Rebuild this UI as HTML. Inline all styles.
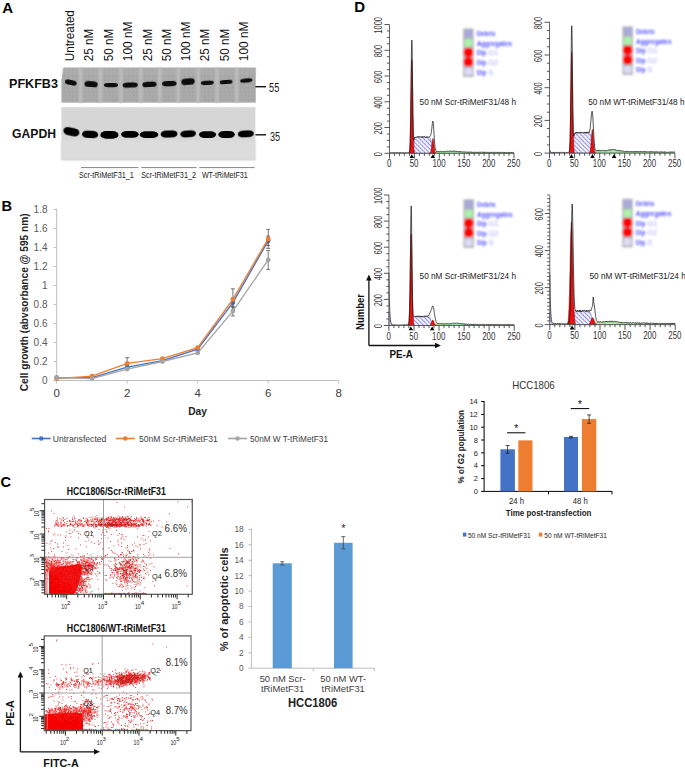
<!DOCTYPE html>
<html><head><meta charset="utf-8"><style>
html,body{margin:0;padding:0;background:#fff;}
svg{display:block;}
</style></head><body>
<svg width="685" height="769" viewBox="0 0 685 769" font-family="Liberation Sans, sans-serif">
<defs>
<filter id="b1" x="-50%" y="-50%" width="200%" height="200%"><feGaussianBlur stdDeviation="0.9"/></filter>
<filter id="b2" x="-50%" y="-50%" width="200%" height="200%"><feGaussianBlur stdDeviation="0.7"/></filter>
<filter id="b4" x="-5%" y="-5%" width="110%" height="110%"><feGaussianBlur stdDeviation="0.35"/></filter>
<filter id="b3" x="-20%" y="-20%" width="140%" height="140%"><feGaussianBlur stdDeviation="1.1"/></filter>
<pattern id="noise" width="4" height="4" patternUnits="userSpaceOnUse"><rect width="4" height="4" fill="#a9a9a9"/><rect x="0" y="0" width="1" height="1" fill="#9e9e9e"/><rect x="2" y="1" width="1" height="1" fill="#b3b3b3"/><rect x="1" y="3" width="1" height="1" fill="#a0a0a0"/><rect x="3" y="2" width="1" height="1" fill="#aeaeae"/></pattern>
<pattern id="hatch" width="3" height="3" patternUnits="userSpaceOnUse" patternTransform="rotate(-45)"><rect width="3" height="3" fill="#f4f4ff"/><line x1="0.5" y1="0" x2="0.5" y2="3" stroke="#5a5ad8" stroke-width="0.7"/><line x1="0" y1="1.5" x2="3" y2="1.5" stroke="#dcdcf4" stroke-width="0.5"/></pattern>
</defs>
<text x="2.2" y="12.8" font-size="15" text-anchor="start" fill="#000" font-weight="bold">A</text>
<text transform="translate(74.15,61.2) rotate(-90)" font-size="12" text-anchor="start" fill="#111" textLength="51.0" lengthAdjust="spacingAndGlyphs">Untreated</text>
<text transform="translate(93.3,61.2) rotate(-90)" font-size="12" text-anchor="start" fill="#111" textLength="32.4" lengthAdjust="spacingAndGlyphs">25 nM</text>
<text transform="translate(113.05,61.2) rotate(-90)" font-size="12" text-anchor="start" fill="#111" textLength="32.4" lengthAdjust="spacingAndGlyphs">50 nM</text>
<text transform="translate(132.45,61.2) rotate(-90)" font-size="12" text-anchor="start" fill="#111" textLength="39.6" lengthAdjust="spacingAndGlyphs">100 nM</text>
<text transform="translate(152.15,61.2) rotate(-90)" font-size="12" text-anchor="start" fill="#111" textLength="32.4" lengthAdjust="spacingAndGlyphs">25 nM</text>
<text transform="translate(171.35,61.2) rotate(-90)" font-size="12" text-anchor="start" fill="#111" textLength="32.4" lengthAdjust="spacingAndGlyphs">50 nM</text>
<text transform="translate(189.95,61.2) rotate(-90)" font-size="12" text-anchor="start" fill="#111" textLength="39.6" lengthAdjust="spacingAndGlyphs">100 nM</text>
<text transform="translate(209.45,61.2) rotate(-90)" font-size="12" text-anchor="start" fill="#111" textLength="32.4" lengthAdjust="spacingAndGlyphs">25 nM</text>
<text transform="translate(229.15,61.2) rotate(-90)" font-size="12" text-anchor="start" fill="#111" textLength="32.4" lengthAdjust="spacingAndGlyphs">50 nM</text>
<text transform="translate(248.35,61.2) rotate(-90)" font-size="12" text-anchor="start" fill="#111" textLength="39.6" lengthAdjust="spacingAndGlyphs">100 nM</text>
<path d="M63.7,67.8 H255.6 V102.6 H61.6 V80 Z" fill="#a9a9a9"/>
<path d="M63.7,67.8 H255.6 V102.6 H61.6 V80 Z" fill="url(#noise)" opacity="0.7"/>
<rect x="62" y="68" width="193.5" height="7" fill="#b0b0b0" opacity="0.5" filter="url(#b1)"/>
<rect x="79.1" y="68" width="3.0" height="34.5" fill="#c0c0c0" filter="url(#b1)"/>
<rect x="98.9" y="68" width="3.0" height="34.5" fill="#c0c0c0" filter="url(#b1)"/>
<rect x="119.4" y="68" width="3.0" height="34.5" fill="#c0c0c0" filter="url(#b1)"/>
<rect x="139.2" y="68" width="3.0" height="34.5" fill="#c0c0c0" filter="url(#b1)"/>
<rect x="158.3" y="68" width="3.0" height="34.5" fill="#c0c0c0" filter="url(#b1)"/>
<rect x="176.7" y="68" width="3.0" height="34.5" fill="#c0c0c0" filter="url(#b1)"/>
<rect x="196.7" y="68" width="3.0" height="34.5" fill="#c0c0c0" filter="url(#b1)"/>
<rect x="215.5" y="68" width="3.0" height="34.5" fill="#c0c0c0" filter="url(#b1)"/>
<rect x="235.1" y="68" width="3.0" height="34.5" fill="#c0c0c0" filter="url(#b1)"/>
<rect x="64.9" y="80.1" width="11.8" height="5.0" rx="3.5" ry="2.5" fill="#080808" filter="url(#b2)" transform="rotate(12,70.8,82.6)"/>
<rect x="84.5" y="81.3" width="13.2" height="5.8" rx="4.0" ry="2.9" fill="#080808" filter="url(#b2)" transform="rotate(4,91.1,84.2)"/>
<rect x="103.9" y="82.9" width="14.2" height="4.3" rx="4.3" ry="2.1" fill="#080808" filter="url(#b2)" transform="rotate(0,111,85.1)"/>
<rect x="122.6" y="82.4" width="15.2" height="5.2" rx="4.6" ry="2.6" fill="#080808" filter="url(#b2)" transform="rotate(-2,130.2,85)"/>
<rect x="142.4" y="81.8" width="14.2" height="5.2" rx="4.3" ry="2.6" fill="#080808" filter="url(#b2)" transform="rotate(-3,149.5,84.4)"/>
<rect x="162.0" y="80.9" width="14.6" height="5.4" rx="4.4" ry="2.7" fill="#080808" filter="url(#b2)" transform="rotate(-2,169.3,83.6)"/>
<rect x="181.3" y="78.6" width="13.4" height="6.2" rx="4.0" ry="3.1" fill="#080808" filter="url(#b2)" transform="rotate(-5,188,81.7)"/>
<rect x="200.8" y="80.7" width="13.0" height="4.2" rx="3.9" ry="2.1" fill="#080808" filter="url(#b2)" transform="rotate(-3,207.3,82.8)"/>
<rect x="219.7" y="79.9" width="12.8" height="4.2" rx="3.8" ry="2.1" fill="#080808" filter="url(#b2)" transform="rotate(-4,226.1,82)"/>
<rect x="240.2" y="78.6" width="12.2" height="3.9" rx="3.7" ry="1.9" fill="#080808" filter="url(#b2)" transform="rotate(-6,246.3,80.6)"/>
<rect x="61.4" y="107.2" width="194" height="53.1" fill="#d6d6d6"/>
<rect x="61.4" y="140" width="194" height="20.3" fill="#dcdcdc" filter="url(#b1)"/>
<rect x="63.3" y="127.7" width="16.2" height="8.0" rx="5.2" ry="4.0" fill="#030303" filter="url(#b2)" transform="rotate(12,71.4,131.7)"/>
<rect x="82.0" y="130.7" width="16.2" height="7.4" rx="5.2" ry="3.7" fill="#030303" filter="url(#b2)" transform="rotate(3,90.1,134.4)"/>
<rect x="100.3" y="131.1" width="18.2" height="7.6" rx="5.8" ry="3.8" fill="#030303" filter="url(#b2)" transform="rotate(0,109.4,134.9)"/>
<rect x="121.1" y="130.9" width="17.6" height="6.8" rx="5.6" ry="3.4" fill="#030303" filter="url(#b2)" transform="rotate(0,129.9,134.3)"/>
<rect x="139.7" y="131.3" width="18.6" height="6.8" rx="6.0" ry="3.4" fill="#030303" filter="url(#b2)" transform="rotate(0,149,134.7)"/>
<rect x="160.6" y="130.5" width="17" height="7.0" rx="5.4" ry="3.5" fill="#030303" filter="url(#b2)" transform="rotate(-2,169.1,134)"/>
<rect x="180.2" y="130.4" width="15.8" height="6.9" rx="5.1" ry="3.5" fill="#030303" filter="url(#b2)" transform="rotate(-4,188.1,133.8)"/>
<rect x="199.0" y="131.2" width="17.1" height="6.8" rx="5.5" ry="3.4" fill="#030303" filter="url(#b2)" transform="rotate(0,207.6,134.6)"/>
<rect x="218.3" y="131.0" width="16.5" height="7.0" rx="5.3" ry="3.5" fill="#030303" filter="url(#b2)" transform="rotate(0,226.6,134.5)"/>
<rect x="237.8" y="130.5" width="16.1" height="6.8" rx="5.2" ry="3.4" fill="#030303" filter="url(#b2)" transform="rotate(-3,245.8,133.9)"/>
<text x="9" y="87.7" font-size="12.6" text-anchor="start" fill="#111" font-weight="bold" textLength="48.9" lengthAdjust="spacingAndGlyphs">PFKFB3</text>
<text x="12.1" y="137.8" font-size="12.5" text-anchor="start" fill="#111" font-weight="bold" textLength="43.9" lengthAdjust="spacingAndGlyphs">GAPDH</text>
<line x1="255.4" y1="86.7" x2="266" y2="86.7" stroke="#111" stroke-width="1.4"/>
<line x1="255.4" y1="134.8" x2="266" y2="134.8" stroke="#111" stroke-width="1.4"/>
<text x="269.1" y="92.3" font-size="12" text-anchor="start" fill="#1a1a1a" textLength="10.2" lengthAdjust="spacingAndGlyphs">55</text>
<text x="269.9" y="140.5" font-size="12" text-anchor="start" fill="#1a1a1a" textLength="10.1" lengthAdjust="spacingAndGlyphs">35</text>
<line x1="81" y1="167.6" x2="138.5" y2="167.6" stroke="#777" stroke-width="0.9"/>
<line x1="141.2" y1="167.6" x2="196.5" y2="167.6" stroke="#777" stroke-width="0.9"/>
<line x1="199.2" y1="167.6" x2="254.6" y2="167.6" stroke="#777" stroke-width="0.9"/>
<text x="79" y="178.4" font-size="9.4" text-anchor="start" fill="#222" textLength="54.9" lengthAdjust="spacingAndGlyphs">Scr-tRiMetF31_1</text>
<text x="141.2" y="178.4" font-size="9.4" text-anchor="start" fill="#222" textLength="54.8" lengthAdjust="spacingAndGlyphs">Scr-tRiMetF31_2</text>
<text x="201.9" y="178.4" font-size="9.4" text-anchor="start" fill="#222" textLength="45.9" lengthAdjust="spacingAndGlyphs">WT-tRiMetF31</text>
<text x="1.6" y="210.6" font-size="14.6" text-anchor="start" fill="#000" font-weight="bold">B</text>
<line x1="56.7" y1="208.5" x2="56.7" y2="380.5" stroke="#bfbfbf" stroke-width="1"/>
<line x1="56.7" y1="380.5" x2="338.7" y2="380.5" stroke="#bfbfbf" stroke-width="1"/>
<line x1="53.7" y1="380.5" x2="56.7" y2="380.5" stroke="#bfbfbf" stroke-width="1"/>
<text x="47.5" y="384.0" font-size="10" text-anchor="end" fill="#595959">0</text>
<line x1="53.7" y1="361.5" x2="56.7" y2="361.5" stroke="#bfbfbf" stroke-width="1"/>
<text x="47.5" y="365.0" font-size="10" text-anchor="end" fill="#595959">0.2</text>
<line x1="53.7" y1="342.5" x2="56.7" y2="342.5" stroke="#bfbfbf" stroke-width="1"/>
<text x="47.5" y="346.0" font-size="10" text-anchor="end" fill="#595959">0.4</text>
<line x1="53.7" y1="323.5" x2="56.7" y2="323.5" stroke="#bfbfbf" stroke-width="1"/>
<text x="47.5" y="327.0" font-size="10" text-anchor="end" fill="#595959">0.6</text>
<line x1="53.7" y1="304.5" x2="56.7" y2="304.5" stroke="#bfbfbf" stroke-width="1"/>
<text x="47.5" y="308.0" font-size="10" text-anchor="end" fill="#595959">0.8</text>
<line x1="53.7" y1="285.5" x2="56.7" y2="285.5" stroke="#bfbfbf" stroke-width="1"/>
<text x="47.5" y="289.0" font-size="10" text-anchor="end" fill="#595959">1</text>
<line x1="53.7" y1="266.5" x2="56.7" y2="266.5" stroke="#bfbfbf" stroke-width="1"/>
<text x="47.5" y="270.0" font-size="10" text-anchor="end" fill="#595959">1.2</text>
<line x1="53.7" y1="247.5" x2="56.7" y2="247.5" stroke="#bfbfbf" stroke-width="1"/>
<text x="47.5" y="251.0" font-size="10" text-anchor="end" fill="#595959">1.4</text>
<line x1="53.7" y1="228.5" x2="56.7" y2="228.5" stroke="#bfbfbf" stroke-width="1"/>
<text x="47.5" y="232.0" font-size="10" text-anchor="end" fill="#595959">1.6</text>
<line x1="53.7" y1="209.5" x2="56.7" y2="209.5" stroke="#bfbfbf" stroke-width="1"/>
<text x="47.5" y="213.0" font-size="10" text-anchor="end" fill="#595959">1.8</text>
<line x1="56.7" y1="380.5" x2="56.7" y2="383.5" stroke="#bfbfbf" stroke-width="1"/>
<text x="56.7" y="396.6" font-size="11.5" text-anchor="middle" fill="#404040">0</text>
<line x1="127.2" y1="380.5" x2="127.2" y2="383.5" stroke="#bfbfbf" stroke-width="1"/>
<text x="127.2" y="396.6" font-size="11.5" text-anchor="middle" fill="#404040">2</text>
<line x1="197.7" y1="380.5" x2="197.7" y2="383.5" stroke="#bfbfbf" stroke-width="1"/>
<text x="197.7" y="396.6" font-size="11.5" text-anchor="middle" fill="#404040">4</text>
<line x1="268.2" y1="380.5" x2="268.2" y2="383.5" stroke="#bfbfbf" stroke-width="1"/>
<text x="268.2" y="396.6" font-size="11.5" text-anchor="middle" fill="#404040">6</text>
<line x1="338.7" y1="380.5" x2="338.7" y2="383.5" stroke="#bfbfbf" stroke-width="1"/>
<text x="338.7" y="396.6" font-size="11.5" text-anchor="middle" fill="#404040">8</text>
<text transform="translate(27.9,302.3) rotate(-90)" font-size="11" text-anchor="middle" fill="#222" font-weight="bold" textLength="177.9" lengthAdjust="spacingAndGlyphs">Cell growth (abvsorbance @ 595 nm)</text>
<text x="197.6" y="415" font-size="10.2" text-anchor="middle" fill="#222" font-weight="bold">Day</text>
<polyline points="56.7,377.6 92.0,377.6 127.2,367.2 162.4,360.6 197.7,349.1 232.9,302.6 268.2,240.8" fill="none" stroke="#4472c4" stroke-width="1.35"/>
<circle cx="56.7" cy="377.6" r="2.4" fill="#4472c4"/>
<circle cx="92.0" cy="377.6" r="2.4" fill="#4472c4"/>
<path d="M127.2,365.3V369.1M125.2,365.3h4M125.2,369.1h4" stroke="#555" stroke-width="0.8" fill="none"/>
<circle cx="127.2" cy="367.2" r="2.4" fill="#4472c4"/>
<circle cx="162.4" cy="360.6" r="2.4" fill="#4472c4"/>
<path d="M197.7,347.2V351.0M195.7,347.2h4M195.7,351.0h4" stroke="#555" stroke-width="0.8" fill="none"/>
<circle cx="197.7" cy="349.1" r="2.4" fill="#4472c4"/>
<path d="M232.9,297.9V307.4M230.9,297.9h4M230.9,307.4h4" stroke="#555" stroke-width="0.8" fill="none"/>
<circle cx="232.9" cy="302.6" r="2.4" fill="#4472c4"/>
<path d="M268.2,236.1V245.6M266.2,236.1h4M266.2,245.6h4" stroke="#555" stroke-width="0.8" fill="none"/>
<circle cx="268.2" cy="240.8" r="2.4" fill="#4472c4"/>
<polyline points="56.7,378.6 92.0,376.2 127.2,363.4 162.4,358.6 197.7,347.7 232.9,299.3 268.2,238.9" fill="none" stroke="#ed7d31" stroke-width="1.35"/>
<circle cx="56.7" cy="378.6" r="2.4" fill="#ed7d31"/>
<circle cx="92.0" cy="376.2" r="2.4" fill="#ed7d31"/>
<path d="M127.2,357.7V369.1M125.2,357.7h4M125.2,369.1h4" stroke="#555" stroke-width="0.8" fill="none"/>
<circle cx="127.2" cy="363.4" r="2.4" fill="#ed7d31"/>
<circle cx="162.4" cy="358.6" r="2.4" fill="#ed7d31"/>
<circle cx="197.7" cy="347.7" r="2.4" fill="#ed7d31"/>
<path d="M232.9,288.8V309.7M230.9,288.8h4M230.9,309.7h4" stroke="#555" stroke-width="0.8" fill="none"/>
<circle cx="232.9" cy="299.3" r="2.4" fill="#ed7d31"/>
<path d="M268.2,229.4V248.4M266.2,229.4h4M266.2,248.4h4" stroke="#555" stroke-width="0.8" fill="none"/>
<circle cx="268.2" cy="238.9" r="2.4" fill="#ed7d31"/>
<polyline points="56.7,377.6 92.0,378.6 127.2,369.1 162.4,361.5 197.7,352.9 232.9,311.1 268.2,259.9" fill="none" stroke="#a5a5a5" stroke-width="1.35"/>
<circle cx="56.7" cy="377.6" r="2.4" fill="#a5a5a5"/>
<circle cx="92.0" cy="378.6" r="2.4" fill="#a5a5a5"/>
<circle cx="127.2" cy="369.1" r="2.4" fill="#a5a5a5"/>
<circle cx="162.4" cy="361.5" r="2.4" fill="#a5a5a5"/>
<circle cx="197.7" cy="352.9" r="2.4" fill="#a5a5a5"/>
<path d="M232.9,306.4V315.9M230.9,306.4h4M230.9,315.9h4" stroke="#555" stroke-width="0.8" fill="none"/>
<circle cx="232.9" cy="311.1" r="2.4" fill="#a5a5a5"/>
<path d="M268.2,250.4V269.4M266.2,250.4h4M266.2,269.4h4" stroke="#555" stroke-width="0.8" fill="none"/>
<circle cx="268.2" cy="259.9" r="2.4" fill="#a5a5a5"/>
<line x1="31.7" y1="438.5" x2="50.7" y2="438.5" stroke="#4472c4" stroke-width="1.6"/>
<circle cx="41.2" cy="438.5" r="2.3" fill="#4472c4"/>
<line x1="115.8" y1="438.5" x2="134.8" y2="438.5" stroke="#ed7d31" stroke-width="1.6"/>
<circle cx="125.3" cy="438.5" r="2.3" fill="#ed7d31"/>
<line x1="228" y1="438.5" x2="247" y2="438.5" stroke="#a5a5a5" stroke-width="1.6"/>
<circle cx="237.5" cy="438.5" r="2.3" fill="#a5a5a5"/>
<text x="52.7" y="441.5" font-size="8.6" text-anchor="start" fill="#404040" textLength="53.7" lengthAdjust="spacingAndGlyphs">Untransfected</text>
<text x="139" y="441.5" font-size="8.6" text-anchor="start" fill="#404040" textLength="78.7" lengthAdjust="spacingAndGlyphs">50nM Scr-tRiMetF31</text>
<text x="250" y="441.5" font-size="8.6" text-anchor="start" fill="#404040" textLength="78" lengthAdjust="spacingAndGlyphs">50nM W T-tRiMetF31</text>
<text x="0.6" y="487.0" font-size="14.6" text-anchor="start" fill="#000" font-weight="bold">C</text>
<text x="66.8" y="494.9" font-size="10.6" text-anchor="start" fill="#111" font-weight="bold" textLength="99" lengthAdjust="spacingAndGlyphs">HCC1806/Scr-tRiMetF31</text>
<rect x="44.6" y="499.5" width="147.70000000000002" height="94.79999999999995" fill="#fff"/>
<g filter="url(#b4)">
<rect x="44.8" y="558" width="3.0" height="36.299999999999955" fill="#f4a4a4"/>
<path d="M49.0,571.0 L52.0,568.0 L60.0,566.5 L70.0,565.5 L78.0,564.0 L81.5,565.0 L82.0,568.0 L81.0,574.0 L79.5,580.0 L78.0,586.0 L76.0,591.0 L74.0,594.3 L49.0,594.3 z" fill="#f40000" filter="url(#b2)"/>
<path d="M57 576.95h0.9M77 570.95h0.9M56 573.95h0.9M72.5 581.95h0.9M57 565.45h0.9M74.5 577.95h0.9M82 581.45h0.9M67 572.45h0.9M91 572.45h0.9M61 566.45h0.9M69 575.45h0.9M65 573.95h0.9M70.5 579.45h0.9M78 575.95h0.9M52 579.45h0.9M55 573.45h0.9M54.5 574.45h0.9M61 575.95h0.9M97.5 573.95h0.9M75.5 564.95h0.9M65.5 578.95h0.9M67 576.95h0.9M69 567.45h0.9M73 568.95h0.9M85 570.95h0.9M74 574.45h0.9M76.5 570.45h0.9M77 573.45h0.9M79.5 578.95h0.9M69.5 568.95h0.9M75 577.95h0.9M83 571.95h0.9M73 577.95h0.9M70.5 575.95h0.9M69.5 570.45h0.9M59 571.45h0.9M73.5 584.95h0.9M77 581.95h0.9M75 579.45h0.9M69.5 579.95h0.9M84 571.95h0.9M62 587.95h0.9M70 581.45h0.9M76 566.45h0.9M90 586.95h0.9M69 568.45h0.9M78 579.45h0.9M68.5 583.95h0.9M61 579.95h0.9M78 572.45h0.9M52 567.95h0.9M70 577.95h0.9M82 567.45h0.9M68 578.95h0.9M66.5 557.95h0.9M75.5 590.45h0.9M77 567.95h0.9M64.5 575.95h0.9M90.5 578.95h0.9M69 585.45h0.9M67.5 587.45h0.9M62 570.95h0.9M74.5 584.45h0.9M74 576.45h0.9M51.5 569.45h0.9M62.5 570.95h0.9M73.5 571.95h0.9M75 574.95h0.9M65 575.45h0.9M72 580.45h0.9M63.5 572.95h0.9M55.5 585.45h0.9M81 572.95h0.9M63.5 565.95h0.9M69.5 575.95h0.9M87.5 575.95h0.9M61 557.45h0.9M80.5 575.95h0.9M53.5 575.95h0.9M78 578.45h0.9M66.5 559.45h0.9M67 563.45h0.9M73.5 559.45h0.9M60 582.95h0.9M83 565.95h0.9M54 580.45h0.9M75.5 567.45h0.9M62 569.45h0.9M57.5 569.45h0.9M79.5 579.45h0.9M86.5 573.95h0.9M67 567.45h0.9M67 565.45h0.9M81 580.45h0.9M80 576.45h0.9M61.5 574.95h0.9M64.5 566.45h0.9M53 563.95h0.9M68 575.45h0.9M63.5 584.45h0.9M69.5 578.45h0.9M79 568.95h0.9M50.5 579.95h0.9M62 583.45h0.9M71 581.45h0.9M75 559.95h0.9M74.5 569.95h0.9M61 571.45h0.9M75 580.45h0.9M77 562.95h0.9M62.5 557.95h0.9M67 578.45h0.9M60.5 568.45h0.9M61 586.95h0.9M78 573.45h0.9M70 575.45h0.9M70 572.95h0.9M65 565.45h0.9M62 585.95h0.9M73 574.95h0.9M66 574.95h0.9M71 569.95h0.9M70 575.95h0.9M61.5 568.95h0.9M59 566.95h0.9M76 557.95h0.9M65.5 569.95h0.9M62.5 574.95h0.9M78 574.95h0.9M66.5 569.95h0.9M67 580.95h0.9M56.5 566.95h0.9M55.5 581.95h0.9M71 572.95h0.9M81 569.95h0.9M75 579.95h0.9M54 563.45h0.9M59.5 580.95h0.9M79.5 565.95h0.9M77.5 571.95h0.9M64.5 570.45h0.9M65 561.95h0.9M59 565.95h0.9M72.5 588.95h0.9M92.5 571.95h0.9M52.5 571.45h0.9M59.5 588.45h0.9M73 569.45h0.9M76.5 578.45h0.9M53.5 570.95h0.9M66 574.45h0.9M69 571.95h0.9M60 584.95h0.9M71 577.45h0.9M53.5 573.45h0.9M75.5 565.45h0.9M78 571.95h0.9M71.5 573.45h0.9M70 582.95h0.9M64.5 585.45h0.9M61 567.95h0.9M74.5 566.95h0.9M64.5 580.95h0.9M79 561.95h0.9M72.5 587.45h0.9M79 572.95h0.9M62.5 572.45h0.9M57.5 572.45h0.9M66.5 573.45h0.9M78.5 572.95h0.9M55 581.95h0.9M58.5 571.45h0.9M67 571.95h0.9M59 572.95h0.9M87.5 570.45h0.9M67 582.45h0.9M74.5 579.95h0.9M76 560.45h0.9M60 575.45h0.9M72.5 583.45h0.9M72 572.95h0.9M68.5 572.95h0.9M70 578.95h0.9M65 568.95h0.9M60.5 581.95h0.9M79.5 581.45h0.9M75.5 580.45h0.9M58.5 572.95h0.9M61.5 579.45h0.9M63 573.45h0.9M71.5 583.95h0.9M75.5 566.95h0.9M72 570.45h0.9M67 561.95h0.9M74.5 570.95h0.9M60 588.95h0.9M71.5 571.95h0.9M68 577.45h0.9M72.5 567.95h0.9M69 570.95h0.9M57 580.45h0.9M74 574.95h0.9M60 560.45h0.9M72.5 573.95h0.9M53 573.95h0.9M69.5 576.95h0.9M57.5 571.95h0.9M70.5 578.95h0.9M82.5 556.45h0.9M71.5 572.95h0.9M88.5 580.95h0.9M53 577.45h0.9M63.5 581.45h0.9M58.5 573.95h0.9M67 573.95h0.9M62.5 561.45h0.9M72 581.45h0.9M67.5 567.45h0.9M70 578.45h0.9M66.5 574.45h0.9M80.5 566.45h0.9M63 560.95h0.9M61.5 569.45h0.9M59.5 569.45h0.9M84 572.95h0.9M67 589.95h0.9M67.5 562.45h0.9M71.5 567.95h0.9M82.5 565.95h0.9M63 563.45h0.9M67.5 571.95h0.9M62.5 580.95h0.9M76.5 574.95h0.9M60 566.95h0.9M70.5 590.95h0.9M64 568.95h0.9M61.5 566.95h0.9M81 574.45h0.9M63.5 562.95h0.9M70 574.45h0.9M57 566.95h0.9M67.5 581.45h0.9M73.5 575.95h0.9M65 576.45h0.9M68 589.45h0.9M58 571.95h0.9M79.5 572.45h0.9M81 573.95h0.9M69.5 571.95h0.9M55.5 567.45h0.9M88 578.95h0.9M73.5 580.95h0.9M73 581.45h0.9M65.5 572.95h0.9M77 571.95h0.9M56 572.95h0.9M63 578.95h0.9M65 585.45h0.9M67.5 575.45h0.9M68 576.45h0.9M76.5 584.45h0.9M53 583.95h0.9M68 572.45h0.9M89.5 573.45h0.9M85.5 581.45h0.9M58.5 577.95h0.9M74.5 573.45h0.9M47 571.95h0.9M66.5 566.45h0.9M84.5 572.95h0.9M64.5 572.45h0.9M61 568.95h0.9M69 576.45h0.9M63.5 573.95h0.9M55.5 577.95h0.9M61.5 575.95h0.9M60 570.95h0.9M70 565.95h0.9M90 573.95h0.9M67.5 569.45h0.9M82.5 583.95h0.9M70.5 564.95h0.9M63.5 578.95h0.9M57.5 568.95h0.9M68 569.95h0.9M84 566.95h0.9M71 574.95h0.9M67 581.95h0.9M65 571.95h0.9M64.5 573.95h0.9M79.5 579.95h0.9M56 571.45h0.9M70 580.45h0.9M67.5 560.95h0.9M72 575.95h0.9M72.5 565.45h0.9M68.5 569.45h0.9M62 576.95h0.9M71 568.45h0.9M52.5 556.95h0.9M63 582.45h0.9M67.5 558.45h0.9M60 577.45h0.9M83 582.45h0.9M71.5 575.95h0.9M68.5 571.95h0.9M71 584.45h0.9M74.5 577.45h0.9M66 563.95h0.9M59 583.45h0.9M65 576.95h0.9M86.5 566.45h0.9M70.5 568.95h0.9M85.5 568.45h0.9M68 580.95h0.9M62.5 579.45h0.9M61 578.45h0.9M72 582.95h0.9M71.5 565.95h0.9M74 566.95h0.9M75 584.95h0.9M73.5 570.45h0.9M78.5 575.45h0.9M57 571.95h0.9M81 572.45h0.9M53 570.95h0.9M71 575.95h0.9M79 579.45h0.9M77 583.45h0.9M64 570.45h0.9M71 585.95h0.9M53 572.95h0.9M61.5 578.45h0.9M57 574.95h0.9M65.5 563.45h0.9M76 570.95h0.9M74 565.45h0.9M78 564.45h0.9M77.5 561.95h0.9M80.5 571.95h0.9M54 572.95h0.9M71 567.45h0.9M63.5 576.45h0.9M66.5 552.95h0.9M64 577.45h0.9M70.5 581.45h0.9M62 592.45h0.9M75 576.45h0.9M78 580.95h0.9M69 569.95h0.9M77 577.45h0.9M51 566.95h0.9M72 575.45h0.9M69.5 585.45h0.9M62.5 571.45h0.9M71 579.45h0.9M63.5 582.45h0.9M72 566.95h0.9M67 588.95h0.9M75 570.95h0.9M46.5 569.45h0.9M89 579.45h0.9M71 567.95h0.9M57.5 572.95h0.9M64.5 569.95h0.9M57 583.45h0.9M65 564.95h0.9M71 577.95h0.9M65 579.45h0.9M75.5 568.45h0.9M49.5 557.95h0.9M67 582.95h0.9M77 583.95h0.9M84.5 574.45h0.9M77.5 563.95h0.9M74 576.95h0.9M67 571.45h0.9M58 575.45h0.9M79.5 571.95h0.9M73 569.95h0.9M70.5 567.45h0.9M71 570.45h0.9M77.5 585.45h0.9M65 579.95h0.9M75 576.95h0.9M54 576.95h0.9M59.5 582.45h0.9M75 578.95h0.9M45 578.95h0.9M74.5 565.45h0.9M66.5 569.45h0.9M96 575.95h0.9M70 569.95h0.9M62.5 570.45h0.9M60 580.45h0.9M65.5 580.45h0.9M57.5 580.95h0.9M67 568.45h0.9M79 571.45h0.9M66.5 568.45h0.9M70 571.95h0.9M70.5 576.95h0.9M62 564.45h0.9M72 580.95h0.9M74.5 566.45h0.9M73.5 576.95h0.9M70.5 577.45h0.9M65 575.95h0.9M76.5 570.95h0.9M55 573.95h0.9M70 561.45h0.9M62 578.45h0.9M66.5 574.95h0.9M56.5 580.95h0.9M61.5 566.45h0.9M76 574.95h0.9M61 582.95h0.9M75 578.45h0.9M52 573.95h0.9M73.5 565.95h0.9M77.5 569.45h0.9M61.5 580.95h0.9M77 582.95h0.9M79 573.95h0.9M64.5 561.45h0.9M75 590.45h0.9M64 570.95h0.9M55.5 569.45h0.9M58 588.45h0.9M61.5 580.45h0.9M85.5 587.95h0.9M81 585.95h0.9M61.5 572.45h0.9M91.5 562.45h0.9M73 565.95h0.9M80 583.45h0.9M63.5 588.95h0.9M68.5 583.45h0.9M64.5 573.45h0.9M73.5 575.45h0.9M89 572.95h0.9M64 569.45h0.9M61 564.45h0.9M59 580.95h0.9M68.5 573.45h0.9M71 581.95h0.9M73.5 579.95h0.9M63 572.45h0.9M61 573.95h0.9M60.5 571.95h0.9M66.5 572.95h0.9M65.5 570.95h0.9M80 571.95h0.9M59 575.95h0.9M58 566.95h0.9M69 562.95h0.9M77.5 562.95h0.9M60 578.45h0.9M50 568.45h0.9M57 572.95h0.9M50 580.95h0.9M66.5 576.45h0.9M65 559.45h0.9M66.5 564.95h0.9M68 568.45h0.9M65 572.95h0.9M59 574.45h0.9M81 577.95h0.9M61.5 573.45h0.9M65 580.95h0.9M68.5 576.95h0.9M88 564.95h0.9M59 562.45h0.9M53.5 580.45h0.9M70.5 585.95h0.9M81 581.45h0.9M76 580.45h0.9M68.5 574.45h0.9M68.5 580.45h0.9M81 566.45h0.9M65.5 573.45h0.9M87 577.45h0.9M64 581.95h0.9M90.5 566.45h0.9M62 575.45h0.9M62.5 589.45h0.9M72.5 571.45h0.9M72.5 568.95h0.9M89.5 558.45h0.9M72 583.95h0.9M74.5 587.95h0.9M67 570.95h0.9M61 558.95h0.9M64.5 575.45h0.9M69.5 580.45h0.9M71 578.95h0.9M60 563.95h0.9M59 581.95h0.9M77 568.45h0.9M69 580.45h0.9M80 569.95h0.9M66 584.45h0.9M89.5 584.95h0.9M57.5 577.45h0.9M65.5 573.95h0.9M68 586.95h0.9M68 568.95h0.9M66 582.95h0.9M75.5 587.95h0.9M70.5 574.45h0.9M53.5 577.45h0.9M52.5 584.95h0.9M62.5 574.45h0.9M56 570.95h0.9M50.5 573.95h0.9M63.5 566.45h0.9M73.5 572.95h0.9M69 570.45h0.9M63 571.45h0.9M53.5 578.95h0.9M71.5 562.45h0.9M69 582.45h0.9M70 583.45h0.9M65.5 574.45h0.9M56.5 567.95h0.9M51.5 567.95h0.9M59 577.45h0.9M66.5 586.95h0.9M85.5 580.95h0.9M58 570.95h0.9M69.5 569.45h0.9M72.5 579.45h0.9M75.5 575.95h0.9M60 568.45h0.9M67 583.95h0.9M71.5 578.95h0.9M75.5 583.45h0.9M75.5 563.95h0.9M76.5 576.95h0.9M64 577.95h0.9M70.5 573.95h0.9M53 575.45h0.9M73 573.95h0.9M74.5 575.95h0.9M72 571.95h0.9M62 577.95h0.9M97.5 579.45h0.9M69 579.95h0.9M61.5 572.95h0.9M47.5 578.45h0.9M80.5 573.45h0.9M77 576.45h0.9M66 572.45h0.9M60.5 583.45h0.9M76 567.45h0.9M75.5 569.45h0.9M54.5 582.95h0.9M56.5 582.95h0.9M70 580.95h0.9M72.5 582.45h0.9M71 578.45h0.9M70 581.95h0.9M64.5 581.45h0.9M81.5 573.95h0.9M72 570.95h0.9M65.5 576.45h0.9M65 568.45h0.9M67.5 575.95h0.9M52 584.45h0.9M66.5 568.95h0.9M64.5 577.45h0.9M76 571.95h0.9M69.5 563.45h0.9M69.5 573.45h0.9M64 580.45h0.9M84 581.45h0.9M61 584.95h0.9M63 577.45h0.9M73 575.45h0.9M66 573.45h0.9M63.5 573.45h0.9M66 569.45h0.9M66 564.45h0.9M71.5 578.45h0.9M65.5 585.45h0.9M60.5 578.45h0.9M72.5 570.95h0.9M66 580.45h0.9M68.5 576.45h0.9M53 569.45h0.9M75.5 573.45h0.9M58.5 560.45h0.9M71 584.95h0.9M57 559.45h0.9M72.5 570.45h0.9M65.5 572.45h0.9M76 576.95h0.9M63 581.45h0.9M59.5 578.95h0.9M74.5 583.45h0.9M68.5 577.45h0.9M63 580.45h0.9M75 581.95h0.9M64.5 565.95h0.9M67.5 572.95h0.9M78 577.45h0.9M59.5 570.45h0.9M76 575.45h0.9M77 568.95h0.9M67 584.95h0.9M72 581.95h0.9M51 562.95h0.9M60.5 581.45h0.9M82.5 569.95h0.9M59.5 567.45h0.9M65 587.45h0.9M70 573.45h0.9M75 580.95h0.9M65 580.45h0.9M65 569.95h0.9M79.5 574.45h0.9M75 585.45h0.9M71 582.95h0.9M71.5 579.45h0.9M69 577.45h0.9M82.5 581.45h0.9M75 592.45h0.9M75.5 572.45h0.9M87 579.45h0.9M82 590.45h0.9M71.5 582.95h0.9M75 586.45h0.9M78 573.95h0.9M78.5 587.95h0.9M76.5 586.45h0.9M75.5 581.95h0.9M79.5 583.45h0.9M84.5 588.95h0.9M82 587.45h0.9M79 574.45h0.9M79 580.95h0.9M78 590.95h0.9M79.5 575.95h0.9M74 592.45h0.9M83 571.45h0.9M73 579.45h0.9M76 572.95h0.9M82.5 571.45h0.9M81.5 587.45h0.9M76 577.95h0.9M78.5 583.45h0.9M68 573.95h0.9M80.5 581.95h0.9M76 575.95h0.9M91.5 573.95h0.9M85.5 585.95h0.9M79 583.95h0.9M76 593.45h0.9M80.5 582.45h0.9M77.5 583.95h0.9M72.5 580.45h0.9M75 586.95h0.9M77 589.45h0.9M71.5 574.45h0.9M83 581.45h0.9M76 573.95h0.9M79 578.45h0.9M79 585.45h0.9M81.5 580.45h0.9M75.5 582.95h0.9M77.5 583.45h0.9M75.5 580.95h0.9M79 590.45h0.9M75.5 586.45h0.9M81.5 578.45h0.9M81 584.45h0.9M73 582.95h0.9M80 575.95h0.9M84 585.45h0.9M88.5 565.45h0.9M69 586.95h0.9M77.5 577.95h0.9M81 582.95h0.9M79.5 584.45h0.9M72.5 591.45h0.9M76 590.45h0.9M81.5 582.95h0.9M78.5 581.95h0.9M80 571.45h0.9M70.5 589.95h0.9M82 571.95h0.9M83 580.45h0.9M79 581.45h0.9M74.5 586.95h0.9M73 571.95h0.9M73.5 589.95h0.9M75.5 586.95h0.9M81.5 578.95h0.9M81.5 585.95h0.9M77.5 573.45h0.9M80 584.95h0.9M75 588.45h0.9M84 582.95h0.9M74.5 585.95h0.9M66 578.45h0.9M74.5 592.95h0.9M66.5 589.95h0.9M79 589.45h0.9M77 578.45h0.9M77 592.95h0.9M82 580.45h0.9M80 588.45h0.9M81 581.95h0.9M75 577.45h0.9M76 578.45h0.9M70 572.45h0.9M82.5 574.95h0.9M71.5 581.95h0.9M85 591.45h0.9M75.5 585.95h0.9M72.5 576.95h0.9M76.5 582.45h0.9M72.5 577.45h0.9M80.5 580.95h0.9M62.5 586.95h0.9M77.5 576.45h0.9M76.5 561.45h0.9M70 590.45h0.9M74.5 582.95h0.9M82 573.95h0.9M86.5 577.45h0.9M80 574.45h0.9M80 582.45h0.9M83.5 574.45h0.9M72 584.95h0.9M80 578.95h0.9M76.5 592.45h0.9M83.5 586.45h0.9M83.5 572.95h0.9M67.5 577.95h0.9M76.5 584.95h0.9M84.5 572.45h0.9M80.5 585.45h0.9M70.5 591.45h0.9M91.5 591.45h0.9M80 591.95h0.9M84 574.45h0.9M80.5 592.45h0.9M75.5 587.45h0.9M79 585.95h0.9M79.5 584.95h0.9M84.5 578.95h0.9M76 585.95h0.9M85.5 581.95h0.9M77.5 575.95h0.9M76 588.95h0.9M82.5 590.45h0.9M70 588.45h0.9M73.5 586.45h0.9M66 581.95h0.9M73.5 591.45h0.9M78.5 591.45h0.9M75.5 575.45h0.9M82.5 579.45h0.9M77.5 572.95h0.9M76.5 583.45h0.9M74.5 585.45h0.9M66.5 588.95h0.9M76 592.95h0.9M75.5 584.45h0.9M81 578.95h0.9M74 585.45h0.9M82 569.95h0.9M72.5 577.95h0.9M86.5 590.95h0.9M82 585.95h0.9M72.5 590.45h0.9M88 572.45h0.9M85 583.95h0.9M73.5 583.95h0.9M74.5 573.95h0.9M91.5 578.95h0.9M83 581.95h0.9M81.5 573.45h0.9M72.5 559.45h0.9M83 585.45h0.9M72 588.45h0.9M79 588.95h0.9M81 587.95h0.9M81.5 591.45h0.9M72 574.45h0.9M77 570.45h0.9M82 587.95h0.9M88 583.95h0.9M88 577.45h0.9M82.5 583.45h0.9M85 590.45h0.9M82.5 588.95h0.9M74 581.95h0.9M78.5 577.45h0.9M79 589.95h0.9M84 580.95h0.9M72.5 587.95h0.9M86.5 568.95h0.9M77.5 582.95h0.9M83.5 592.95h0.9M77 571.45h0.9M81.5 589.45h0.9M80.5 582.95h0.9M83 584.45h0.9M81.5 584.95h0.9M86.5 592.45h0.9M75 589.45h0.9M84 579.45h0.9M77.5 576.95h0.9M73.5 583.45h0.9M73 585.45h0.9M87 586.45h0.9M83.5 585.45h0.9M73 580.45h0.9M78.5 585.45h0.9M78 574.45h0.9M83 582.95h0.9M78.5 582.45h0.9M67.5 572.45h0.9M73.5 589.45h0.9M73 576.45h0.9M75.5 589.95h0.9M69.5 581.45h0.9M78 587.95h0.9M79.5 575.45h0.9M81 576.95h0.9M76.5 592.95h0.9M90.5 592.95h0.9M80 576.95h0.9M79.5 572.95h0.9M86 586.45h0.9M84.5 585.45h0.9M67 577.45h0.9M77.5 581.45h0.9M85.5 577.95h0.9M77.5 581.95h0.9M77.5 574.95h0.9M72 564.45h0.9M79.5 580.95h0.9M79 574.95h0.9M78 575.45h0.9M73 584.95h0.9M81 586.45h0.9M78 579.95h0.9M67.5 576.45h0.9M79.5 589.45h0.9M68.5 579.45h0.9M85.5 592.45h0.9M73.5 585.45h0.9M70.5 582.95h0.9M71.5 590.45h0.9M84.5 589.45h0.9M81.5 590.45h0.9M79.5 588.45h0.9M80.5 587.95h0.9M73 588.45h0.9M80.5 576.95h0.9M73 578.45h0.9M77.5 593.95h0.9M86.5 587.45h0.9M72.5 589.95h0.9M71.5 586.45h0.9M65.5 575.45h0.9M82.5 578.45h0.9M78 578.95h0.9M85.5 584.95h0.9M72 578.95h0.9M76.5 585.95h0.9M86 578.95h0.9M80 590.45h0.9M76 579.95h0.9M78.5 573.45h0.9M87 572.95h0.9M76 576.45h0.9M85.5 578.95h0.9M78 583.95h0.9M74.5 581.45h0.9M77 587.45h0.9M82 588.45h0.9M77.5 587.95h0.9M77 590.45h0.9M80 579.45h0.9M73 576.95h0.9M77.5 573.95h0.9M72 568.95h0.9M78.5 576.95h0.9M89 587.95h0.9M72.5 591.95h0.9M86.5 569.95h0.9M79.5 569.95h0.9M92.5 563.95h0.9M81 563.95h0.9M87.5 574.95h0.9M97 571.45h0.9M84.5 563.95h0.9M88.5 564.45h0.9M83 564.45h0.9M91 565.45h0.9M87.5 564.45h0.9M85 563.95h0.9M93.5 566.45h0.9M95 564.95h0.9M92.5 559.95h0.9M83.5 565.45h0.9M82 564.95h0.9M80.5 564.95h0.9M82 565.45h0.9M84.5 561.45h0.9M78.5 565.95h0.9M93.5 564.45h0.9M89.5 567.95h0.9M81 570.95h0.9M101 561.45h0.9M99 562.45h0.9M95 557.95h0.9M93 565.95h0.9M78.5 561.95h0.9M79.5 561.95h0.9M88.5 564.95h0.9M71 564.45h0.9M89 565.95h0.9M96 557.95h0.9M87.5 565.45h0.9M90.5 559.95h0.9M78 564.95h0.9M86.5 557.95h0.9M90.5 554.95h0.9M89 561.95h0.9M83 568.45h0.9M96 565.95h0.9M85.5 570.95h0.9M83 561.45h0.9M87 573.45h0.9M87.5 567.45h0.9M86 569.95h0.9M87 561.95h0.9M86.5 571.45h0.9M85.5 570.45h0.9M85.5 573.45h0.9M87.5 567.95h0.9M84.5 568.95h0.9M84.5 559.45h0.9M88 560.45h0.9M95 568.45h0.9M86 568.45h0.9M70.5 571.45h0.9M82 567.95h0.9M101.5 558.95h0.9M83.5 566.95h0.9M88.5 558.45h0.9M80.5 571.45h0.9M82.5 567.95h0.9M78 561.95h0.9M75 566.45h0.9M84.5 566.45h0.9M89 564.45h0.9M99.5 562.95h0.9M92 570.45h0.9M89.5 564.45h0.9M92 569.95h0.9M93 560.95h0.9M84 574.95h0.9M89.5 566.45h0.9M85 566.45h0.9M84.5 567.95h0.9M91.5 568.95h0.9M78.5 563.95h0.9M86.5 560.45h0.9M86.5 566.95h0.9M82.5 571.95h0.9M92.5 563.45h0.9M89 568.45h0.9M81.5 563.95h0.9M78 566.95h0.9M90 561.95h0.9M91 574.45h0.9M86.5 561.45h0.9M90.5 571.45h0.9M77.5 565.45h0.9M91 565.95h0.9M82 562.95h0.9M77.5 566.45h0.9M83.5 568.95h0.9M92 561.95h0.9M79.5 567.95h0.9M89.5 563.95h0.9M97 562.45h0.9M88.5 563.95h0.9M68.5 564.95h0.9M85 567.95h0.9M85.5 562.45h0.9M90.5 564.45h0.9M93.5 568.95h0.9M81.5 569.45h0.9M80 564.95h0.9M93 565.45h0.9M85 570.45h0.9M81.5 561.95h0.9M92 567.95h0.9M77.5 565.95h0.9M91 564.95h0.9M83.5 565.95h0.9M87.5 562.45h0.9M91 558.95h0.9M85.5 573.95h0.9M79.5 565.45h0.9M72.5 561.95h0.9M79 565.95h0.9M83 572.95h0.9M80.5 565.45h0.9M91.5 559.45h0.9M99.5 564.45h0.9M81.5 558.95h0.9M83.5 558.45h0.9M87 562.95h0.9M88 562.45h0.9M86.5 574.45h0.9M76 559.95h0.9M94 562.95h0.9M94 567.95h0.9M99 572.45h0.9M89.5 562.95h0.9M89.5 570.95h0.9M87 553.95h0.9M84 563.95h0.9M85.5 563.95h0.9M93 560.45h0.9M88.5 557.45h0.9M73 561.45h0.9M89.5 565.95h0.9M87 562.45h0.9M80 559.95h0.9M83.5 560.95h0.9M84 568.45h0.9M80.5 556.45h0.9M79.5 573.45h0.9M90 563.95h0.9M94 563.95h0.9M96 563.95h0.9M83.5 568.45h0.9M79 564.95h0.9M97.5 567.45h0.9M79.5 564.45h0.9M86 562.45h0.9M88.5 570.45h0.9M88 565.95h0.9M94 563.45h0.9M80.5 567.45h0.9M89 564.95h0.9M77.5 567.95h0.9M77 557.95h0.9M66 561.95h0.9M86 563.95h0.9M90.5 569.45h0.9M84.5 571.95h0.9M85 561.95h0.9M87 559.95h0.9M84 560.95h0.9M83.5 566.45h0.9M71.5 566.95h0.9M90.5 566.95h0.9M84 561.45h0.9M90.5 568.45h0.9M77 562.45h0.9M82.5 560.45h0.9M95 567.45h0.9M87.5 566.45h0.9M85 565.45h0.9M91.5 567.45h0.9M97 563.45h0.9M78 565.95h0.9M79 575.95h0.9M88 573.45h0.9M80 565.45h0.9M76 570.45h0.9M85.5 572.45h0.9M81.5 568.45h0.9M81.5 562.45h0.9M79.5 566.95h0.9M91 562.45h0.9M96.5 564.45h0.9M78.5 568.95h0.9M85.5 561.95h0.9M83.5 555.95h0.9M81 560.45h0.9M78 567.95h0.9M87.5 572.45h0.9M69.5 562.95h0.9M92 565.95h0.9M86.5 562.45h0.9M83 563.45h0.9M70.5 572.95h0.9M90.5 573.95h0.9M93.5 567.45h0.9M91 558.45h0.9M80 568.95h0.9M83.5 558.95h0.9M86 559.95h0.9M86 571.95h0.9M79 563.45h0.9M89 565.45h0.9M84 555.95h0.9M79 564.45h0.9M90 570.45h0.9M93 561.95h0.9M83.5 572.45h0.9M83 566.45h0.9M81 562.95h0.9M68 562.95h0.9M72.5 561.45h0.9M80 570.95h0.9M82.5 559.95h0.9M85 568.95h0.9M84.5 565.45h0.9M80 569.45h0.9M95.5 558.95h0.9M86 567.95h0.9M88 566.45h0.9M88.5 558.95h0.9M85.5 569.95h0.9M85.5 564.45h0.9M88.5 571.45h0.9M84.5 561.95h0.9M89 563.45h0.9M81 565.95h0.9M75.5 567.95h0.9M78.5 562.95h0.9M90.5 565.45h0.9M87.5 570.95h0.9M95 573.95h0.9M82.5 568.95h0.9M76 568.45h0.9M94 562.45h0.9M88.5 568.95h0.9M85 562.95h0.9M95 559.95h0.9M87 569.45h0.9M87.5 571.95h0.9M96.5 568.45h0.9M87.5 565.95h0.9M54 566.95h0.9M54 569.45h0.9M48 560.95h0.9M49.5 570.45h0.9M50.5 571.45h0.9M49 569.45h0.9M52 569.95h0.9M52 566.95h0.9M49.5 571.45h0.9M51.5 568.45h0.9M55 562.95h0.9M47.5 565.95h0.9M58.5 561.95h0.9M46.5 562.45h0.9M50 561.95h0.9M48 568.45h0.9M46.5 566.45h0.9M46 565.45h0.9M54.5 558.45h0.9M52 567.45h0.9M51.5 567.45h0.9M54 560.95h0.9M51.5 568.95h0.9M58.5 560.95h0.9M49 560.95h0.9M52 561.95h0.9M47 569.45h0.9M63.5 557.95h0.9M60 562.45h0.9M55.5 567.95h0.9M58 565.45h0.9M56 562.95h0.9M54 566.45h0.9M53 566.45h0.9M55 569.45h0.9M50.5 564.95h0.9M46.5 563.45h0.9M54.5 570.45h0.9M58 562.95h0.9M47.5 565.45h0.9M46 563.95h0.9M55.5 566.95h0.9M50 563.95h0.9M45.5 574.95h0.9M50 565.95h0.9M49.5 563.95h0.9M55 560.45h0.9M52 564.95h0.9M60.5 567.95h0.9M54 568.45h0.9M55 566.95h0.9M50.5 569.45h0.9M53.5 563.95h0.9M47.5 562.45h0.9M53.5 565.95h0.9M47.5 564.95h0.9M51.5 563.95h0.9M52.5 569.45h0.9M58.5 563.45h0.9M55 567.45h0.9M52.5 569.95h0.9M56.5 561.45h0.9M59.5 565.45h0.9M48.5 563.45h0.9M51 561.95h0.9M57.5 567.95h0.9M47.5 569.95h0.9M53 566.95h0.9M57 565.95h0.9M50.5 568.45h0.9M54.5 570.95h0.9M48.5 565.45h0.9M55 572.45h0.9M61 570.45h0.9M46 561.95h0.9M52.5 559.95h0.9M55.5 563.95h0.9M53.5 566.95h0.9M56 561.95h0.9M53 565.95h0.9M55 568.45h0.9M53 568.45h0.9M54 571.95h0.9M53.5 568.45h0.9M56 570.45h0.9M47 566.45h0.9M50.5 566.45h0.9M49.5 564.95h0.9M51.5 566.95h0.9M57 562.95h0.9M54.5 565.45h0.9M46 570.45h0.9M46.5 570.95h0.9M51 569.95h0.9M52 559.45h0.9M48.5 557.95h0.9M54 569.95h0.9M57 560.95h0.9M62.5 573.95h0.9M51.5 558.45h0.9M47.5 570.45h0.9M62.5 564.45h0.9M45 557.95h0.9M49.5 565.45h0.9M52.5 564.95h0.9M49 563.95h0.9M49 571.45h0.9M54 570.45h0.9M51.5 570.45h0.9M51 563.95h0.9M54 564.45h0.9M52 566.45h0.9M56.5 566.45h0.9M49.5 578.45h0.9M51 565.45h0.9M51 563.45h0.9M59.5 558.95h0.9M48 567.95h0.9M48.5 568.45h0.9M51.5 561.95h0.9M51 564.45h0.9M54.5 556.45h0.9M52.5 567.45h0.9M49.5 567.95h0.9M51 561.45h0.9M46 556.95h0.9M57.5 567.45h0.9M55.5 560.95h0.9M50.5 567.95h0.9M51.5 565.95h0.9M53 567.45h0.9M49.5 565.95h0.9M56.5 562.95h0.9M50 572.95h0.9M48 562.95h0.9M57.5 566.95h0.9M51.5 571.95h0.9M46 565.95h0.9M54.5 567.45h0.9M46 562.45h0.9M61 565.95h0.9M50.5 570.95h0.9M47 566.95h0.9M47.5 566.95h0.9M53.5 566.45h0.9M50.5 567.45h0.9M50.5 564.45h0.9M55 569.95h0.9M45 562.45h0.9M48 567.45h0.9M45 572.45h0.9M56.5 563.45h0.9M54 567.95h0.9M58.5 562.45h0.9M59 568.95h0.9M53 570.45h0.9M50.5 565.45h0.9M56 564.95h0.9M48.5 562.95h0.9M47.5 563.95h0.9M48.5 574.95h0.9M62 570.45h0.9M58.5 564.45h0.9M48.5 572.45h0.9M59.5 562.45h0.9M61.5 563.95h0.9M52 571.45h0.9M51 568.45h0.9M51.5 559.95h0.9M49.5 569.95h0.9M49.5 560.45h0.9M49.5 566.95h0.9M54.5 567.95h0.9M54.5 562.45h0.9M49 563.45h0.9M58.5 565.45h0.9M57.5 570.95h0.9M53 560.95h0.9M61.5 558.95h0.9M46 569.45h0.9M48.5 569.45h0.9M47 570.95h0.9M57 560.45h0.9M47.5 559.45h0.9M46.5 570.45h0.9M59 570.45h0.9M55.5 564.95h0.9M50 567.95h0.9M56.5 570.95h0.9M53.5 565.45h0.9M52 572.95h0.9M53.5 574.45h0.9M48.5 569.95h0.9M48.5 567.95h0.9M52 565.45h0.9M46 560.95h0.9M50.5 568.95h0.9M53.5 567.45h0.9M54 561.45h0.9M93.5 526.95h0.9M109 524.95h0.9M110.5 524.45h0.9M140 520.95h0.9M99.5 519.95h0.9M109 524.45h0.9M135 526.95h0.9M105.5 519.95h0.9M131 524.45h0.9M114 524.95h0.9M97.5 525.45h0.9M115 520.45h0.9M107.5 523.95h0.9M98 523.95h0.9M122.5 524.95h0.9M108 525.45h0.9M90.5 524.95h0.9M110.5 520.45h0.9M104 524.95h0.9M111.5 518.95h0.9M91 521.45h0.9M137 525.95h0.9M124.5 523.95h0.9M112 524.45h0.9M104.5 525.95h0.9M120 524.95h0.9M107.5 524.95h0.9M102.5 522.45h0.9M98.5 522.95h0.9M127.5 522.95h0.9M111.5 522.45h0.9M143 522.45h0.9M99.5 520.45h0.9M143.5 524.95h0.9M113 524.45h0.9M98.5 521.45h0.9M133.5 524.95h0.9M87.5 522.45h0.9M124 520.95h0.9M117 521.95h0.9M145 522.95h0.9M115.5 523.45h0.9M74.5 527.45h0.9M135.5 519.45h0.9M114 518.45h0.9M106.5 518.45h0.9M60.5 519.95h0.9M100 524.95h0.9M112.5 518.95h0.9M141.5 517.95h0.9M114 519.45h0.9M128 516.95h0.9M123 522.95h0.9M151 521.45h0.9M123 517.95h0.9M73 525.95h0.9M106.5 526.95h0.9M114.5 525.95h0.9M125.5 517.95h0.9M125 525.95h0.9M128.5 525.95h0.9M112 525.95h0.9M91 524.95h0.9M118.5 521.95h0.9M141 523.45h0.9M123 519.95h0.9M117.5 519.95h0.9M135 524.45h0.9M85.5 518.95h0.9M109 525.45h0.9M107.5 527.45h0.9M101 518.95h0.9M117.5 525.45h0.9M93 526.95h0.9M118.5 520.95h0.9M113 519.45h0.9M77.5 526.95h0.9M107 523.45h0.9M124 525.95h0.9M121 520.45h0.9M130 517.95h0.9M75.5 524.45h0.9M140 522.95h0.9M124.5 520.45h0.9M123.5 524.95h0.9M116 519.95h0.9M119.5 516.95h0.9M131.5 524.95h0.9M117.5 518.45h0.9M140.5 516.95h0.9M80 522.95h0.9M124 524.45h0.9M114 525.45h0.9M95 526.45h0.9M117.5 525.95h0.9M107 526.45h0.9M112.5 522.45h0.9M109.5 516.95h0.9M133.5 526.95h0.9M120.5 524.45h0.9M125.5 524.45h0.9M116.5 518.95h0.9M87 519.45h0.9M110.5 526.45h0.9M120.5 522.45h0.9M134.5 521.95h0.9M144 517.45h0.9M103 525.95h0.9M123 525.95h0.9M106.5 524.95h0.9M112.5 521.95h0.9M125 523.95h0.9M101 519.95h0.9M131 516.45h0.9M96.5 519.95h0.9M106.5 519.95h0.9M97 518.45h0.9M108 523.95h0.9M95 519.45h0.9M117 525.45h0.9M110.5 525.45h0.9M116 521.95h0.9M107.5 524.45h0.9M128 523.95h0.9M85 520.95h0.9M89 524.45h0.9M107 519.45h0.9M131 525.95h0.9M113.5 517.95h0.9M79.5 521.45h0.9M101 524.45h0.9M109.5 522.45h0.9M110.5 519.95h0.9M107 525.95h0.9M134.5 523.45h0.9M119.5 521.95h0.9M96.5 515.45h0.9M108 517.45h0.9M64 524.45h0.9M115.5 517.45h0.9M142.5 520.45h0.9M108 520.45h0.9M116.5 526.45h0.9M119.5 523.95h0.9M106 527.45h0.9M117.5 524.95h0.9M127.5 524.45h0.9M121 517.95h0.9M93.5 520.95h0.9M148.5 520.95h0.9M95 524.45h0.9M139 525.45h0.9M98 521.45h0.9M123.5 518.45h0.9M121 518.45h0.9M125 524.95h0.9M131.5 523.45h0.9M112 521.95h0.9M127.5 525.45h0.9M110.5 516.95h0.9M138 525.95h0.9M111.5 520.45h0.9M112 524.95h0.9M78.5 523.45h0.9M93.5 524.45h0.9M108.5 519.95h0.9M108 524.45h0.9M124.5 526.45h0.9M95 521.95h0.9M61 525.95h0.9M114.5 524.45h0.9M107 518.95h0.9M87.5 525.45h0.9M144.5 523.95h0.9M61.5 523.95h0.9M116.5 524.95h0.9M125 526.95h0.9M134 525.95h0.9M116.5 521.95h0.9M104 521.95h0.9M125 518.95h0.9M133 524.45h0.9M70 524.95h0.9M124.5 521.95h0.9M56.5 524.95h0.9M143 520.45h0.9M108.5 525.45h0.9M135 520.95h0.9M124.5 524.95h0.9M118 525.95h0.9M116.5 524.45h0.9M83.5 524.95h0.9M93 521.95h0.9M61 526.45h0.9M130 520.95h0.9M139 521.95h0.9M116 524.95h0.9M57.5 524.95h0.9M92.5 523.95h0.9M110.5 518.45h0.9M94.5 518.45h0.9M110.5 520.95h0.9M138.5 526.45h0.9M107.5 520.95h0.9M108.5 523.95h0.9M126.5 520.45h0.9M107.5 526.45h0.9M109.5 523.95h0.9M80.5 520.45h0.9M73.5 519.95h0.9M148.5 517.45h0.9M91 520.95h0.9M100 526.45h0.9M134 518.45h0.9M61.5 525.95h0.9M137 521.95h0.9M136.5 525.95h0.9M123 520.95h0.9M134.5 525.95h0.9M132.5 525.95h0.9M134 524.45h0.9M110.5 524.95h0.9M120.5 526.45h0.9M67.5 525.45h0.9M137 520.95h0.9M74.5 523.95h0.9M111 519.95h0.9M106 520.45h0.9M120 518.95h0.9M115 523.95h0.9M114 524.45h0.9M141 519.45h0.9M111 517.95h0.9M127 524.45h0.9M111.5 523.45h0.9M92 519.45h0.9M63 520.45h0.9M102.5 526.95h0.9M118 520.45h0.9M118.5 521.45h0.9M86.5 520.95h0.9M142.5 525.95h0.9M82 524.95h0.9M147.5 523.95h0.9M132 521.95h0.9M112.5 523.95h0.9M87 525.45h0.9M92 520.95h0.9M95 516.95h0.9M106 519.45h0.9M75.5 521.95h0.9M121.5 524.45h0.9M119 523.45h0.9M110 524.95h0.9M98 522.95h0.9M124 518.95h0.9M78.5 524.95h0.9M110 524.45h0.9M124 524.95h0.9M89.5 520.45h0.9M136 526.45h0.9M120 524.45h0.9M138 520.45h0.9M146.5 520.45h0.9M120.5 523.45h0.9M113 524.95h0.9M130.5 520.45h0.9M113.5 518.45h0.9M117.5 523.95h0.9M66 523.45h0.9M146 522.95h0.9M108.5 524.45h0.9M60.5 523.45h0.9M145.5 520.95h0.9M92.5 525.45h0.9M94.5 523.45h0.9M136 520.45h0.9M62.5 524.45h0.9M116.5 525.95h0.9M108.5 523.45h0.9M108.5 525.95h0.9M111.5 524.45h0.9M138.5 521.45h0.9M135.5 522.95h0.9M118.5 522.95h0.9M54 525.95h0.9M104 519.45h0.9M121 525.45h0.9M114 525.95h0.9M128.5 521.95h0.9M116 525.45h0.9M67 526.45h0.9M128 522.45h0.9M84.5 523.95h0.9M129.5 518.95h0.9M143.5 522.45h0.9M100.5 520.95h0.9M107.5 522.95h0.9M102.5 517.95h0.9M113 521.95h0.9M138 524.95h0.9M109 522.95h0.9M74.5 518.45h0.9M119 526.95h0.9M104 524.45h0.9M117 524.45h0.9M56 524.45h0.9M77 521.45h0.9M120.5 524.95h0.9M119.5 525.45h0.9M124.5 522.95h0.9M102 519.95h0.9M119.5 521.45h0.9M132 524.45h0.9M125.5 522.45h0.9M121 524.45h0.9M99 523.95h0.9M125 519.45h0.9M115 524.45h0.9M108 522.45h0.9M96.5 524.95h0.9M75.5 523.45h0.9M136 518.95h0.9M105.5 525.45h0.9M106 518.45h0.9M94.5 518.95h0.9M142.5 518.95h0.9M63 524.95h0.9M115.5 521.95h0.9M87.5 524.45h0.9M119.5 524.45h0.9M96.5 521.45h0.9M64 522.45h0.9M129.5 524.95h0.9M102.5 524.95h0.9M123 522.45h0.9M113.5 525.45h0.9M89.5 517.45h0.9M60.5 526.45h0.9M101.5 520.45h0.9M101.5 526.45h0.9M100 522.45h0.9M120 523.95h0.9M80.5 524.45h0.9M101 521.45h0.9M111.5 525.95h0.9M100.5 524.45h0.9M88 520.95h0.9M124.5 518.95h0.9M109 526.95h0.9M55.5 524.45h0.9M67 521.45h0.9M98.5 520.45h0.9M112 519.45h0.9M79 523.95h0.9M85.5 521.95h0.9M105.5 524.95h0.9M112.5 520.95h0.9M79.5 520.45h0.9M113.5 522.45h0.9M99.5 519.45h0.9M143 522.95h0.9M136.5 518.95h0.9M105.5 526.45h0.9M122 519.95h0.9M126 519.95h0.9M65 524.95h0.9M119.5 518.95h0.9M101.5 524.45h0.9M112 519.95h0.9M66.5 518.45h0.9M119 518.45h0.9M102 524.45h0.9M58 522.95h0.9M123 520.45h0.9M87 524.95h0.9M130 525.95h0.9M63 517.95h0.9M99.5 522.95h0.9M121.5 519.95h0.9M111 522.95h0.9M56 522.95h0.9M134 523.95h0.9M60 524.95h0.9M109.5 521.95h0.9M88.5 526.45h0.9M122.5 519.95h0.9M113.5 521.95h0.9M70 524.45h0.9M112 522.45h0.9M126.5 524.95h0.9M131 523.95h0.9M130.5 519.95h0.9M149 519.95h0.9M113.5 524.45h0.9M125.5 525.95h0.9M114.5 520.45h0.9M124.5 523.45h0.9M88.5 525.45h0.9M83 518.45h0.9M139.5 520.45h0.9M119.5 520.95h0.9M72 519.45h0.9M90.5 519.45h0.9M70 523.45h0.9M115 523.45h0.9M75 522.45h0.9M116.5 519.45h0.9M99 521.45h0.9M74 517.95h0.9M115.5 524.45h0.9M158.5 520.45h0.9M120 522.95h0.9M78 525.45h0.9M79.5 525.95h0.9M99.5 524.95h0.9M146.5 519.95h0.9M111.5 526.45h0.9M126 526.45h0.9M139.5 525.45h0.9M114 518.95h0.9M135.5 524.95h0.9M142 520.95h0.9M57 519.95h0.9M128.5 521.45h0.9M133.5 520.45h0.9M117.5 522.45h0.9M91.5 525.45h0.9M69.5 524.95h0.9M118 519.45h0.9M136 525.45h0.9M72.5 521.45h0.9M148 524.45h0.9M79.5 519.45h0.9M71.5 521.95h0.9M97 519.45h0.9M124 525.45h0.9M56.5 523.95h0.9M134.5 524.45h0.9M55 521.95h0.9M117.5 526.45h0.9M73 521.45h0.9M130 519.45h0.9M106 525.95h0.9M138 518.95h0.9M120 526.45h0.9M72 521.45h0.9M92 525.45h0.9M89.5 522.95h0.9M129 524.45h0.9M108 517.95h0.9M107.5 525.45h0.9M58.5 524.45h0.9M148 520.45h0.9M88 524.95h0.9M122 525.45h0.9M80 524.95h0.9M83 525.45h0.9M118.5 525.45h0.9M125.5 518.45h0.9M122 521.45h0.9M98 524.45h0.9M120 520.45h0.9M91.5 521.45h0.9M78 520.45h0.9M103 525.45h0.9M91.5 516.95h0.9M69.5 521.45h0.9M58 526.45h0.9M118.5 524.45h0.9M87 523.95h0.9M139.5 518.95h0.9M101.5 518.95h0.9M137.5 524.45h0.9M125 524.45h0.9M109.5 524.95h0.9M148 524.95h0.9M150 524.95h0.9M139.5 526.45h0.9M86 523.95h0.9M59.5 518.45h0.9M95.5 525.95h0.9M118 522.95h0.9M56.5 524.45h0.9M87 520.95h0.9M117 525.95h0.9M116.5 518.45h0.9M143.5 521.45h0.9M61.5 519.95h0.9M115.5 518.95h0.9M128 525.45h0.9M140 524.45h0.9M156.5 525.45h0.9M97 520.45h0.9M57 517.95h0.9M69 520.95h0.9M119 524.45h0.9M72.5 525.45h0.9M105 523.45h0.9M116 524.45h0.9M108.5 518.45h0.9M148.5 519.45h0.9M55 523.95h0.9M126.5 523.45h0.9M131 523.45h0.9M120.5 519.45h0.9M77 525.95h0.9M57 521.95h0.9M126.5 519.95h0.9M149.5 521.95h0.9M87 520.45h0.9M112.5 524.95h0.9M122.5 525.45h0.9M112 520.95h0.9M142 525.45h0.9M135 523.95h0.9M104.5 520.45h0.9M116 523.45h0.9M135 519.45h0.9M122 524.95h0.9M105 525.45h0.9M127 523.45h0.9M115.5 524.95h0.9M117.5 523.45h0.9M110 523.95h0.9M120.5 519.95h0.9M97 522.95h0.9M127 521.45h0.9M96 525.95h0.9M117 524.95h0.9M111 524.95h0.9M111 516.95h0.9M120 522.45h0.9M130 519.95h0.9M96 517.95h0.9M128.5 519.95h0.9M149 523.45h0.9M84 525.95h0.9M104 520.95h0.9M133 525.95h0.9M116 526.45h0.9M121.5 526.45h0.9M130.5 526.95h0.9M62.5 525.95h0.9M82 523.95h0.9M81 520.95h0.9M105 524.95h0.9M130.5 522.95h0.9M90.5 524.45h0.9M69 520.45h0.9M86.5 518.45h0.9M128.5 524.95h0.9M102 522.95h0.9M125.5 516.95h0.9M96 524.45h0.9M71.5 524.95h0.9M126.5 519.45h0.9M142 523.95h0.9M120.5 525.95h0.9M94.5 527.95h0.9M117 519.45h0.9M142 524.95h0.9M100.5 525.45h0.9M123 524.95h0.9M113.5 527.45h0.9M125 522.95h0.9M146 524.45h0.9M128.5 527.45h0.9M128.5 524.45h0.9M131.5 520.45h0.9M147 520.45h0.9M116 518.95h0.9M117.5 524.45h0.9M83 526.45h0.9M116 526.95h0.9M102.5 524.45h0.9M127.5 523.45h0.9M107 522.95h0.9M87.5 521.95h0.9M129 518.45h0.9M153 520.95h0.9M84 521.45h0.9M112 525.45h0.9M130 522.45h0.9M128 518.95h0.9M100.5 521.45h0.9M67 525.45h0.9M111 523.95h0.9M122 521.95h0.9M126.5 523.95h0.9M142.5 519.95h0.9M142 524.45h0.9M141 524.95h0.9M68.5 525.45h0.9M117.5 519.45h0.9M119 520.95h0.9M105 518.95h0.9M114 523.95h0.9M127 522.45h0.9M124 519.45h0.9M94 522.95h0.9M129.5 520.45h0.9M116 522.45h0.9M115.5 526.95h0.9M92.5 517.95h0.9M56 520.45h0.9M121.5 517.95h0.9M109 520.95h0.9M123 524.45h0.9M131.5 526.45h0.9M107.5 517.45h0.9M101 523.45h0.9M150.5 525.45h0.9M105 525.95h0.9M60.5 522.45h0.9M129 520.95h0.9M135.5 525.45h0.9M133 521.45h0.9M126 519.45h0.9M125 521.95h0.9M146 525.95h0.9M134 520.45h0.9M74 524.45h0.9M100 521.95h0.9M144.5 520.95h0.9M103.5 524.95h0.9M128 525.95h0.9M112 523.45h0.9M86.5 522.95h0.9M129.5 520.95h0.9M121.5 563.45h0.9M134.5 564.45h0.9M132 576.95h0.9M133 573.95h0.9M129 560.95h0.9M119 569.45h0.9M124.5 580.95h0.9M126 575.45h0.9M110.5 561.45h0.9M117 571.95h0.9M123 567.45h0.9M137 577.95h0.9M125 567.45h0.9M140.5 570.95h0.9M131.5 582.45h0.9M114.5 553.45h0.9M118 571.95h0.9M136 581.95h0.9M128 559.95h0.9M127 573.95h0.9M118 569.45h0.9M121.5 575.45h0.9M126 575.95h0.9M118 573.95h0.9M119.5 578.95h0.9M138.5 565.95h0.9M123 573.95h0.9M129 565.45h0.9M129 566.95h0.9M122 573.45h0.9M131 564.95h0.9M123.5 575.95h0.9M143 560.95h0.9M119.5 579.45h0.9M120.5 571.45h0.9M134 568.45h0.9M130.5 571.45h0.9M122 575.95h0.9M125 563.95h0.9M147.5 572.45h0.9M117 572.95h0.9M136.5 564.45h0.9M136 560.45h0.9M132.5 574.45h0.9M120 568.95h0.9M129.5 577.45h0.9M121 581.45h0.9M129.5 561.95h0.9M131.5 561.95h0.9M133 566.95h0.9M131.5 564.95h0.9M121.5 584.45h0.9M144.5 563.45h0.9M139.5 570.45h0.9M121.5 587.45h0.9M120.5 568.45h0.9M122 568.45h0.9M126 573.95h0.9M112.5 576.95h0.9M113.5 564.95h0.9M129.5 572.95h0.9M124.5 572.45h0.9M122.5 574.45h0.9M124 582.95h0.9M130.5 570.45h0.9M139 572.45h0.9M121.5 561.45h0.9M112 572.45h0.9M120 563.95h0.9M131.5 587.95h0.9M109.5 577.95h0.9M121 537.95h0.9M127 576.95h0.9M127 545.45h0.9M129.5 557.95h0.9M138 558.45h0.9M120.5 583.95h0.9M122 552.95h0.9M116 564.45h0.9M134.5 587.45h0.9M133 562.95h0.9M123 568.95h0.9M128 556.95h0.9M127.5 580.45h0.9M126.5 578.95h0.9M123 554.95h0.9M139 569.95h0.9M141 577.45h0.9M126.5 567.95h0.9M148 574.95h0.9M124 558.45h0.9M144.5 587.45h0.9M126 569.95h0.9M125 555.95h0.9M121 554.45h0.9M118 576.95h0.9M125 568.45h0.9M115.5 582.95h0.9M125.5 580.45h0.9M140.5 566.95h0.9M123.5 572.45h0.9M134.5 584.45h0.9M134.5 560.95h0.9M134 570.45h0.9M135.5 545.95h0.9M122.5 565.95h0.9M129.5 567.45h0.9M127.5 575.45h0.9M127.5 566.45h0.9M127 583.45h0.9M138 570.45h0.9M126.5 566.95h0.9M132.5 556.45h0.9M126 577.95h0.9M126.5 564.95h0.9M127 561.45h0.9M121 568.95h0.9M129.5 563.95h0.9M120 564.95h0.9M114 558.45h0.9M133 576.95h0.9M104.5 556.45h0.9M145.5 567.95h0.9M133 581.45h0.9M113 577.95h0.9M127 568.95h0.9M132 564.95h0.9M125.5 585.95h0.9M129 565.95h0.9M120.5 567.45h0.9M146 564.95h0.9M150 570.45h0.9M143 578.45h0.9M136.5 575.95h0.9M146.5 568.95h0.9M135.5 565.95h0.9M137.5 556.95h0.9M135 557.45h0.9M142 559.95h0.9M121.5 577.95h0.9M116 569.95h0.9M118 556.45h0.9M114 574.95h0.9M123.5 571.95h0.9M124 580.95h0.9M122 575.45h0.9M135.5 559.45h0.9M130 567.95h0.9M126.5 566.45h0.9M143.5 561.95h0.9M143 554.45h0.9M127.5 563.45h0.9M136 577.95h0.9M121 564.45h0.9M129 559.95h0.9M135.5 571.45h0.9M130.5 564.45h0.9M125.5 582.45h0.9M135 567.95h0.9M137.5 566.45h0.9M99.5 573.45h0.9M125.5 572.45h0.9M126 572.95h0.9M127.5 561.45h0.9M139.5 564.45h0.9M124 567.45h0.9M126.5 584.95h0.9M113.5 572.45h0.9M132.5 571.95h0.9M119.5 563.45h0.9M143.5 576.95h0.9M121.5 565.45h0.9M141 561.95h0.9M125 579.45h0.9M126.5 554.45h0.9M128 568.95h0.9M126 571.45h0.9M104.5 564.95h0.9M111.5 572.45h0.9M119 568.45h0.9M135.5 558.45h0.9M134.5 581.45h0.9M125.5 559.95h0.9M126 565.45h0.9M127 569.45h0.9M125.5 562.95h0.9M132 571.95h0.9M138.5 572.45h0.9M122.5 576.95h0.9M132.5 551.45h0.9M120 554.45h0.9M131 566.45h0.9M119 562.45h0.9M130 567.45h0.9M118.5 571.45h0.9M122.5 570.95h0.9M122 585.95h0.9M128.5 574.95h0.9M137 554.95h0.9M141 580.45h0.9M123 569.95h0.9M135.5 592.45h0.9M123.5 569.45h0.9M114.5 560.95h0.9M132.5 568.95h0.9M129 563.45h0.9M127.5 561.95h0.9M125.5 563.45h0.9M110 574.45h0.9M116 567.45h0.9M127 567.45h0.9M115.5 568.45h0.9M135.5 575.95h0.9M127.5 581.45h0.9M128.5 557.45h0.9M133.5 549.95h0.9M135.5 574.45h0.9M135.5 573.95h0.9M123 564.95h0.9M129 568.45h0.9M127.5 562.95h0.9M129 576.45h0.9M131 572.95h0.9M118.5 555.95h0.9M124.5 579.95h0.9M124 572.45h0.9M125 563.45h0.9M129 578.45h0.9M137.5 571.45h0.9M115.5 559.45h0.9M116 584.45h0.9M115 570.45h0.9M135.5 564.95h0.9M110.5 576.95h0.9M111 570.45h0.9M123 570.95h0.9M117 569.45h0.9M152.5 581.45h0.9M137 569.95h0.9M145.5 573.95h0.9M134 572.45h0.9M137.5 569.95h0.9M128.5 566.45h0.9M139 571.45h0.9M150.5 558.45h0.9M124 561.45h0.9M114 575.95h0.9M124 565.45h0.9M108 565.95h0.9M116 577.45h0.9M115 569.95h0.9M135 574.45h0.9M126 560.95h0.9M146 564.45h0.9M132 563.45h0.9M124.5 570.45h0.9M129 581.95h0.9M131 568.45h0.9M117 567.95h0.9M121.5 569.45h0.9M123.5 576.45h0.9M132.5 558.95h0.9M124 564.95h0.9M122.5 568.95h0.9M132.5 567.45h0.9M130 571.45h0.9M146 557.45h0.9M119 562.95h0.9M119.5 584.95h0.9M134.5 565.45h0.9M118 559.45h0.9M127.5 572.95h0.9M138.5 581.95h0.9M126 562.95h0.9M115.5 560.95h0.9M127.5 562.45h0.9M125.5 566.95h0.9M129 574.45h0.9M138.5 570.95h0.9M125.5 547.95h0.9M116.5 554.45h0.9M110 575.45h0.9M120.5 570.95h0.9M143.5 570.95h0.9M133.5 570.45h0.9M133.5 569.95h0.9M130 568.95h0.9M130 580.95h0.9M126 569.45h0.9M134.5 571.95h0.9M130 570.95h0.9M131.5 570.95h0.9M123.5 570.95h0.9M130 574.95h0.9M109.5 568.45h0.9M130.5 559.45h0.9M130.5 585.95h0.9M135 570.45h0.9M126 573.45h0.9M116.5 574.45h0.9M126.5 576.95h0.9M113 570.45h0.9M127.5 587.95h0.9M129 571.45h0.9M137.5 583.45h0.9M126.5 570.95h0.9M136.5 560.45h0.9M128.5 567.45h0.9M125.5 570.95h0.9M135 586.45h0.9M124 574.45h0.9M125 577.45h0.9M129 551.45h0.9M132.5 558.45h0.9M116.5 572.95h0.9M123 561.45h0.9M115 567.95h0.9M122 590.45h0.9M119.5 562.45h0.9M128.5 570.45h0.9M134.5 569.95h0.9M135 568.95h0.9M114.5 570.45h0.9M125.5 566.45h0.9M130.5 567.45h0.9M142 560.95h0.9M122.5 580.95h0.9M133 559.45h0.9M122.5 562.45h0.9M123.5 571.45h0.9M116 580.45h0.9M129.5 556.95h0.9M118 568.95h0.9M123 577.95h0.9M139 579.45h0.9M121 557.95h0.9M136.5 561.95h0.9M132 572.95h0.9M133.5 573.45h0.9M124.5 563.95h0.9M125 578.45h0.9M154 585.95h0.9M139.5 569.45h0.9M121.5 574.95h0.9M128.5 561.45h0.9M121.5 552.45h0.9M121 578.95h0.9M139 575.45h0.9M122.5 567.95h0.9M117.5 586.45h0.9M135 576.45h0.9M120 585.95h0.9M115.5 563.95h0.9M112.5 573.95h0.9M143 568.95h0.9M137 571.45h0.9M116 572.45h0.9M129 552.45h0.9M135.5 568.45h0.9M122.5 573.45h0.9M149.5 563.95h0.9M137.5 567.95h0.9M126 555.45h0.9M128.5 562.45h0.9M112.5 569.45h0.9M131 566.95h0.9M123 572.95h0.9M122 567.95h0.9M117.5 574.95h0.9M122.5 569.45h0.9M137.5 583.95h0.9M136 573.45h0.9M127.5 567.45h0.9M125.5 572.95h0.9M143 557.45h0.9M140 570.45h0.9M120.5 566.95h0.9M114 565.95h0.9M144 570.45h0.9M126 577.45h0.9M119 586.45h0.9M104.5 575.45h0.9M135 577.45h0.9M125.5 588.95h0.9M136 584.95h0.9M129.5 573.45h0.9M132.5 564.45h0.9M124 565.95h0.9M125.5 574.45h0.9M145 573.45h0.9M105 555.45h0.9M136 568.95h0.9M108.5 560.95h0.9M120.5 577.95h0.9M122 565.95h0.9M132 580.45h0.9M138.5 580.95h0.9M133.5 568.95h0.9M121.5 578.45h0.9M117 578.45h0.9M117 568.95h0.9M132 579.95h0.9M112.5 583.45h0.9M120.5 580.45h0.9M129.5 565.95h0.9M129 573.45h0.9M129 553.45h0.9M125.5 563.95h0.9M131.5 573.95h0.9M125 559.95h0.9M133.5 575.95h0.9M130 575.45h0.9M119 567.45h0.9M120 581.45h0.9M114.5 558.95h0.9M143.5 578.45h0.9M140.5 575.95h0.9M132 561.95h0.9M117.5 576.45h0.9M128 580.95h0.9M119.5 577.45h0.9M131.5 578.95h0.9M136 567.95h0.9M125 573.45h0.9M128.5 564.95h0.9M115 569.45h0.9M127 563.45h0.9M115 565.95h0.9M128 574.95h0.9M105 579.95h0.9M151.5 563.45h0.9M128 566.95h0.9M130 564.95h0.9M131 577.95h0.9M128 567.45h0.9M129 573.95h0.9M153 554.95h0.9M66.5 531.95h0.9M98.5 544.45h0.9M102.5 529.95h0.9M72 531.95h0.9M102 559.45h0.9M51.5 540.45h0.9M102 548.95h0.9M68 549.45h0.9M72.5 557.45h0.9M50 547.95h0.9M98.5 529.45h0.9M63 542.95h0.9M80 556.95h0.9M76.5 531.45h0.9M101 534.95h0.9M92 532.45h0.9M51 551.45h0.9M68 557.45h0.9M48 531.95h0.9M49.5 543.95h0.9M54.5 533.95h0.9M71.5 554.95h0.9M91 541.95h0.9M65 537.45h0.9M85.5 541.45h0.9M86 532.45h0.9M57.5 547.45h0.9M45 559.45h0.9M94 543.45h0.9M50.5 541.45h0.9M65 540.45h0.9M70.5 533.45h0.9M48 530.95h0.9M53 534.95h0.9M69 533.45h0.9M53 548.45h0.9M78 537.95h0.9M86 546.95h0.9M57 557.95h0.9M78 533.45h0.9M74 529.95h0.9M62.5 558.95h0.9M67.5 545.45h0.9M46.5 543.45h0.9M96 559.45h0.9M102 532.45h0.9M93 536.95h0.9M80 544.95h0.9M57.5 534.95h0.9M102.5 558.45h0.9M69 556.45h0.9M92.5 557.45h0.9M64.5 559.95h0.9M65.5 535.95h0.9M97 555.95h0.9M57.5 546.45h0.9M54 554.95h0.9M51 562.45h0.9M98 540.95h0.9M98.5 543.95h0.9M80.5 559.45h0.9M46 528.45h0.9M63 546.95h0.9M88 535.45h0.9M48.5 528.45h0.9M100 542.95h0.9M60 534.95h0.9M70.5 536.95h0.9M57 543.95h0.9M69.5 561.95h0.9M69.5 529.95h0.9M48 552.95h0.9M75.5 548.95h0.9M101 538.45h0.9M55 542.45h0.9M101 558.95h0.9M78 553.95h0.9M117.5 541.95h0.9M113.5 545.95h0.9M140 544.95h0.9M143.5 535.45h0.9M140 548.95h0.9M143.5 544.45h0.9M117.5 539.95h0.9M137 536.95h0.9M149 548.95h0.9M150 540.95h0.9M127.5 550.95h0.9M148.5 531.45h0.9M144.5 555.95h0.9M120.5 538.95h0.9M108.5 547.95h0.9M123.5 539.45h0.9M113 552.95h0.9M105.5 555.45h0.9M110 541.45h0.9M116 530.45h0.9M106.5 531.95h0.9M104.5 535.45h0.9M118 544.95h0.9M145.5 543.45h0.9M143.5 540.45h0.9M142.5 535.45h0.9M121.5 534.95h0.9M121 542.95h0.9M149 550.45h0.9M122.5 536.95h0.9M137.5 546.95h0.9M148.5 555.45h0.9M107 554.45h0.9M107.5 537.95h0.9M117.5 535.45h0.9M121.5 534.45h0.9M125.5 536.45h0.9M106 531.45h0.9M111 534.45h0.9M148 552.45h0.9M125.5 557.45h0.9M105.5 529.45h0.9M112 551.95h0.9M141.5 538.45h0.9M145 539.95h0.9M131 551.45h0.9M139 544.95h0.9M119 533.45h0.9M123 556.45h0.9M149.5 553.95h0.9M137 528.95h0.9M126 557.45h0.9M127 547.45h0.9M132 544.95h0.9M134 542.95h0.9M121 546.45h0.9M148 536.95h0.9M109.5 528.95h0.9M60.5 521.95h0.9M116.5 502.45h0.9M178 553.95h0.9M139.5 590.95h0.9M88.5 539.95h0.9M186.5 585.95h0.9M161.5 526.95h0.9M177.5 501.95h0.9M61.5 551.45h0.9M51 510.95h0.9M189 532.95h0.9M64.5 581.95h0.9M70.5 579.95h0.9M100.5 524.95h0.9M166 521.95h0.9M187 506.95h0.9M53.5 513.45h0.9M185 525.45h0.9M80 534.45h0.9M48.5 556.45h0.9M106.5 579.95h0.9M169.5 548.45h0.9M134 589.45h0.9M98 588.95h0.9M124 506.95h0.9M191 501.95h0.9M169 513.95h0.9M101 556.45h0.9M128.5 593.45h0.9M128.5 592.95h0.9M141.5 593.95h0.9M145 593.95h0.9M117.5 593.45h0.9M139.5 593.95h0.9M142.5 593.45h0.9M124.5 593.45h0.9M135.5 593.45h0.9M129.5 593.95h0.9M123 593.95h0.9M123.5 593.45h0.9M111.5 592.95h0.9M120.5 593.45h0.9M132.5 593.45h0.9M135.5 593.95h0.9M131.5 593.45h0.9M144.5 593.95h0.9M107.5 593.95h0.9M105.5 593.95h0.9M121.5 593.45h0.9M109.5 593.95h0.9M127 593.45h0.9M140.5 593.45h0.9M113.5 593.45h0.9M142.5 593.95h0.9M118.5 593.45h0.9M116.5 593.95h0.9M119 593.45h0.9M145 593.45h0.9M140.5 593.95h0.9M106.5 593.45h0.9M123 593.45h0.9M137 593.45h0.9M136 593.45h0.9M104.5 593.45h0.9M140 593.45h0.9M105.5 593.45h0.9M127.5 593.95h0.9M134 593.45h0.9M112.5 593.45h0.9M110.5 593.95h0.9M133 593.45h0.9M141.5 593.45h0.9M138.5 593.45h0.9M109.5 593.45h0.9M137.5 593.95h0.9M144 593.95h0.9M115 593.45h0.9M124 593.45h0.9M143 592.95h0.9M105 593.45h0.9M108 593.45h0.9M121 593.45h0.9M139 593.45h0.9M117 593.95h0.9M145.5 593.45h0.9M144.5 593.45h0.9M112.5 593.95h0.9M138 593.45h0.9M116 593.45h0.9M133.5 593.45h0.9M143 593.45h0.9M128 592.95h0.9M129 593.45h0.9M106 593.95h0.9M120 593.95h0.9M111 593.45h0.9M110 593.95h0.9M142 593.45h0.9M111.5 593.95h0.9M126.5 593.45h0.9M125 593.95h0.9M142 593.95h0.9M132 593.45h0.9M104 593.95h0.9M109 593.45h0.9M124 593.95h0.9M114 593.45h0.9M119.5 593.45h0.9M120.5 593.95h0.9M136.5 593.95h0.9M119.5 593.95h0.9M121.5 593.95h0.9M127 593.95h0.9M111.5 593.45h0.9M115 593.95h0.9M106.5 593.95h0.9M118 593.45h0.9" stroke="#f01818" stroke-width="0.9" opacity="1.0"/>
<path d="M98 525.45h0.9M133 523.45h0.9M64 525.95h0.9M130 522.95h0.9M132.5 520.45h0.9M123 521.95h0.9M129.5 525.45h0.9M86 522.45h0.9M117.5 520.45h0.9M125.5 520.45h0.9M119.5 517.95h0.9M101.5 519.95h0.9M116.5 524.95h0.9M70 520.95h0.9M101 519.45h0.9M111 523.95h0.9M109.5 518.95h0.9M113 517.45h0.9M91 524.45h0.9M126 522.45h0.9M113 520.95h0.9M149 523.95h0.9M115.5 519.45h0.9M62.5 517.95h0.9M113 520.45h0.9M110.5 524.95h0.9M109.5 523.45h0.9M138.5 525.45h0.9M99.5 524.45h0.9M113.5 525.45h0.9M124.5 524.45h0.9M110 519.95h0.9M119 519.45h0.9M112 525.95h0.9M138 524.95h0.9M101.5 519.45h0.9M125.5 524.95h0.9M80.5 524.95h0.9M117.5 524.95h0.9M108.5 519.95h0.9M131.5 524.95h0.9M112 524.45h0.9M126.5 518.95h0.9M107.5 521.95h0.9M111 524.45h0.9M146 523.45h0.9M112 524.95h0.9M133 520.95h0.9M109 524.45h0.9M110 524.45h0.9M119 526.45h0.9M113 525.45h0.9M92.5 524.45h0.9M103 518.95h0.9M96.5 519.45h0.9M104 524.95h0.9M124.5 517.95h0.9M115 525.45h0.9M114.5 523.45h0.9M111 525.45h0.9M127 519.45h0.9M120.5 522.95h0.9M63 520.95h0.9M76.5 523.95h0.9M114 525.45h0.9M81 523.95h0.9M105 524.45h0.9M133.5 521.45h0.9M122 522.45h0.9M110.5 525.95h0.9M142 521.45h0.9M115 523.95h0.9M139 525.45h0.9M128.5 524.95h0.9M141.5 524.45h0.9M78.5 519.45h0.9M106.5 525.95h0.9M98.5 517.95h0.9M109 520.45h0.9M114.5 526.95h0.9M128 518.45h0.9M136 517.45h0.9M70 523.95h0.9M136.5 525.45h0.9M101 524.45h0.9M127.5 518.95h0.9M122 517.95h0.9M106.5 522.45h0.9M123.5 519.45h0.9M96 521.45h0.9M143 521.45h0.9M127 522.95h0.9M114 520.95h0.9M147.5 520.45h0.9M121.5 522.95h0.9M126.5 526.95h0.9M82 526.45h0.9M131 520.45h0.9M100.5 523.45h0.9M118.5 518.95h0.9M141.5 524.95h0.9M136 523.45h0.9M54.5 525.45h0.9M111.5 523.95h0.9M95 524.95h0.9M122 519.95h0.9M116 525.45h0.9M110 520.95h0.9M131 524.95h0.9M131.5 525.95h0.9M98.5 524.45h0.9M81 520.95h0.9M114 521.45h0.9M64.5 519.45h0.9M118.5 525.45h0.9M141 518.95h0.9M115 522.45h0.9M115 519.95h0.9M99.5 525.45h0.9M147 518.95h0.9M122 525.45h0.9M128.5 522.45h0.9M127.5 524.95h0.9M127 516.45h0.9M108 524.95h0.9M105.5 524.95h0.9M128.5 524.45h0.9M119 517.95h0.9M106.5 523.95h0.9M119.5 524.45h0.9M104 522.95h0.9M147 520.95h0.9M121 522.95h0.9M94 519.45h0.9M120.5 522.45h0.9M77.5 522.95h0.9M108 527.95h0.9M114 521.95h0.9M75 520.95h0.9M127 523.95h0.9M99 524.95h0.9M142 519.45h0.9M149 524.45h0.9M63 524.95h0.9M107.5 522.95h0.9M123.5 522.95h0.9M96 526.95h0.9M128.5 518.95h0.9M72 517.95h0.9M106.5 524.95h0.9M95.5 524.95h0.9M123 519.95h0.9M106.5 519.45h0.9M110 526.45h0.9M91 526.45h0.9M77 525.95h0.9M117.5 515.95h0.9M100.5 519.95h0.9M101 525.45h0.9M96.5 526.45h0.9M93.5 524.95h0.9M77.5 525.95h0.9M109 523.95h0.9M57.5 525.45h0.9M149 519.45h0.9M71.5 524.45h0.9M83 517.95h0.9M87.5 520.95h0.9M103.5 524.95h0.9M111.5 522.95h0.9M101.5 517.95h0.9M105.5 522.95h0.9M145 517.45h0.9M73 525.45h0.9M122 516.45h0.9M115.5 525.45h0.9M115 520.95h0.9M119 521.45h0.9M121 523.95h0.9M73.5 515.95h0.9M77 524.45h0.9M100.5 524.95h0.9M121 525.45h0.9M126 520.45h0.9M143 519.95h0.9M143 524.95h0.9M138.5 524.95h0.9M72.5 526.45h0.9M109 520.95h0.9M130 524.45h0.9M111.5 525.95h0.9M133 524.95h0.9M114 524.95h0.9M124 524.95h0.9M115.5 522.45h0.9M109 566.95h0.9M139.5 584.95h0.9M123.5 568.45h0.9M115.5 570.45h0.9M123.5 559.95h0.9M137 576.95h0.9M114 568.95h0.9M133.5 556.45h0.9M126 579.45h0.9M128.5 565.95h0.9M111 568.45h0.9M128.5 577.95h0.9M130.5 564.95h0.9M134 561.45h0.9M120 564.95h0.9M122.5 561.45h0.9M132.5 566.95h0.9M137 573.45h0.9M122 569.45h0.9M126 561.95h0.9M128.5 563.45h0.9M115.5 566.95h0.9M125.5 574.95h0.9M126 570.45h0.9M123 578.95h0.9M134.5 582.45h0.9M123 586.45h0.9M106.5 564.95h0.9M123.5 574.45h0.9M127.5 585.45h0.9M133 550.45h0.9M114 557.95h0.9M143.5 578.45h0.9M125 570.45h0.9M121 567.95h0.9M135 575.45h0.9M124 578.95h0.9M115 563.95h0.9M127.5 581.95h0.9M127.5 561.95h0.9M124 570.45h0.9M117.5 570.45h0.9M126.5 580.95h0.9M123 577.45h0.9M125 578.45h0.9M124 576.45h0.9M125 569.95h0.9M120 573.45h0.9M125 571.95h0.9M116.5 568.45h0.9M132.5 575.45h0.9M131.5 578.95h0.9M106 575.45h0.9M125.5 573.95h0.9M139 577.95h0.9M120 573.95h0.9M130 559.45h0.9M125.5 563.95h0.9M143 566.45h0.9M111 550.45h0.9M137 579.95h0.9M127 577.95h0.9M117.5 568.95h0.9M126.5 562.45h0.9M140 582.95h0.9M127.5 549.95h0.9M144.5 566.45h0.9M132 561.45h0.9M130 560.45h0.9M130 574.95h0.9M126 581.95h0.9M116.5 571.95h0.9M123 575.45h0.9M126 573.95h0.9M131 570.95h0.9M133.5 578.95h0.9M132 572.95h0.9M126 572.45h0.9M135 574.95h0.9M127 573.95h0.9M130 553.45h0.9M134 576.95h0.9M126.5 570.45h0.9M115 566.95h0.9M127 561.45h0.9M153.5 566.95h0.9M120 576.45h0.9M120.5 554.95h0.9M136.5 559.95h0.9M118.5 569.45h0.9M120.5 573.45h0.9M133 559.95h0.9M135 568.45h0.9M123 570.45h0.9M129.5 567.95h0.9M131.5 566.45h0.9M122 575.45h0.9M135 570.45h0.9" stroke="#b01818" stroke-width="0.9" opacity="1.0"/>
</g>
<line x1="103.5" y1="499.5" x2="103.5" y2="594.3" stroke="#888" stroke-width="0.8"/>
<line x1="44.6" y1="557.3" x2="192.3" y2="557.3" stroke="#888" stroke-width="0.8"/>
<rect x="44.6" y="499.5" width="147.70000000000002" height="94.79999999999995" fill="none" stroke="#555" stroke-width="1.2"/>
<path d="M47.5 594.3v3.2M44.6 592.8h-3.2M52.1 594.3v3.2M44.6 589.9h-3.2M55.6 594.3v3.2M44.6 587.6h-3.2M58.5 594.3v3.2M44.6 585.8h-3.2M61.0 594.3v3.2M44.6 584.2h-3.2M63.1 594.3v3.2M44.6 582.9h-3.2M65.0 594.3v3.2M44.6 581.7h-3.2M66.7 594.3v5M44.6 580.6h-5M77.8 594.3v3.2M44.6 573.6h-3.2M84.3 594.3v3.2M44.6 569.5h-3.2M88.9 594.3v3.2M44.6 566.6h-3.2M92.4 594.3v3.2M44.6 564.3h-3.2M95.3 594.3v3.2M44.6 562.5h-3.2M97.8 594.3v3.2M44.6 560.9h-3.2M99.9 594.3v3.2M44.6 559.6h-3.2M101.8 594.3v3.2M44.6 558.4h-3.2M103.5 594.3v5M44.6 557.3h-5M114.6 594.3v3.2M44.6 550.3h-3.2M121.1 594.3v3.2M44.6 546.2h-3.2M125.7 594.3v3.2M44.6 543.3h-3.2M129.2 594.3v3.2M44.6 541.0h-3.2M132.1 594.3v3.2M44.6 539.2h-3.2M134.6 594.3v3.2M44.6 537.6h-3.2M136.7 594.3v3.2M44.6 536.3h-3.2M138.6 594.3v3.2M44.6 535.1h-3.2M140.3 594.3v5M44.6 534.0h-5M151.4 594.3v3.2M44.6 527.0h-3.2M157.9 594.3v3.2M44.6 522.9h-3.2M162.5 594.3v3.2M44.6 520.0h-3.2M166.0 594.3v3.2M44.6 517.7h-3.2M168.9 594.3v3.2M44.6 515.9h-3.2M171.4 594.3v3.2M44.6 514.3h-3.2M173.5 594.3v3.2M44.6 513.0h-3.2M175.4 594.3v3.2M44.6 511.8h-3.2M177.1 594.3v5M44.6 510.7h-5M188.2 594.3v3.2M44.6 503.7h-3.2" stroke="#222" stroke-width="0.95" fill="none"/>
<text x="61.3" y="609.1" font-size="8" fill="#1a1a1a"><tspan textLength="5.8" lengthAdjust="spacingAndGlyphs">10</tspan><tspan dy="-4.4" font-size="6.2">2</tspan></text>
<text transform="translate(38.6,586.6) rotate(-90)" font-size="8" fill="#1a1a1a"><tspan textLength="5.8" lengthAdjust="spacingAndGlyphs">10</tspan><tspan dy="-4.8" font-size="6.2">2</tspan></text>
<text x="98.1" y="609.1" font-size="8" fill="#1a1a1a"><tspan textLength="5.8" lengthAdjust="spacingAndGlyphs">10</tspan><tspan dy="-4.4" font-size="6.2">3</tspan></text>
<text transform="translate(38.6,563.3) rotate(-90)" font-size="8" fill="#1a1a1a"><tspan textLength="5.8" lengthAdjust="spacingAndGlyphs">10</tspan><tspan dy="-4.8" font-size="6.2">3</tspan></text>
<text x="134.9" y="609.1" font-size="8" fill="#1a1a1a"><tspan textLength="5.8" lengthAdjust="spacingAndGlyphs">10</tspan><tspan dy="-4.4" font-size="6.2">4</tspan></text>
<text transform="translate(38.6,540.0) rotate(-90)" font-size="8" fill="#1a1a1a"><tspan textLength="5.8" lengthAdjust="spacingAndGlyphs">10</tspan><tspan dy="-4.8" font-size="6.2">4</tspan></text>
<text x="171.7" y="609.1" font-size="8" fill="#1a1a1a"><tspan textLength="5.8" lengthAdjust="spacingAndGlyphs">10</tspan><tspan dy="-4.4" font-size="6.2">5</tspan></text>
<text transform="translate(38.6,516.7) rotate(-90)" font-size="8" fill="#1a1a1a"><tspan textLength="5.8" lengthAdjust="spacingAndGlyphs">10</tspan><tspan dy="-4.8" font-size="6.2">5</tspan></text>
<text x="83.9" y="536.0" font-size="7.6" text-anchor="start" fill="#222" textLength="9.5" lengthAdjust="spacingAndGlyphs">Q1</text>
<text x="152.1" y="536.0" font-size="7.6" text-anchor="start" fill="#222" textLength="9.7" lengthAdjust="spacingAndGlyphs">Q2</text>
<text x="83.9" y="569.6" font-size="7.6" text-anchor="start" fill="#222" textLength="9.5" lengthAdjust="spacingAndGlyphs">Q3</text>
<text x="152.1" y="579.0" font-size="7.6" text-anchor="start" fill="#222" textLength="9.7" lengthAdjust="spacingAndGlyphs">Q4</text>
<text x="164.5" y="531.6" font-size="10" text-anchor="start" fill="#333" textLength="22.4" lengthAdjust="spacingAndGlyphs">6.6%</text>
<text x="164.5" y="577.4" font-size="10" text-anchor="start" fill="#333" textLength="22.4" lengthAdjust="spacingAndGlyphs">6.8%</text>
<text x="66.8" y="632.0" font-size="10.6" text-anchor="start" fill="#111" font-weight="bold" textLength="99" lengthAdjust="spacingAndGlyphs">HCC1806/WT-tRiMetF31</text>
<rect x="44.2" y="635.9" width="146.8" height="94.70000000000005" fill="#fff"/>
<g filter="url(#b4)">
<path d="M44.7,714.5 L52.0,713.5 L65.0,713.0 L76.0,712.5 L82.5,713.5 L83.0,720.0 L83.0,730.6 L44.7,730.6 z" fill="#f40000" filter="url(#b2)"/>
<rect x="46.800000000000004" y="714" width="1.2" height="16.600000000000023" fill="#f06060"/>
<path d="M48.5 713.45h0.9M62.5 710.95h0.9M77.5 712.45h0.9M62.5 718.95h0.9M60 707.95h0.9M49.5 710.45h0.9M74 715.45h0.9M79.5 718.95h0.9M86.5 714.95h0.9M82.5 714.95h0.9M59.5 715.45h0.9M67.5 711.95h0.9M90.5 715.45h0.9M61 712.45h0.9M95 711.95h0.9M75.5 714.95h0.9M73 714.95h0.9M61 710.95h0.9M64.5 711.45h0.9M76.5 717.95h0.9M56 714.45h0.9M55 709.95h0.9M64 712.95h0.9M61.5 703.45h0.9M83.5 711.45h0.9M59 714.95h0.9M59.5 707.45h0.9M72.5 713.95h0.9M56.5 715.45h0.9M71 708.45h0.9M88 713.45h0.9M53 714.45h0.9M68 715.95h0.9M50 716.45h0.9M78 714.95h0.9M74 717.45h0.9M75.5 712.95h0.9M56.5 716.45h0.9M78.5 713.45h0.9M68.5 715.45h0.9M79.5 719.45h0.9M61 713.95h0.9M66 704.95h0.9M75.5 712.45h0.9M67.5 709.45h0.9M66 712.95h0.9M82 713.45h0.9M109 710.95h0.9M63.5 712.45h0.9M56.5 717.95h0.9M74.5 707.95h0.9M68 716.45h0.9M49.5 712.95h0.9M63.5 720.95h0.9M71.5 710.95h0.9M59.5 719.45h0.9M61 720.95h0.9M47.5 711.95h0.9M63.5 709.95h0.9M64 714.95h0.9M58.5 707.45h0.9M83 717.95h0.9M58 713.45h0.9M50.5 710.45h0.9M93 707.95h0.9M67 708.95h0.9M70 707.95h0.9M59.5 714.95h0.9M64.5 707.95h0.9M85 712.95h0.9M83.5 708.95h0.9M87 707.95h0.9M45.5 710.95h0.9M62 713.45h0.9M83 710.45h0.9M50 710.95h0.9M76.5 715.45h0.9M62.5 708.95h0.9M66.5 715.95h0.9M58 717.45h0.9M69.5 713.45h0.9M59 717.45h0.9M67 707.45h0.9M76.5 710.95h0.9M79.5 713.45h0.9M59 713.45h0.9M60.5 709.45h0.9M67 715.45h0.9M67.5 712.45h0.9M60 714.45h0.9M70 715.95h0.9M71 719.95h0.9M47.5 712.45h0.9M73 715.95h0.9M48 708.45h0.9M66 716.45h0.9M80 707.45h0.9M68 716.95h0.9M58 707.95h0.9M81 711.45h0.9M61.5 709.45h0.9M65 709.45h0.9M54.5 712.45h0.9M63.5 714.45h0.9M68.5 716.95h0.9M66 713.45h0.9M69.5 709.95h0.9M81 710.45h0.9M47.5 716.95h0.9M74.5 710.45h0.9M78 715.95h0.9M75 708.45h0.9M68.5 708.95h0.9M59 710.45h0.9M57 714.95h0.9M68.5 710.45h0.9M68.5 714.95h0.9M80.5 711.45h0.9M87.5 714.45h0.9M81.5 707.95h0.9M53.5 716.95h0.9M64 714.45h0.9M81 707.45h0.9M72 719.45h0.9M76 712.95h0.9M73.5 712.45h0.9M76 716.95h0.9M70 715.45h0.9M76.5 708.95h0.9M80.5 715.45h0.9M53 711.45h0.9M49 711.45h0.9M70.5 708.45h0.9M57 709.45h0.9M58 709.95h0.9M53.5 714.45h0.9M64 709.45h0.9M78.5 710.45h0.9M77.5 708.45h0.9M83.5 710.95h0.9M55 713.95h0.9M50.5 708.95h0.9M69.5 710.95h0.9M71.5 712.95h0.9M69.5 712.95h0.9M75 712.45h0.9M80 715.95h0.9M85.5 710.95h0.9M68.5 711.95h0.9M70 720.45h0.9M58 712.95h0.9M66.5 708.95h0.9M56 711.45h0.9M66.5 713.95h0.9M86.5 711.95h0.9M58 719.95h0.9M51.5 709.45h0.9M74.5 712.45h0.9M46.5 712.95h0.9M75.5 707.45h0.9M89.5 704.45h0.9M58 712.45h0.9M55.5 709.45h0.9M60.5 714.45h0.9M53.5 715.45h0.9M85 710.95h0.9M66 715.95h0.9M81.5 715.95h0.9M50.5 710.95h0.9M55.5 710.95h0.9M62 715.45h0.9M76.5 712.45h0.9M52.5 712.45h0.9M71.5 715.45h0.9M69 715.45h0.9M58.5 714.95h0.9M75.5 711.45h0.9M57.5 716.95h0.9M54.5 714.95h0.9M63 711.45h0.9M63.5 710.95h0.9M66 718.95h0.9M84 711.95h0.9M72 715.95h0.9M61.5 718.95h0.9M67 714.95h0.9M55 708.45h0.9M54.5 710.45h0.9M79 711.45h0.9M77 710.95h0.9M55 712.95h0.9M61.5 706.95h0.9M67 716.95h0.9M64 708.45h0.9M57.5 708.45h0.9M63.5 709.45h0.9M65 712.95h0.9M82.5 708.45h0.9M71.5 711.45h0.9M72.5 709.45h0.9M62.5 714.95h0.9M62.5 712.95h0.9M82.5 716.95h0.9M56 715.45h0.9M71 714.45h0.9M83 706.45h0.9M79.5 710.45h0.9M83.5 709.45h0.9M46 710.45h0.9M65 716.95h0.9M71 711.45h0.9M60.5 710.95h0.9M78 706.95h0.9M58 709.45h0.9M80 712.95h0.9M90 715.95h0.9M50.5 711.95h0.9M80 706.45h0.9M51.5 710.95h0.9M68 711.95h0.9M70 708.45h0.9M68.5 715.95h0.9M72 706.95h0.9M45.5 711.45h0.9M55.5 705.95h0.9M59.5 709.95h0.9M65 713.95h0.9M68.5 712.95h0.9M72.5 711.95h0.9M61 711.45h0.9M76 718.45h0.9M87 704.95h0.9M61 709.95h0.9M49 709.95h0.9M66 705.95h0.9M66 709.45h0.9M67 712.95h0.9M77.5 714.95h0.9M57 713.95h0.9M52.5 710.45h0.9M74.5 710.95h0.9M73 710.45h0.9M70 711.95h0.9M54.5 719.95h0.9M56 707.95h0.9M67.5 713.95h0.9M70.5 711.95h0.9M73.5 707.45h0.9M87 712.45h0.9M64.5 713.45h0.9M90 710.45h0.9M58.5 708.95h0.9M71 712.95h0.9M79 710.95h0.9M60 708.95h0.9M69 706.95h0.9M89 711.95h0.9M59 708.45h0.9M72.5 715.95h0.9M59.5 712.95h0.9M69.5 715.95h0.9M73.5 716.95h0.9M49 721.45h0.9M60 708.45h0.9M75.5 720.95h0.9M81 709.95h0.9M62 710.95h0.9M59 711.95h0.9M59 716.45h0.9M70 714.45h0.9M64.5 708.45h0.9M90 716.95h0.9M51.5 708.95h0.9M59.5 711.95h0.9M80 711.95h0.9M63.5 716.95h0.9M66.5 719.45h0.9M65.5 713.95h0.9M71 714.95h0.9M89.5 709.95h0.9M60 709.45h0.9M88 713.95h0.9M71.5 713.95h0.9M68 713.45h0.9M65.5 710.45h0.9M63.5 714.95h0.9M74 708.95h0.9M72.5 713.45h0.9M60 718.45h0.9M50.5 719.95h0.9M69 713.45h0.9M63.5 719.95h0.9M64.5 717.95h0.9M79 715.95h0.9M74 716.45h0.9M65 705.45h0.9M103.5 705.95h0.9M73.5 713.95h0.9M57.5 705.45h0.9M65 718.45h0.9M65 712.45h0.9M67 712.45h0.9M69.5 720.45h0.9M76.5 710.45h0.9M60 707.45h0.9M64 710.95h0.9M49 714.45h0.9M65 705.95h0.9M62 714.95h0.9M65.5 711.45h0.9M73.5 710.45h0.9M58 714.45h0.9M64.5 710.45h0.9M77.5 715.95h0.9M55 713.45h0.9M76 714.95h0.9M65.5 713.45h0.9M84 718.45h0.9M59 702.45h0.9M73.5 706.95h0.9M67 713.95h0.9M65 710.45h0.9M73 713.95h0.9M82.5 711.45h0.9M70 713.45h0.9M66 708.95h0.9M73.5 715.45h0.9M62 712.45h0.9M64 706.45h0.9M58 703.95h0.9M72.5 715.45h0.9M62 712.95h0.9M68 711.45h0.9M70 712.45h0.9M90 706.95h0.9M69 707.95h0.9M75.5 708.95h0.9M54.5 711.45h0.9M55 708.95h0.9M85 710.45h0.9M57 717.45h0.9M67.5 716.45h0.9M47 711.45h0.9M72 713.45h0.9M73 716.95h0.9M73.5 716.45h0.9M75.5 709.95h0.9M55 714.45h0.9M46.5 720.95h0.9M48 712.45h0.9M96.5 707.95h0.9M93.5 713.45h0.9M89.5 717.45h0.9M68 709.95h0.9M62.5 707.95h0.9M50 713.95h0.9M49 713.95h0.9M65.5 711.95h0.9M54 708.45h0.9M76 709.45h0.9M74.5 719.45h0.9M90 715.45h0.9M74.5 714.95h0.9M64 711.95h0.9M45.5 714.45h0.9M60.5 713.95h0.9M93 715.45h0.9M80 715.45h0.9M59.5 710.45h0.9M49 710.45h0.9M73.5 711.45h0.9M53 712.95h0.9M70 705.45h0.9M67.5 707.45h0.9M61 711.95h0.9M54.5 710.95h0.9M73 708.95h0.9M64 711.45h0.9M67.5 714.95h0.9M60 712.45h0.9M76 711.45h0.9M49.5 712.45h0.9M68 710.95h0.9M89 710.95h0.9M49 711.95h0.9M96.5 712.95h0.9M76 709.95h0.9M66 710.45h0.9M52 709.95h0.9M75.5 708.45h0.9M75.5 718.45h0.9M55 715.45h0.9M76.5 703.45h0.9M76.5 714.95h0.9M57 718.45h0.9M45 716.95h0.9M69.5 708.95h0.9M67.5 706.95h0.9M73.5 714.45h0.9M81 717.45h0.9M77.5 716.45h0.9M69 718.45h0.9M65.5 706.45h0.9M60.5 711.45h0.9M64.5 716.45h0.9M60.5 715.95h0.9M81 708.95h0.9M74.5 716.95h0.9M73.5 710.95h0.9M60 719.45h0.9M65.5 714.45h0.9M81 718.45h0.9M69.5 710.45h0.9M65.5 709.95h0.9M64.5 711.95h0.9M48.5 709.95h0.9M49 712.45h0.9M65.5 707.95h0.9M73 706.95h0.9M58.5 718.45h0.9M71 708.95h0.9M63.5 708.95h0.9M56.5 710.95h0.9M56 712.95h0.9M79 709.45h0.9M55 709.45h0.9M59 712.95h0.9M58 715.95h0.9M92 718.95h0.9M88 706.95h0.9M94 725.95h0.9M84 708.95h0.9M92.5 716.45h0.9M89 724.95h0.9M86 707.95h0.9M85 713.95h0.9M88 719.95h0.9M91 707.95h0.9M90.5 711.45h0.9M94.5 719.45h0.9M84 715.95h0.9M87.5 715.45h0.9M84.5 710.95h0.9M90.5 707.45h0.9M77 708.95h0.9M91 717.45h0.9M80.5 716.45h0.9M87.5 716.95h0.9M83.5 725.45h0.9M92.5 705.45h0.9M79 718.45h0.9M79 707.95h0.9M89.5 711.45h0.9M88 699.45h0.9M83 715.45h0.9M97.5 714.95h0.9M87 713.45h0.9M92 716.45h0.9M82.5 700.45h0.9M86 709.95h0.9M96 707.45h0.9M91 700.45h0.9M91 704.45h0.9M87 710.95h0.9M87.5 712.45h0.9M81 715.95h0.9M82.5 711.95h0.9M86.5 710.95h0.9M83 719.45h0.9M86 712.95h0.9M76 715.95h0.9M76.5 723.95h0.9M78 710.95h0.9M80.5 704.45h0.9M78 720.95h0.9M97.5 711.45h0.9M91 709.45h0.9M81.5 723.45h0.9M90 705.45h0.9M85.5 711.45h0.9M83.5 711.95h0.9M84.5 710.45h0.9M83 721.45h0.9M88 712.45h0.9M80.5 717.45h0.9M80.5 707.95h0.9M83 712.45h0.9M81 704.45h0.9M82 712.45h0.9M84 710.95h0.9M95.5 694.45h0.9M85.5 705.45h0.9M79 716.95h0.9M80 708.95h0.9M81 721.45h0.9M86.5 699.95h0.9M85 720.95h0.9M89 708.45h0.9M85 716.45h0.9M81.5 709.95h0.9M88.5 710.45h0.9M82 721.95h0.9M87.5 710.45h0.9M72 718.45h0.9M91.5 711.95h0.9M87 706.95h0.9M97 717.45h0.9M98 725.45h0.9M76.5 714.45h0.9M87 708.95h0.9M90 712.95h0.9M91.5 714.95h0.9M91 713.95h0.9M84.5 709.45h0.9M88 707.95h0.9M83.5 716.95h0.9M88 710.95h0.9M88 709.95h0.9M93.5 710.95h0.9M87 705.45h0.9M83.5 704.45h0.9M89 715.45h0.9M90 709.95h0.9M87 714.45h0.9M85 701.95h0.9M96.5 715.45h0.9M91.5 716.95h0.9M83 711.95h0.9M84.5 718.45h0.9M88.5 728.95h0.9M87 715.45h0.9M97.5 706.95h0.9M88.5 719.45h0.9M90 708.45h0.9M87 712.95h0.9M91.5 718.45h0.9M77 712.95h0.9M83.5 713.95h0.9M85 714.45h0.9M89.5 719.95h0.9M94.5 712.45h0.9M84 720.45h0.9M89 714.45h0.9M90 703.45h0.9M82.5 706.95h0.9M81.5 721.45h0.9M77.5 711.45h0.9M86.5 706.95h0.9M89 707.45h0.9M80 704.95h0.9M93.5 709.95h0.9M88 715.95h0.9M89 707.95h0.9M91 718.95h0.9M80 717.45h0.9M89.5 718.95h0.9M90 711.45h0.9M83 716.45h0.9M89 714.95h0.9M84.5 719.45h0.9M91.5 718.95h0.9M92 704.45h0.9M87.5 703.45h0.9M90 712.45h0.9M93.5 712.45h0.9M84.5 711.95h0.9M89 701.45h0.9M85.5 716.95h0.9M91 714.95h0.9M81.5 711.95h0.9M89.5 712.45h0.9M88 723.95h0.9M96.5 709.95h0.9M82.5 712.45h0.9M93.5 706.45h0.9M82.5 704.95h0.9M92.5 709.45h0.9M86.5 722.45h0.9M80.5 718.95h0.9M88.5 708.45h0.9M81.5 713.95h0.9M90 720.95h0.9M91.5 724.95h0.9M91.5 712.45h0.9M89 712.95h0.9M88 706.45h0.9M87 715.95h0.9M95.5 711.95h0.9M85.5 708.45h0.9M84.5 708.45h0.9M94 715.45h0.9M76.5 707.95h0.9M85.5 702.95h0.9M94 716.45h0.9M90.5 709.95h0.9M83 713.45h0.9M81.5 706.95h0.9M85.5 723.45h0.9M82 713.95h0.9M96.5 714.95h0.9M93.5 706.95h0.9M88.5 720.95h0.9M85.5 707.95h0.9M79.5 721.45h0.9M86.5 720.45h0.9M88 712.95h0.9M93 708.95h0.9M84 712.95h0.9M84.5 711.45h0.9M91 714.45h0.9M86.5 722.95h0.9M80.5 708.95h0.9M86 718.45h0.9M94.5 711.95h0.9M83.5 719.45h0.9M94.5 706.45h0.9M90.5 702.95h0.9M84.5 703.45h0.9M91 718.45h0.9M88.5 712.45h0.9M89 720.95h0.9M95 726.45h0.9M100.5 703.95h0.9M84.5 709.95h0.9M89.5 721.45h0.9M88.5 719.95h0.9M89.5 708.45h0.9M88.5 709.45h0.9M87 714.95h0.9M89 719.45h0.9M90.5 702.45h0.9M92 709.95h0.9M83 703.95h0.9M86.5 717.45h0.9M83 714.45h0.9M85.5 700.45h0.9M86 710.95h0.9M89.5 702.45h0.9M90 711.95h0.9M91.5 709.95h0.9M87 718.95h0.9M83.5 710.45h0.9M82 710.45h0.9M86.5 713.95h0.9M87.5 718.95h0.9M88.5 710.95h0.9M88 711.95h0.9M85.5 717.45h0.9M89.5 723.45h0.9M88.5 711.45h0.9M82 719.45h0.9M93.5 709.45h0.9M85.5 715.95h0.9M88.5 713.45h0.9M93.5 703.45h0.9M84.5 715.45h0.9M89.5 708.95h0.9M78.5 719.45h0.9M91.5 713.45h0.9M88.5 718.45h0.9M98.5 706.45h0.9M87 700.95h0.9M81 719.45h0.9M85.5 699.45h0.9M80.5 721.45h0.9M95 709.45h0.9M87 708.45h0.9M82.5 717.95h0.9M88 708.45h0.9M79 709.95h0.9M91 715.95h0.9M85.5 711.95h0.9M97 707.45h0.9M88.5 716.95h0.9M126.5 674.45h0.9M123.5 675.45h0.9M127.5 677.45h0.9M108 674.45h0.9M134 682.45h0.9M129 682.95h0.9M122 679.45h0.9M128.5 681.95h0.9M125 684.95h0.9M118.5 679.45h0.9M135 682.45h0.9M96.5 682.95h0.9M129 673.45h0.9M113 683.45h0.9M119.5 678.45h0.9M78.5 684.45h0.9M129.5 674.95h0.9M130 679.95h0.9M139.5 671.45h0.9M138 672.95h0.9M99.5 677.45h0.9M143.5 676.95h0.9M87.5 683.45h0.9M123 683.95h0.9M111.5 678.95h0.9M85.5 682.95h0.9M86.5 682.95h0.9M80.5 684.45h0.9M123 677.45h0.9M136.5 680.45h0.9M136 680.95h0.9M114 680.95h0.9M112 681.45h0.9M125.5 676.95h0.9M139 674.95h0.9M136.5 677.95h0.9M127 682.45h0.9M100 681.45h0.9M121.5 681.45h0.9M116 680.45h0.9M142 676.95h0.9M74 681.45h0.9M83 682.95h0.9M122.5 681.95h0.9M76 686.95h0.9M125.5 679.95h0.9M87.5 686.45h0.9M137 679.95h0.9M90 677.45h0.9M76.5 680.45h0.9M67 684.95h0.9M132.5 675.45h0.9M125.5 680.95h0.9M126 679.95h0.9M107.5 676.45h0.9M124 682.45h0.9M124 680.95h0.9M61 680.45h0.9M120 684.95h0.9M143 677.45h0.9M118.5 681.95h0.9M58 684.95h0.9M134 679.95h0.9M125.5 681.45h0.9M126.5 676.95h0.9M126 682.45h0.9M82.5 680.95h0.9M138 677.95h0.9M128 677.45h0.9M110.5 681.45h0.9M139 680.95h0.9M113 674.45h0.9M131.5 677.45h0.9M103.5 685.95h0.9M120.5 677.45h0.9M120.5 681.45h0.9M73.5 684.95h0.9M111 684.95h0.9M133 676.95h0.9M106.5 681.45h0.9M118.5 677.95h0.9M134.5 674.95h0.9M119 678.95h0.9M138 675.95h0.9M143 676.95h0.9M74.5 684.95h0.9M123 679.95h0.9M111 677.45h0.9M117.5 683.45h0.9M129.5 681.45h0.9M115 681.45h0.9M142 681.95h0.9M136.5 678.95h0.9M109 681.45h0.9M125 675.95h0.9M136 681.95h0.9M127 680.95h0.9M119.5 680.95h0.9M127 679.95h0.9M122.5 677.95h0.9M129.5 676.95h0.9M136 684.45h0.9M126.5 685.95h0.9M118 682.45h0.9M109 674.45h0.9M117.5 677.45h0.9M127 681.95h0.9M64 684.95h0.9M119.5 675.95h0.9M106 676.45h0.9M137 674.95h0.9M127.5 680.95h0.9M116 684.45h0.9M124.5 678.45h0.9M138.5 679.45h0.9M134.5 676.95h0.9M133.5 676.95h0.9M125 671.95h0.9M133.5 678.95h0.9M132 676.45h0.9M118.5 679.95h0.9M110.5 684.45h0.9M59.5 684.45h0.9M110.5 683.45h0.9M136.5 681.45h0.9M135 681.95h0.9M131.5 680.95h0.9M119.5 679.45h0.9M120 680.45h0.9M148.5 673.95h0.9M109 683.95h0.9M130 677.95h0.9M106 682.45h0.9M117.5 675.45h0.9M81.5 676.95h0.9M122.5 682.95h0.9M135.5 675.45h0.9M117.5 679.45h0.9M120.5 674.95h0.9M117.5 676.95h0.9M133 672.95h0.9M71.5 680.45h0.9M145.5 676.95h0.9M119 672.45h0.9M78.5 687.45h0.9M124 684.95h0.9M109 677.45h0.9M124 677.95h0.9M113.5 680.45h0.9M110.5 681.95h0.9M124 683.45h0.9M121.5 676.45h0.9M115.5 679.45h0.9M115 682.95h0.9M71 679.45h0.9M68.5 683.45h0.9M121 683.95h0.9M123.5 680.95h0.9M79 683.45h0.9M122 677.45h0.9M129.5 676.45h0.9M131 680.95h0.9M124.5 683.95h0.9M107.5 684.45h0.9M126 677.45h0.9M117 678.95h0.9M107.5 683.95h0.9M136.5 674.95h0.9M144.5 675.95h0.9M103 675.95h0.9M143 679.95h0.9M131.5 680.45h0.9M113 684.45h0.9M101 688.45h0.9M137 682.95h0.9M121 677.45h0.9M118.5 680.95h0.9M140 677.45h0.9M130.5 678.95h0.9M128 675.45h0.9M58.5 687.95h0.9M134.5 677.45h0.9M131.5 677.95h0.9M126.5 677.45h0.9M140.5 678.45h0.9M117 679.45h0.9M124.5 682.95h0.9M120 682.45h0.9M127 676.45h0.9M123.5 680.45h0.9M106.5 678.45h0.9M109.5 678.95h0.9M137.5 677.45h0.9M95 683.95h0.9M118.5 685.45h0.9M152 673.45h0.9M95 680.45h0.9M128.5 670.95h0.9M108.5 679.45h0.9M134 677.95h0.9M76 684.45h0.9M109.5 682.95h0.9M122 683.45h0.9M127 678.95h0.9M83.5 679.45h0.9M123.5 677.95h0.9M144 680.95h0.9M126.5 675.45h0.9M128.5 674.45h0.9M142 680.95h0.9M111.5 676.45h0.9M130 679.45h0.9M63 681.95h0.9M133 677.95h0.9M62.5 681.45h0.9M129.5 678.45h0.9M128.5 681.45h0.9M131 680.45h0.9M117.5 682.45h0.9M117 679.95h0.9M116 682.95h0.9M97 682.45h0.9M128.5 676.45h0.9M134 679.45h0.9M93 683.45h0.9M87.5 682.45h0.9M124 676.95h0.9M57.5 684.95h0.9M119 678.45h0.9M85.5 686.95h0.9M106.5 681.95h0.9M86.5 683.95h0.9M119.5 685.45h0.9M130 681.95h0.9M132 675.95h0.9M82.5 679.95h0.9M119.5 685.95h0.9M121.5 675.95h0.9M121.5 682.95h0.9M76 680.95h0.9M124 681.45h0.9M110.5 680.95h0.9M142.5 671.95h0.9M121.5 678.95h0.9M109 676.95h0.9M125.5 679.45h0.9M126 683.95h0.9M131 677.45h0.9M133 678.45h0.9M111.5 686.45h0.9M128.5 674.95h0.9M133 685.95h0.9M149 672.45h0.9M143 674.95h0.9M125 679.45h0.9M132.5 679.45h0.9M70 682.95h0.9M85.5 681.45h0.9M120 678.45h0.9M126.5 683.45h0.9M131 670.45h0.9M58 685.45h0.9M130 680.95h0.9M117 682.95h0.9M128.5 673.45h0.9M120.5 679.95h0.9M138.5 678.45h0.9M121.5 677.45h0.9M141.5 676.95h0.9M132 678.45h0.9M111 676.95h0.9M92 679.45h0.9M89 677.95h0.9M56.5 683.95h0.9M135.5 677.45h0.9M56 684.95h0.9M126 679.45h0.9M141 677.45h0.9M134 673.45h0.9M127.5 679.95h0.9M124 683.95h0.9M132.5 684.95h0.9M148 677.45h0.9M142.5 679.45h0.9M137 678.95h0.9M145 676.45h0.9M138.5 674.95h0.9M81 682.95h0.9M146.5 680.45h0.9M133.5 675.95h0.9M77 679.95h0.9M125 679.95h0.9M102.5 682.45h0.9M130.5 684.95h0.9M117 676.45h0.9M107 679.95h0.9M127.5 675.45h0.9M120 675.95h0.9M130.5 675.95h0.9M112.5 678.45h0.9M130 678.45h0.9M125.5 675.95h0.9M124.5 674.95h0.9M111.5 682.45h0.9M106.5 685.45h0.9M73 685.95h0.9M122.5 679.45h0.9M135 680.95h0.9M127.5 678.45h0.9M145 674.95h0.9M128 677.95h0.9M146.5 674.95h0.9M135.5 678.45h0.9M134 675.95h0.9M116 673.45h0.9M62 686.45h0.9M120 679.95h0.9M135.5 680.95h0.9M136 678.45h0.9M121.5 680.95h0.9M114.5 682.45h0.9M131.5 674.45h0.9M78 685.95h0.9M129.5 678.95h0.9M136.5 675.95h0.9M145 678.45h0.9M114 678.95h0.9M117.5 680.95h0.9M105 684.45h0.9M64.5 682.95h0.9M138 675.45h0.9M140.5 674.95h0.9M137.5 679.45h0.9M136 677.45h0.9M132.5 672.95h0.9M144 676.95h0.9M128 682.45h0.9M75 683.45h0.9M90 683.45h0.9M134.5 681.45h0.9M122 682.45h0.9M120 683.45h0.9M109.5 677.45h0.9M59.5 687.95h0.9M122.5 682.45h0.9M127.5 679.45h0.9M121 683.45h0.9M129 678.45h0.9M121.5 674.45h0.9M129.5 675.45h0.9M64.5 686.95h0.9M116.5 680.45h0.9M61 685.95h0.9M69 685.45h0.9M127 677.95h0.9M148 672.95h0.9M132.5 669.95h0.9M62.5 682.45h0.9M100.5 682.95h0.9M122.5 679.95h0.9M142 677.95h0.9M130 673.45h0.9M128 681.95h0.9M104.5 682.95h0.9M66.5 684.45h0.9M142.5 681.45h0.9M155.5 675.45h0.9M143.5 675.95h0.9M117 681.45h0.9M98.5 682.95h0.9M129.5 675.95h0.9M102.5 686.95h0.9M139.5 674.95h0.9M134.5 676.45h0.9M117.5 683.95h0.9M129.5 677.45h0.9M125.5 678.95h0.9M100.5 680.95h0.9M76 681.45h0.9M135 677.45h0.9M130 683.45h0.9M143.5 674.95h0.9M125.5 682.45h0.9M128 679.45h0.9M77 681.45h0.9M126.5 674.95h0.9M73.5 684.45h0.9M129 678.95h0.9M122.5 677.45h0.9M67.5 684.45h0.9M75.5 683.95h0.9M142.5 676.45h0.9M140 678.95h0.9M63.5 683.45h0.9M137 680.95h0.9M144 677.45h0.9M110 680.45h0.9M109 680.45h0.9M133.5 679.95h0.9M136 682.45h0.9M114 681.45h0.9M132.5 680.95h0.9M135 678.45h0.9M133 677.45h0.9M110 683.95h0.9M128.5 682.45h0.9M137.5 675.95h0.9M131.5 676.45h0.9M110 680.95h0.9M126.5 671.45h0.9M55.5 684.45h0.9M127.5 684.95h0.9M127.5 678.95h0.9M98.5 679.95h0.9M143 680.45h0.9M128.5 675.95h0.9M132 683.95h0.9M116 676.45h0.9M124 675.95h0.9M119.5 686.95h0.9M129.5 683.45h0.9M137.5 678.45h0.9M123 685.95h0.9M131.5 675.45h0.9M107 688.45h0.9M133 678.95h0.9M126 672.45h0.9M143.5 680.45h0.9M121 674.45h0.9M118 680.95h0.9M98 680.95h0.9M119.5 678.95h0.9M142 677.45h0.9M123 685.45h0.9M125 682.45h0.9M123.5 676.95h0.9M136.5 677.45h0.9M149.5 672.95h0.9M129.5 681.95h0.9M119.5 680.45h0.9M142 679.45h0.9M121.5 681.95h0.9M127.5 677.95h0.9M89 683.45h0.9M65 678.45h0.9M118.5 676.95h0.9M118 677.45h0.9M101.5 680.45h0.9M122 679.95h0.9M111 679.95h0.9M135 681.45h0.9M131.5 683.45h0.9M98 681.95h0.9M103.5 677.95h0.9M70.5 677.95h0.9M121.5 679.95h0.9M83.5 690.95h0.9M127 678.45h0.9M123.5 681.95h0.9M87 684.45h0.9M135.5 669.45h0.9M122 675.45h0.9M140.5 677.95h0.9M121.5 683.95h0.9M126.5 678.95h0.9M126.5 678.45h0.9M135 677.95h0.9M135 674.95h0.9M131.5 681.45h0.9M136.5 675.45h0.9M114.5 682.95h0.9M137 677.45h0.9M133.5 677.95h0.9M121.5 678.45h0.9M108 680.95h0.9M57 683.95h0.9M126 674.95h0.9M66 677.95h0.9M69.5 681.95h0.9M141.5 675.95h0.9M133.5 675.45h0.9M133.5 672.45h0.9M134 674.45h0.9M110.5 675.45h0.9M141 678.95h0.9M127 675.45h0.9M114.5 679.95h0.9M74.5 683.95h0.9M129.5 672.45h0.9M129 677.95h0.9M134 676.95h0.9M138.5 675.95h0.9M115.5 683.95h0.9M88 683.95h0.9M132 681.45h0.9M121 672.95h0.9M96 681.95h0.9M144 671.95h0.9M131 682.45h0.9M62.5 687.95h0.9M140.5 680.45h0.9M70.5 682.95h0.9M123.5 672.45h0.9M88 684.95h0.9M123.5 676.45h0.9M125 682.95h0.9M146.5 676.45h0.9M118.5 682.45h0.9M144.5 678.45h0.9M142 670.95h0.9M135.5 679.95h0.9M71 678.95h0.9M118 680.45h0.9M72.5 680.95h0.9M126 670.95h0.9M131 682.95h0.9M122.5 675.45h0.9M128.5 673.95h0.9M61.5 683.45h0.9M133.5 683.95h0.9M105.5 676.45h0.9M142 676.45h0.9M115.5 680.95h0.9M128 676.95h0.9M136.5 680.95h0.9M126 676.45h0.9M120.5 679.45h0.9M150 679.95h0.9M115.5 680.45h0.9M137 673.45h0.9M120.5 678.45h0.9M71.5 689.95h0.9M134.5 680.95h0.9M121 686.45h0.9M112.5 678.95h0.9M138.5 677.95h0.9M126.5 679.45h0.9M78.5 685.95h0.9M119 679.45h0.9M129.5 677.95h0.9M136.5 676.45h0.9M126 678.95h0.9M122 681.45h0.9M110.5 678.95h0.9M84.5 682.95h0.9M129 676.95h0.9M106 684.45h0.9M110.5 676.95h0.9M96.5 680.45h0.9M125 678.95h0.9M130.5 674.95h0.9M126.5 675.95h0.9M121 673.95h0.9M148.5 674.45h0.9M134.5 682.45h0.9M120 677.45h0.9M128.5 678.45h0.9M126 677.95h0.9M94 684.95h0.9M127 681.45h0.9M112.5 682.95h0.9M137.5 672.95h0.9M142 675.45h0.9M121 681.95h0.9M134 680.45h0.9M118.5 683.95h0.9M116 676.95h0.9M131 678.95h0.9M124.5 681.95h0.9M137 676.95h0.9M98 683.95h0.9M134.5 675.45h0.9M131.5 681.95h0.9M115.5 681.95h0.9M75 685.45h0.9M116.5 681.45h0.9M149 673.95h0.9M95.5 684.45h0.9M127 677.45h0.9M101.5 684.45h0.9M61 683.95h0.9M120.5 678.95h0.9M137.5 678.95h0.9M145 672.95h0.9M90 677.95h0.9M144.5 676.45h0.9M139 678.95h0.9M137.5 679.95h0.9M91 678.45h0.9M147 679.45h0.9M129 680.45h0.9M140.5 676.45h0.9M100.5 679.95h0.9M118.5 676.45h0.9M118.5 673.95h0.9M123.5 681.45h0.9M119 674.95h0.9M149 677.95h0.9M132 680.95h0.9M149.5 677.95h0.9M121.5 677.95h0.9M125.5 678.45h0.9M131 675.45h0.9M97.5 684.95h0.9M117.5 673.45h0.9M131 676.45h0.9M128 672.45h0.9M133 674.95h0.9M115 672.95h0.9M114.5 676.95h0.9M109.5 680.95h0.9M142.5 675.95h0.9M127.5 681.95h0.9M123 680.95h0.9M77 682.45h0.9M120.5 675.45h0.9M121 682.45h0.9M128 680.95h0.9M111.5 682.95h0.9M71 680.45h0.9M113.5 682.45h0.9M83 675.45h0.9M112.5 680.95h0.9M128.5 677.45h0.9M93.5 677.95h0.9M111.5 676.95h0.9M116.5 676.45h0.9M137.5 676.95h0.9M103.5 679.95h0.9M135 679.95h0.9M123 682.95h0.9M150 677.95h0.9M143 675.95h0.9M140.5 676.95h0.9M63 682.95h0.9M142.5 678.45h0.9M129 674.95h0.9M66 685.95h0.9M111 681.95h0.9M95.5 677.45h0.9M111.5 681.45h0.9M116.5 680.95h0.9M139.5 674.45h0.9M138 676.95h0.9M139 680.45h0.9M67 686.45h0.9M84 686.95h0.9M125 676.95h0.9M117 676.95h0.9M126 678.45h0.9M138.5 683.45h0.9M125.5 684.95h0.9M121 679.95h0.9M136.5 678.45h0.9M140.5 673.45h0.9M120.5 677.95h0.9M102 679.95h0.9M86 687.95h0.9M123.5 675.95h0.9M141.5 677.45h0.9M74.5 685.95h0.9M92 680.95h0.9M118.5 678.95h0.9M139 679.95h0.9M143.5 684.95h0.9M103.5 678.45h0.9M104.5 673.95h0.9M129.5 680.45h0.9M78 679.45h0.9M124 676.45h0.9M57.5 686.45h0.9M107 677.95h0.9M100 673.95h0.9M123.5 682.45h0.9M83 681.95h0.9M123 678.45h0.9M134.5 677.95h0.9M121 676.95h0.9M125.5 680.45h0.9M128.5 679.95h0.9M98 679.95h0.9M144.5 678.95h0.9M115.5 676.95h0.9M140 674.45h0.9M56.5 678.95h0.9M119.5 682.95h0.9M122 680.95h0.9M62 686.95h0.9M98.5 687.95h0.9M134.5 675.95h0.9M137.5 680.95h0.9M107 680.45h0.9M143.5 686.95h0.9M127 679.45h0.9M98.5 685.45h0.9M74 684.95h0.9M120 684.45h0.9M118.5 681.45h0.9M122 673.95h0.9M118 684.95h0.9M143 674.45h0.9M67.5 686.95h0.9M81 680.95h0.9M115 675.95h0.9M92.5 681.95h0.9M127 669.95h0.9M121 679.45h0.9M129 681.95h0.9M109 679.95h0.9M128.5 678.95h0.9M83.5 680.95h0.9M77.5 688.45h0.9M108 681.95h0.9M120.5 682.95h0.9M133 681.95h0.9M142.5 677.45h0.9M130 681.45h0.9M124.5 673.45h0.9M130 677.45h0.9M113.5 686.45h0.9M137 673.95h0.9M62 683.95h0.9M105 680.95h0.9M124 680.45h0.9M148.5 677.95h0.9M84.5 676.45h0.9M141.5 675.45h0.9M107 681.45h0.9M132 681.95h0.9M83.5 684.95h0.9M137.5 674.95h0.9M121.5 680.45h0.9M117 684.95h0.9M147.5 677.95h0.9M130.5 678.45h0.9M88 682.45h0.9M122 686.45h0.9M88.5 681.95h0.9M124.5 675.95h0.9M129 679.95h0.9M130.5 680.95h0.9M128 680.45h0.9M83 684.95h0.9M60.5 686.95h0.9M140 680.45h0.9M136 676.45h0.9M149 678.45h0.9M143 682.95h0.9M123 676.95h0.9M114 683.95h0.9M121.5 684.45h0.9M135.5 676.45h0.9M109 678.95h0.9M91.5 677.45h0.9M127.5 675.95h0.9M116 683.95h0.9M122.5 678.95h0.9M139.5 678.45h0.9M131 674.95h0.9M128.5 679.45h0.9M125 681.45h0.9M118.5 675.95h0.9M70 686.45h0.9M117.5 677.95h0.9M124.5 678.95h0.9M119.5 677.45h0.9M138.5 679.95h0.9M71 684.45h0.9M111 678.45h0.9M122.5 683.95h0.9M121.5 683.45h0.9M113 676.45h0.9M86.5 681.95h0.9M122.5 676.45h0.9M91.5 684.45h0.9M108.5 682.45h0.9M120 681.95h0.9M62 684.45h0.9M149 713.45h0.9M114.5 706.95h0.9M133.5 719.95h0.9M115 717.95h0.9M147 707.45h0.9M128 720.45h0.9M128 711.45h0.9M127 714.45h0.9M109.5 699.95h0.9M127.5 726.95h0.9M110.5 705.45h0.9M106.5 710.95h0.9M121.5 718.45h0.9M137.5 698.95h0.9M137 703.45h0.9M117.5 721.95h0.9M147 709.95h0.9M129.5 698.45h0.9M125.5 707.45h0.9M148.5 704.95h0.9M137 698.95h0.9M104.5 695.95h0.9M105.5 726.95h0.9M108.5 710.95h0.9M133.5 726.95h0.9M115.5 706.45h0.9M140.5 729.95h0.9M134 712.95h0.9M140.5 719.45h0.9M108.5 706.45h0.9M110.5 698.45h0.9M106.5 697.95h0.9M117 703.45h0.9M117.5 722.45h0.9M130.5 695.45h0.9M138 713.45h0.9M133 699.95h0.9M120 709.45h0.9M148.5 703.95h0.9M105 713.95h0.9M114 697.95h0.9M114.5 697.45h0.9M113 725.95h0.9M140 719.45h0.9M104.5 710.45h0.9M120 711.45h0.9M144 707.95h0.9M146.5 714.45h0.9M105.5 722.45h0.9M146.5 729.95h0.9M146.5 707.45h0.9M150.5 713.45h0.9M111.5 702.45h0.9M122 700.45h0.9M151 728.95h0.9M140.5 707.45h0.9M142 696.95h0.9M133 724.95h0.9M116.5 707.95h0.9M122.5 711.95h0.9M119 694.95h0.9M142 716.45h0.9M151.5 720.95h0.9M125.5 699.95h0.9M121 728.45h0.9M142.5 705.95h0.9M125.5 715.45h0.9M107.5 727.95h0.9M129 721.95h0.9M131.5 699.95h0.9M104 722.45h0.9M151 726.95h0.9M110 710.95h0.9M119 706.95h0.9M139 700.95h0.9M112 723.95h0.9M136.5 713.95h0.9M118 706.95h0.9M144 718.45h0.9M133 716.95h0.9M112.5 727.45h0.9M111 727.45h0.9M117.5 702.95h0.9M135.5 708.95h0.9M146.5 695.45h0.9M133.5 705.95h0.9M147 725.45h0.9M119 698.95h0.9M143.5 723.45h0.9M117 719.45h0.9M142 720.45h0.9M115 712.45h0.9M125.5 704.95h0.9M113 724.45h0.9M135 724.45h0.9M146 702.45h0.9M128 697.95h0.9M111 702.95h0.9M136 728.95h0.9M116.5 696.45h0.9M111 698.95h0.9M106 695.45h0.9M107.5 715.45h0.9M127 725.95h0.9M151.5 698.95h0.9M107 700.45h0.9M110.5 709.45h0.9M106.5 724.45h0.9M145 700.95h0.9M114.5 712.95h0.9M130 722.45h0.9M142.5 704.95h0.9M140.5 715.45h0.9M110.5 702.95h0.9M129.5 714.95h0.9M146.5 725.45h0.9M115 729.45h0.9M114 702.45h0.9M115.5 714.95h0.9M124.5 725.45h0.9M123.5 728.95h0.9M124 705.95h0.9M128 704.45h0.9M130 704.45h0.9M137.5 699.45h0.9M111 712.95h0.9M135 730.45h0.9M118.5 719.95h0.9M131 706.95h0.9M108.5 718.45h0.9M130.5 697.45h0.9M118.5 723.95h0.9M131.5 729.45h0.9M116.5 720.95h0.9M137 715.95h0.9M110 711.45h0.9M112 698.45h0.9M138.5 707.45h0.9M147.5 720.95h0.9M107.5 721.95h0.9M147 722.45h0.9M131.5 721.45h0.9M113 699.45h0.9M121.5 697.95h0.9M145 711.95h0.9M134.5 717.45h0.9M141 715.95h0.9M152 699.95h0.9M145.5 707.95h0.9M127 716.45h0.9M150 720.95h0.9M118 698.45h0.9M109 717.45h0.9M143 719.95h0.9M128.5 703.45h0.9M103.5 722.95h0.9M111 721.95h0.9M140.5 727.95h0.9M129 715.45h0.9M146 706.45h0.9M137.5 724.95h0.9M131 719.95h0.9M107 695.45h0.9M124.5 701.45h0.9M131.5 708.45h0.9M123.5 702.45h0.9M132.5 708.45h0.9M136.5 705.45h0.9M126 713.95h0.9M123 691.95h0.9M124.5 705.45h0.9M124 708.95h0.9M130 712.45h0.9M125 708.45h0.9M129 712.45h0.9M126 693.95h0.9M132 707.45h0.9M127.5 703.95h0.9M118 718.95h0.9M124 704.95h0.9M132.5 707.45h0.9M131 710.45h0.9M135 704.45h0.9M119 706.45h0.9M138.5 706.45h0.9M124 698.45h0.9M122.5 709.95h0.9M129 709.95h0.9M124 710.45h0.9M122.5 699.95h0.9M133 708.45h0.9M117.5 707.95h0.9M131.5 704.45h0.9M133.5 715.45h0.9M118.5 710.95h0.9M134 709.95h0.9M122.5 712.45h0.9M125 717.45h0.9M129 713.45h0.9M126 697.95h0.9M140 715.95h0.9M126.5 717.45h0.9M133.5 709.45h0.9M117 712.45h0.9M133 704.45h0.9M119.5 699.95h0.9M138.5 712.45h0.9M135 699.45h0.9M123.5 715.45h0.9M135.5 711.45h0.9M135.5 703.45h0.9M131.5 704.95h0.9M130.5 707.95h0.9M132 708.95h0.9M141.5 709.45h0.9M130 706.45h0.9M130 707.45h0.9M132.5 712.45h0.9M107.5 706.45h0.9M130.5 709.95h0.9M141.5 699.45h0.9M136 711.95h0.9M135 715.95h0.9M126.5 702.45h0.9M134 716.95h0.9M136.5 698.45h0.9M125.5 697.95h0.9M126 702.45h0.9M129.5 703.45h0.9M135 703.45h0.9M123.5 709.45h0.9M133.5 696.95h0.9M134 707.95h0.9M118.5 703.95h0.9M131.5 702.95h0.9M131 716.45h0.9M119 701.45h0.9M126.5 718.45h0.9M138.5 705.95h0.9M118 715.95h0.9M126.5 716.45h0.9M122 697.95h0.9M119.5 700.95h0.9M126 706.95h0.9M112 699.45h0.9M126.5 708.45h0.9M136 713.95h0.9M120.5 701.45h0.9M130 698.45h0.9M129.5 714.45h0.9M121 704.95h0.9M123.5 716.45h0.9M129 708.45h0.9M128.5 708.45h0.9M134 705.95h0.9M123.5 716.95h0.9M137.5 691.95h0.9M126.5 708.95h0.9M126 716.45h0.9M125 723.45h0.9M121.5 707.45h0.9M132 708.45h0.9M130.5 706.45h0.9M132 706.95h0.9M58.5 693.95h0.9M51.5 696.45h0.9M88 700.95h0.9M93.5 689.95h0.9M84.5 673.45h0.9M92.5 663.45h0.9M84 680.95h0.9M78 686.45h0.9M65.5 664.95h0.9M55.5 693.95h0.9M92.5 673.95h0.9M71 698.45h0.9M74.5 672.45h0.9M59.5 689.45h0.9M50.5 684.95h0.9M62.5 699.95h0.9M62.5 683.95h0.9M81 695.45h0.9M52 694.45h0.9M97 681.45h0.9M47.5 683.95h0.9M59 696.95h0.9M88 673.95h0.9M76.5 671.95h0.9M70 668.95h0.9M99.5 681.45h0.9M49 687.45h0.9M50 696.95h0.9M83 692.45h0.9M77 668.95h0.9M55 676.45h0.9M92 664.45h0.9M87 672.95h0.9M94.5 681.95h0.9M75 701.45h0.9M63 668.95h0.9M61.5 664.45h0.9M73 667.95h0.9M92.5 683.45h0.9M53.5 700.95h0.9M98 663.45h0.9M73.5 701.45h0.9M86 699.45h0.9M48 673.45h0.9M66.5 672.95h0.9M53.5 679.95h0.9M68.5 696.95h0.9M53.5 695.95h0.9M56 682.95h0.9M98.5 679.45h0.9M58 691.95h0.9M69.5 664.45h0.9M46 683.45h0.9M48 669.95h0.9M49.5 677.45h0.9M70 667.45h0.9M83.5 697.45h0.9M92 689.95h0.9M73 693.45h0.9M57.5 701.45h0.9M90 668.95h0.9M48 697.45h0.9M66 671.95h0.9M89 678.45h0.9M87.5 700.45h0.9M71 696.45h0.9M91.5 693.95h0.9M77.5 675.95h0.9M100 698.95h0.9M56 640.95h0.9M78 724.95h0.9M112 671.45h0.9M152.5 643.95h0.9M56.5 639.95h0.9M96 697.95h0.9M86.5 723.95h0.9M130.5 720.95h0.9M160 670.45h0.9M119 717.45h0.9M166 646.95h0.9M143 727.95h0.9M142.5 698.45h0.9M57 684.45h0.9M128.5 723.95h0.9M62.5 696.95h0.9M53.5 680.95h0.9M139 714.95h0.9M55.5 727.45h0.9M148 714.45h0.9M116.5 729.95h0.9M107 729.95h0.9M52.5 729.95h0.9M100.5 729.45h0.9M75 729.95h0.9M93 729.45h0.9M86.5 729.45h0.9M63 729.95h0.9M91.5 729.45h0.9M75.5 729.45h0.9M119 729.95h0.9M65 729.45h0.9M141 729.95h0.9M124.5 729.45h0.9M90.5 729.95h0.9M52 729.95h0.9M124 729.95h0.9M105 729.95h0.9M145.5 729.95h0.9M137.5 729.45h0.9M145 729.95h0.9M143 729.45h0.9M46 729.45h0.9M106.5 729.95h0.9M84.5 729.95h0.9M63.5 729.95h0.9M78 729.45h0.9M89.5 729.45h0.9M84.5 729.45h0.9M49 729.45h0.9M89 729.95h0.9M70 729.95h0.9M147 729.95h0.9M57.5 729.45h0.9M83 729.95h0.9M108 729.45h0.9M137.5 729.95h0.9M110.5 729.45h0.9M65 729.95h0.9M89.5 729.95h0.9M124 729.45h0.9M80 729.95h0.9M54 730.45h0.9M71 729.95h0.9M103.5 729.45h0.9M58.5 729.95h0.9M53.5 729.95h0.9M108 729.95h0.9M78.5 729.45h0.9M75.5 729.95h0.9M66.5 729.45h0.9M60.5 729.45h0.9M85 729.95h0.9M48 730.45h0.9M77 729.95h0.9M139.5 729.95h0.9M95 730.45h0.9M131 730.45h0.9M115.5 729.45h0.9M126.5 729.45h0.9M81.5 729.95h0.9M133.5 729.95h0.9M45 729.95h0.9M94 729.95h0.9M66 729.95h0.9M119 729.45h0.9M86.5 729.95h0.9M45.5 729.95h0.9M107.5 729.95h0.9M55 729.45h0.9M86 729.95h0.9M101.5 729.95h0.9M64 729.95h0.9M82 729.45h0.9M46.5 729.45h0.9M68.5 729.45h0.9M47.5 729.95h0.9M91 729.45h0.9M109.5 729.45h0.9M74.5 729.45h0.9M49 730.45h0.9M138 729.95h0.9M85.5 729.95h0.9M141.5 729.95h0.9M64.5 729.45h0.9M138.5 729.95h0.9M50.5 729.95h0.9M56.5 729.95h0.9M121 729.45h0.9M87.5 729.95h0.9M136 729.45h0.9M109.5 729.95h0.9M144.5 729.95h0.9M103 729.95h0.9M71 729.45h0.9M96.5 730.45h0.9M67.5 729.45h0.9M127 729.45h0.9M74.5 729.95h0.9M96.5 729.95h0.9M50 729.45h0.9M117.5 729.45h0.9M47 729.95h0.9M61.5 729.95h0.9M78 729.95h0.9M83.5 729.95h0.9M62 729.45h0.9M104 729.95h0.9M139 729.95h0.9M95 729.95h0.9M81 729.45h0.9M51 729.45h0.9M95.5 729.95h0.9M101.5 729.45h0.9M57 729.45h0.9M58 729.95h0.9M57 729.95h0.9M89 729.45h0.9M122.5 729.45h0.9M103.5 729.95h0.9M72.5 729.95h0.9M117 729.95h0.9M122 729.45h0.9" stroke="#f01818" stroke-width="0.9" opacity="1.0"/>
<path d="M130.5 680.95h0.9M136.5 678.45h0.9M128.5 682.45h0.9M79 683.95h0.9M128 675.95h0.9M124 676.45h0.9M134.5 674.45h0.9M116 687.95h0.9M109 683.95h0.9M76 679.45h0.9M135.5 673.45h0.9M125.5 677.95h0.9M132 679.45h0.9M132.5 676.45h0.9M140.5 675.45h0.9M125.5 679.95h0.9M123 676.45h0.9M122 683.95h0.9M132.5 681.45h0.9M120.5 677.95h0.9M65.5 682.45h0.9M144 673.95h0.9M133 678.95h0.9M132 680.95h0.9M125.5 683.45h0.9M125 680.45h0.9M119.5 677.45h0.9M91.5 678.45h0.9M122.5 680.45h0.9M140 680.95h0.9M98 676.95h0.9M113 685.95h0.9M134 676.95h0.9M131.5 679.95h0.9M129 684.45h0.9M125.5 678.95h0.9M127 675.45h0.9M55 689.45h0.9M136 678.95h0.9M132 675.95h0.9M109.5 674.45h0.9M126 683.95h0.9M142.5 674.45h0.9M65.5 679.95h0.9M132 678.95h0.9M110 683.95h0.9M58.5 684.45h0.9M119.5 678.45h0.9M119 686.95h0.9M145.5 675.45h0.9M134 678.95h0.9M137 677.45h0.9M144.5 677.95h0.9M121.5 680.95h0.9M119.5 679.95h0.9M138.5 681.95h0.9M113 686.95h0.9M119 675.95h0.9M87 684.95h0.9M79 682.45h0.9M139 682.95h0.9M126 677.95h0.9M122 678.45h0.9M131 676.95h0.9M118.5 687.95h0.9M127 682.45h0.9M120.5 680.95h0.9M129 679.95h0.9M144 675.45h0.9M110.5 682.95h0.9M126 676.95h0.9M119.5 680.95h0.9M125.5 681.95h0.9M120 680.45h0.9M149 679.45h0.9M137 679.45h0.9M135.5 675.45h0.9M122.5 681.95h0.9M104 676.95h0.9M69.5 689.95h0.9M130 675.45h0.9M126.5 681.45h0.9M120.5 677.45h0.9M104 680.45h0.9M126 679.95h0.9M135.5 677.95h0.9M74.5 680.95h0.9M131.5 676.95h0.9M117 677.95h0.9M134 674.95h0.9M125 680.95h0.9M118.5 680.95h0.9M104.5 679.45h0.9M127.5 680.95h0.9M117 679.45h0.9M142.5 678.95h0.9M139 676.95h0.9M125.5 677.45h0.9M63 682.45h0.9M118.5 684.95h0.9M119 678.45h0.9M116.5 683.95h0.9M102 684.95h0.9M147 675.95h0.9M66 679.45h0.9M134.5 677.45h0.9M115 669.95h0.9M129.5 674.95h0.9M72.5 679.95h0.9M135 677.95h0.9M132.5 679.45h0.9M148.5 676.95h0.9M123.5 682.95h0.9M129 679.45h0.9M132.5 675.45h0.9M130.5 683.45h0.9M127.5 680.45h0.9M109 679.45h0.9M138 677.45h0.9M102 681.45h0.9M134.5 683.45h0.9M125 681.95h0.9M116.5 676.95h0.9M56 685.95h0.9M135 675.45h0.9M91.5 686.45h0.9M120.5 682.95h0.9M130 682.45h0.9M116.5 674.95h0.9M66 689.45h0.9M141 679.95h0.9M121 675.95h0.9M143.5 678.45h0.9M143.5 673.95h0.9M137.5 677.95h0.9M121.5 678.95h0.9M135 687.45h0.9M128.5 677.95h0.9M76.5 682.95h0.9M128.5 679.45h0.9M119.5 674.45h0.9M103 679.45h0.9M115 680.45h0.9M108 686.95h0.9M132 679.95h0.9M131.5 673.95h0.9M106 680.45h0.9M116.5 681.45h0.9M142 675.45h0.9M78 681.45h0.9M60 679.95h0.9M114.5 677.45h0.9M123 677.95h0.9M130.5 682.45h0.9M122 676.95h0.9M129.5 678.45h0.9M75.5 676.45h0.9M130.5 673.95h0.9M58.5 684.95h0.9M117.5 679.95h0.9M104.5 679.95h0.9M118 681.95h0.9M129.5 674.45h0.9M141.5 678.95h0.9M122.5 682.95h0.9M139.5 678.45h0.9M89 685.95h0.9M110.5 675.95h0.9M122.5 681.45h0.9M107.5 680.45h0.9M124.5 668.95h0.9M121.5 679.45h0.9M148 676.95h0.9M129.5 675.95h0.9M110 684.45h0.9M74.5 687.45h0.9M130.5 679.45h0.9M134.5 679.95h0.9M126.5 714.45h0.9M103.5 696.95h0.9M130.5 695.45h0.9M117 700.45h0.9M136.5 708.95h0.9M117.5 698.45h0.9M144.5 699.95h0.9M114 713.45h0.9M125 725.95h0.9M125.5 708.45h0.9M140 723.95h0.9M118.5 699.95h0.9M137 694.45h0.9M110 708.95h0.9M135.5 724.45h0.9M152 720.45h0.9M127.5 709.95h0.9M117.5 698.95h0.9M121 725.45h0.9M110.5 716.95h0.9M132.5 699.45h0.9M138 708.45h0.9M140.5 696.95h0.9M141.5 726.45h0.9M136 729.95h0.9M123 705.95h0.9M135 710.45h0.9M108.5 729.95h0.9M141 717.95h0.9M103 727.95h0.9M137.5 705.45h0.9M114.5 715.45h0.9" stroke="#b01818" stroke-width="0.9" opacity="1.0"/>
</g>
<line x1="102.2" y1="635.9" x2="102.2" y2="730.6" stroke="#888" stroke-width="0.8"/>
<line x1="44.2" y1="693.0" x2="191.0" y2="693.0" stroke="#888" stroke-width="0.8"/>
<rect x="44.2" y="635.9" width="146.8" height="94.70000000000005" fill="none" stroke="#555" stroke-width="1.2"/>
<path d="M46.2 730.6v3.2M44.2 728.5h-3.2M50.8 730.6v3.2M44.2 725.6h-3.2M54.3 730.6v3.2M44.2 723.3h-3.2M57.2 730.6v3.2M44.2 721.5h-3.2M59.7 730.6v3.2M44.2 719.9h-3.2M61.8 730.6v3.2M44.2 718.6h-3.2M63.7 730.6v3.2M44.2 717.4h-3.2M65.4 730.6v5M44.2 716.3h-5M76.5 730.6v3.2M44.2 709.3h-3.2M83.0 730.6v3.2M44.2 705.2h-3.2M87.6 730.6v3.2M44.2 702.3h-3.2M91.1 730.6v3.2M44.2 700.0h-3.2M94.0 730.6v3.2M44.2 698.2h-3.2M96.5 730.6v3.2M44.2 696.6h-3.2M98.6 730.6v3.2M44.2 695.3h-3.2M100.5 730.6v3.2M44.2 694.1h-3.2M102.2 730.6v5M44.2 693.0h-5M113.3 730.6v3.2M44.2 686.0h-3.2M119.8 730.6v3.2M44.2 681.9h-3.2M124.4 730.6v3.2M44.2 679.0h-3.2M127.9 730.6v3.2M44.2 676.7h-3.2M130.8 730.6v3.2M44.2 674.9h-3.2M133.3 730.6v3.2M44.2 673.3h-3.2M135.4 730.6v3.2M44.2 672.0h-3.2M137.3 730.6v3.2M44.2 670.8h-3.2M139.0 730.6v5M44.2 669.7h-5M150.1 730.6v3.2M44.2 662.7h-3.2M156.6 730.6v3.2M44.2 658.6h-3.2M161.2 730.6v3.2M44.2 655.7h-3.2M164.7 730.6v3.2M44.2 653.4h-3.2M167.6 730.6v3.2M44.2 651.6h-3.2M170.1 730.6v3.2M44.2 650.0h-3.2M172.2 730.6v3.2M44.2 648.7h-3.2M174.1 730.6v3.2M44.2 647.5h-3.2M175.8 730.6v5M44.2 646.4h-5M186.9 730.6v3.2M44.2 639.4h-3.2" stroke="#222" stroke-width="0.95" fill="none"/>
<text x="60.0" y="745.4" font-size="8" fill="#1a1a1a"><tspan textLength="5.8" lengthAdjust="spacingAndGlyphs">10</tspan><tspan dy="-4.4" font-size="6.2">2</tspan></text>
<text transform="translate(38.2,722.3) rotate(-90)" font-size="8" fill="#1a1a1a"><tspan textLength="5.8" lengthAdjust="spacingAndGlyphs">10</tspan><tspan dy="-4.8" font-size="6.2">2</tspan></text>
<text x="96.8" y="745.4" font-size="8" fill="#1a1a1a"><tspan textLength="5.8" lengthAdjust="spacingAndGlyphs">10</tspan><tspan dy="-4.4" font-size="6.2">3</tspan></text>
<text transform="translate(38.2,699.0) rotate(-90)" font-size="8" fill="#1a1a1a"><tspan textLength="5.8" lengthAdjust="spacingAndGlyphs">10</tspan><tspan dy="-4.8" font-size="6.2">3</tspan></text>
<text x="133.6" y="745.4" font-size="8" fill="#1a1a1a"><tspan textLength="5.8" lengthAdjust="spacingAndGlyphs">10</tspan><tspan dy="-4.4" font-size="6.2">4</tspan></text>
<text transform="translate(38.2,675.7) rotate(-90)" font-size="8" fill="#1a1a1a"><tspan textLength="5.8" lengthAdjust="spacingAndGlyphs">10</tspan><tspan dy="-4.8" font-size="6.2">4</tspan></text>
<text x="170.4" y="745.4" font-size="8" fill="#1a1a1a"><tspan textLength="5.8" lengthAdjust="spacingAndGlyphs">10</tspan><tspan dy="-4.4" font-size="6.2">5</tspan></text>
<text transform="translate(38.2,652.4) rotate(-90)" font-size="8" fill="#1a1a1a"><tspan textLength="5.8" lengthAdjust="spacingAndGlyphs">10</tspan><tspan dy="-4.8" font-size="6.2">5</tspan></text>
<text x="83.2" y="672.6" font-size="7.6" text-anchor="start" fill="#222" textLength="9.5" lengthAdjust="spacingAndGlyphs">Q1</text>
<text x="150.3" y="672.6" font-size="7.6" text-anchor="start" fill="#222" textLength="9.7" lengthAdjust="spacingAndGlyphs">Q2</text>
<text x="83.2" y="706.0" font-size="7.6" text-anchor="start" fill="#222" textLength="9.5" lengthAdjust="spacingAndGlyphs">Q3</text>
<text x="150.3" y="715.3" font-size="7.6" text-anchor="start" fill="#222" textLength="9.7" lengthAdjust="spacingAndGlyphs">Q4</text>
<text x="165.7" y="665.6" font-size="10" text-anchor="start" fill="#333" textLength="22" lengthAdjust="spacingAndGlyphs">8.1%</text>
<text x="165.7" y="713.8" font-size="10" text-anchor="start" fill="#333" textLength="22" lengthAdjust="spacingAndGlyphs">8.7%</text>
<path d="M20.4,751.8V676 M20.4,751.8H95" stroke="#111" stroke-width="1.3" fill="none"/>
<path d="M17.6,677.5 L20.4,671.5 L23.2,677.5z M94,749 L100,751.8 L94,754.6z" fill="#111"/>
<text transform="translate(14.4,713) rotate(-90)" font-size="11.8" text-anchor="middle" fill="#111" font-weight="bold" textLength="25.7" lengthAdjust="spacingAndGlyphs">PE-A</text>
<text x="43.3" y="766.6" font-size="11.2" text-anchor="start" fill="#111" font-weight="bold" textLength="35.4" lengthAdjust="spacingAndGlyphs">FITC-A</text>
<line x1="251.4" y1="528.5" x2="251.4" y2="668.2" stroke="#bfbfbf" stroke-width="1"/>
<line x1="251.4" y1="668.2" x2="374.5" y2="668.2" stroke="#bfbfbf" stroke-width="1"/>
<line x1="313.2" y1="668.2" x2="313.2" y2="671.2" stroke="#bfbfbf" stroke-width="1"/>
<line x1="374.3" y1="668.2" x2="374.3" y2="671.2" stroke="#bfbfbf" stroke-width="1"/>
<line x1="248.4" y1="668.2" x2="251.4" y2="668.2" stroke="#bfbfbf" stroke-width="1"/>
<text x="243.6" y="671.0" font-size="8.4" text-anchor="end" fill="#595959" textLength="4.6" lengthAdjust="spacingAndGlyphs">0</text>
<line x1="248.4" y1="652.8" x2="251.4" y2="652.8" stroke="#bfbfbf" stroke-width="1"/>
<text x="243.6" y="655.6" font-size="8.4" text-anchor="end" fill="#595959" textLength="4.6" lengthAdjust="spacingAndGlyphs">2</text>
<line x1="248.4" y1="637.4" x2="251.4" y2="637.4" stroke="#bfbfbf" stroke-width="1"/>
<text x="243.6" y="640.2" font-size="8.4" text-anchor="end" fill="#595959" textLength="4.6" lengthAdjust="spacingAndGlyphs">4</text>
<line x1="248.4" y1="621.9" x2="251.4" y2="621.9" stroke="#bfbfbf" stroke-width="1"/>
<text x="243.6" y="624.7" font-size="8.4" text-anchor="end" fill="#595959" textLength="4.6" lengthAdjust="spacingAndGlyphs">6</text>
<line x1="248.4" y1="606.5" x2="251.4" y2="606.5" stroke="#bfbfbf" stroke-width="1"/>
<text x="243.6" y="609.3" font-size="8.4" text-anchor="end" fill="#595959" textLength="4.6" lengthAdjust="spacingAndGlyphs">8</text>
<line x1="248.4" y1="591.1" x2="251.4" y2="591.1" stroke="#bfbfbf" stroke-width="1"/>
<text x="243.6" y="593.9" font-size="8.4" text-anchor="end" fill="#595959" textLength="9.2" lengthAdjust="spacingAndGlyphs">10</text>
<line x1="248.4" y1="575.7" x2="251.4" y2="575.7" stroke="#bfbfbf" stroke-width="1"/>
<text x="243.6" y="578.5" font-size="8.4" text-anchor="end" fill="#595959" textLength="9.2" lengthAdjust="spacingAndGlyphs">12</text>
<line x1="248.4" y1="560.3" x2="251.4" y2="560.3" stroke="#bfbfbf" stroke-width="1"/>
<text x="243.6" y="563.1" font-size="8.4" text-anchor="end" fill="#595959" textLength="9.2" lengthAdjust="spacingAndGlyphs">14</text>
<line x1="248.4" y1="544.8" x2="251.4" y2="544.8" stroke="#bfbfbf" stroke-width="1"/>
<text x="243.6" y="547.6" font-size="8.4" text-anchor="end" fill="#595959" textLength="9.2" lengthAdjust="spacingAndGlyphs">16</text>
<line x1="248.4" y1="529.4" x2="251.4" y2="529.4" stroke="#bfbfbf" stroke-width="1"/>
<text x="243.6" y="532.2" font-size="8.4" text-anchor="end" fill="#595959" textLength="9.2" lengthAdjust="spacingAndGlyphs">18</text>
<rect x="272.7" y="563.3" width="19.1" height="104.9" fill="#5b9bd5"/>
<path d="M282.2,561.8V564.9M280.2,561.8h4M280.2,564.9h4" stroke="#444" stroke-width="0.8" fill="none"/>
<rect x="334" y="542.8" width="18.6" height="125.4" fill="#5b9bd5"/>
<path d="M343.3,536.6V548.9M341.3,536.6h4M341.3,548.9h4" stroke="#444" stroke-width="0.8" fill="none"/>
<text x="343.5" y="531.5" font-size="10" text-anchor="middle" fill="#222">*</text>
<text transform="translate(227.6,599.3) rotate(-90)" font-size="11.3" text-anchor="middle" fill="#222" font-weight="bold" textLength="104" lengthAdjust="spacingAndGlyphs">% of apoptotic cells</text>
<text x="282.6" y="682" font-size="9.4" text-anchor="middle" fill="#404040">50 nM Scr-</text>
<text x="282.6" y="692" font-size="9.4" text-anchor="middle" fill="#404040">tRiMetF31</text>
<text x="343.2" y="682" font-size="9.4" text-anchor="middle" fill="#404040">50 nM WT-</text>
<text x="343.2" y="692" font-size="9.4" text-anchor="middle" fill="#404040">tRiMetF31</text>
<text x="312.6" y="707.3" font-size="12" text-anchor="middle" fill="#222" font-weight="bold" textLength="49.3" lengthAdjust="spacingAndGlyphs">HCC1806</text>
<text x="354.3" y="12.0" font-size="15" text-anchor="start" fill="#000" font-weight="bold">D</text>
<path d="M433.6,153.3 L433.6,153.3 433.8,153.3 434.1,152.9 434.3,152.8 434.6,152.7 434.8,152.6 435.1,152.5 435.3,152.4 435.6,152.3 435.8,152.2 436.1,152.1 436.3,152.1 436.6,152.0 436.8,152.0 437.1,152.0 437.3,152.0 437.6,151.9 437.8,151.9 438.1,151.9 438.3,151.9 438.6,151.9 438.8,151.9 439.1,152.0 439.3,152.0 439.5,152.0 439.8,152.0 440.0,152.0 440.3,152.0 440.5,152.0 440.8,152.0 441.0,152.0 441.3,152.0 441.5,152.0 441.8,152.0 442.0,152.0 442.3,152.0 442.5,152.0 442.8,152.0 443.0,152.0 443.3,152.0 443.5,152.0 443.8,152.0 444.0,152.0 444.3,152.0 444.5,152.0 444.8,152.0 445.0,152.0 445.3,152.0 445.5,152.0 445.8,151.9 446.0,151.9 446.3,151.9 446.5,151.9 446.8,151.9 447.0,151.9 447.3,151.9 447.5,151.8 447.8,151.8 448.0,151.8 448.3,151.8 448.5,151.8 448.8,151.7 449.0,151.7 449.3,151.7 449.5,151.7 449.8,151.7 450.0,151.6 450.3,151.6 450.5,151.6 450.8,151.6 451.0,151.6 451.3,151.6 451.5,151.6 451.8,151.6 452.0,151.5 452.2,151.5 452.5,151.5 452.7,151.5 453.0,151.5 453.2,151.5 453.5,151.6 453.7,151.6 454.0,151.6 454.2,151.6 454.5,151.6 454.7,151.6 455.0,151.6 455.2,151.7 455.5,151.7 455.7,151.7 456.0,151.7 456.2,151.8 456.5,151.8 456.7,151.8 457.0,151.9 457.2,151.9 457.5,151.9 457.7,151.9 458.0,152.0 458.2,152.0 458.5,152.0 458.7,152.1 459.0,152.1 459.2,152.1 459.5,152.2 459.7,152.2 460.0,152.2 460.2,152.2 460.5,152.3 460.7,152.3 461.0,152.3 461.2,152.3 461.5,152.3 461.7,152.4 462.0,152.4 462.2,152.4 462.5,152.4 462.7,152.4 463.0,152.4 463.2,152.4 463.5,152.5 463.7,152.5 464.0,152.5 464.2,152.5 464.4,152.5 464.7,152.5 464.9,152.5 465.2,152.5 465.4,152.5 465.7,152.5 465.9,152.5 466.2,152.6 466.4,152.6 466.7,152.6 466.9,152.6 467.2,152.6 467.4,152.6 467.7,152.6 467.9,152.6 468.2,152.6 468.4,152.6 468.7,152.6 468.9,152.6 469.2,152.6 469.4,152.6 469.7,152.6 469.9,152.6 470.2,152.6 470.4,152.6 470.7,152.6 470.9,152.6 471.2,152.6 471.4,152.6 471.7,152.6 471.9,152.7 472.2,152.7 472.4,152.7 472.7,152.7 472.9,152.7 473.2,152.7 473.4,152.7 473.7,152.7 473.9,152.7 474.2,152.7 474.4,152.7 474.7,152.7 474.9,152.7 475.2,152.7 475.4,152.7 475.7,152.7 475.9,152.7 476.2,152.7 476.4,152.7 476.6,152.7 476.9,152.7 477.1,152.7 477.4,152.7 477.6,152.7 477.9,152.7 478.1,152.7 478.4,152.7 478.6,152.7 478.9,152.7 479.1,152.7 479.4,152.8 479.6,152.8 479.9,152.8 480.1,152.8 480.4,152.8 480.6,152.8 480.9,152.8 481.1,152.8 481.4,152.8 481.6,152.8 481.9,152.8 482.1,152.8 482.4,152.8 482.6,152.8 482.9,152.8 483.1,152.8 483.4,152.8 483.6,152.8 483.9,152.8 484.1,152.8 484.4,152.8 484.6,152.8 484.9,152.8 485.1,152.8 485.4,152.8 485.6,152.8 485.9,152.8 486.1,152.8 486.4,152.8 486.6,152.8 486.9,152.8 487.1,152.8 487.4,152.8 487.6,152.8 487.9,152.8 488.1,152.8 488.4,152.9 488.6,152.9 488.9,152.9 489.1,152.9 489.3,152.9 489.6,152.9 489.8,152.9 490.1,152.9 490.3,152.9 490.6,152.9 490.8,152.9 491.1,152.9 491.3,152.9 491.6,152.9 491.8,152.9 492.1,152.9 492.3,152.9 492.6,152.9 492.8,152.9 493.1,152.9 493.3,152.9 493.6,152.9 493.8,152.9 494.1,152.9 494.3,152.9 494.6,152.9 494.8,152.9 495.1,152.9 495.3,152.9 495.6,152.9 495.8,152.9 496.1,152.9 496.3,152.9 496.6,152.9 496.8,152.9 497.1,152.9 497.3,152.9 497.6,152.9 497.8,152.9 498.1,152.9 498.3,152.9 498.6,152.9 498.8,152.9 499.1,152.9 499.3,152.9 499.6,153.0 499.8,153.0 500.1,153.0 500.3,153.0 500.6,153.0 500.8,153.0 501.1,153.0 501.3,153.0 501.6,153.0 501.8,153.0 502.0,153.0 502.3,153.0 502.5,153.0 502.8,153.0 503.0,153.0 503.3,153.0 503.5,153.0 503.8,153.0 504.0,153.0 504.3,153.0 504.5,153.0 504.8,153.0 505.0,153.0 505.3,153.0 505.5,153.0 505.8,153.0 506.0,153.0 506.3,153.0 506.5,153.0 506.8,153.0 507.0,153.0 507.3,153.0 507.5,153.0 507.8,153.0 508.0,153.0 508.3,153.0 508.5,153.0 508.8,153.0 509.0,153.0 509.3,153.0 509.5,153.0 509.8,153.0 510.0,153.0 510.3,153.0 510.5,153.0 510.8,153.0 511.0,153.0 511.3,153.0 511.5,153.0 511.8,153.0 512.0,153.0 512.3,153.0 512.5,153.0 512.8,153.0 513.0,153.0 513.3,153.0 513.5,153.0 513.8,153.0 514.0,153.0 L514.0,153.3 z" fill="#b4ecb4" stroke="#5a5" stroke-width="0.5"/>
<path d="M411.7,153.3 L411.7,153.2 411.9,153.2 412.2,153.1 412.4,152.9 412.7,152.4 412.9,151.6 413.2,150.2 413.4,148.1 413.7,145.4 413.9,142.7 414.2,140.5 414.4,139.1 414.6,138.3 414.9,137.9 415.1,137.7 415.4,137.6 415.6,137.5 415.9,137.5 416.1,137.5 416.4,137.5 416.6,137.5 416.9,137.5 417.1,137.5 417.4,137.5 417.6,137.5 417.9,137.5 418.1,137.5 418.4,137.5 418.6,137.5 418.9,137.5 419.1,137.5 419.4,137.5 419.6,137.5 419.9,137.5 420.1,137.5 420.4,137.5 420.6,137.5 420.9,137.5 421.1,137.5 421.4,137.5 421.6,137.5 421.9,137.5 422.1,137.5 422.4,137.5 422.6,137.5 422.9,137.5 423.1,137.5 423.4,137.5 423.6,137.5 423.9,137.5 424.1,137.5 424.4,137.5 424.6,137.5 424.9,137.5 425.1,137.5 425.4,137.5 425.6,137.5 425.9,137.5 426.1,137.5 426.4,137.5 426.6,137.5 426.9,137.5 427.1,137.5 427.3,137.5 427.6,137.5 427.8,137.5 428.1,137.5 428.3,137.5 428.6,137.5 428.8,137.5 429.1,137.5 429.3,137.6 429.6,137.6 429.8,137.8 430.1,138.0 430.3,138.4 430.6,139.0 430.8,140.0 431.1,141.4 431.3,143.2 431.6,145.4 431.8,147.5 432.1,149.4 432.3,150.8 432.6,151.8 432.8,152.4 433.1,152.8 433.3,153.0 433.6,153.1 L433.6,153.3 z" fill="url(#hatch)" stroke="#55a" stroke-width="0.5"/>
<path d="M409.3,153.3 L409.3,152.1 409.4,151.4 409.6,150.5 409.7,149.2 409.8,147.4 409.9,145.1 410.1,142.1 410.2,138.3 410.3,133.6 410.4,128.0 410.6,121.6 410.7,114.4 410.8,106.5 410.9,98.3 411.1,89.9 411.2,81.9 411.3,74.6 411.4,68.5 411.6,63.7 411.7,60.8 411.8,59.8 411.9,60.8 412.1,63.7 412.2,68.5 412.3,74.6 412.4,81.9 412.6,89.9 412.7,98.3 412.8,106.5 412.9,114.4 413.1,121.6 413.2,128.0 413.3,133.6 413.4,138.3 413.6,142.1 413.7,145.1 413.8,147.4 413.9,149.2 414.1,150.5 414.2,151.4 414.3,152.1 L414.3,153.3 z" fill="#ee0f0f" stroke="#700" stroke-width="0.5"/>
<path d="M429.9,153.3 L429.9,153.1 430.1,153.1 430.2,153.0 430.3,152.8 430.4,152.6 430.6,152.4 430.7,152.1 430.8,151.8 430.9,151.3 431.1,150.7 431.2,150.1 431.3,149.3 431.4,148.5 431.6,147.5 431.7,146.5 431.8,145.4 431.9,144.3 432.1,143.2 432.2,142.1 432.3,141.1 432.4,140.2 432.6,139.5 432.7,138.9 432.8,138.6 432.9,138.5 433.1,138.6 433.2,138.9 433.3,139.5 433.4,140.2 433.5,141.1 433.7,142.1 433.8,143.2 433.9,144.3 434.0,145.4 434.2,146.5 434.3,147.5 434.4,148.5 434.5,149.3 434.7,150.1 434.8,150.7 434.9,151.3 435.0,151.8 435.2,152.1 435.3,152.4 435.4,152.6 435.5,152.8 435.7,153.0 435.8,153.1 435.9,153.1 L435.9,153.3 z" fill="#ee0f0f" stroke="#700" stroke-width="0.5"/>
<polyline points="389.5,153.0 389.7,152.7 390.0,152.7 390.2,152.8 390.5,152.9 390.7,152.6 391.0,152.6 391.2,152.8 391.5,152.8 391.7,152.9 392.0,153.0 392.2,152.9 392.5,152.7 392.7,153.0 393.0,152.6 393.2,152.9 393.5,152.9 393.7,153.0 394.0,152.5 394.2,152.7 394.5,152.6 394.7,152.7 395.0,153.0 395.2,152.9 395.5,152.8 395.7,153.0 396.0,152.6 396.2,152.9 396.5,153.0 396.7,152.6 397.0,153.0 397.2,152.6 397.5,152.8 397.7,152.8 398.0,152.9 398.2,152.8 398.5,152.9 398.7,153.0 399.0,152.6 399.2,152.9 399.5,152.6 399.7,152.9 400.0,152.5 400.2,152.6 400.5,152.7 400.7,152.6 401.0,152.7 401.2,152.7 401.5,153.0 401.7,152.8 401.9,152.6 402.2,152.9 402.4,152.6 402.7,152.6 402.9,152.8 403.2,152.9 403.4,152.8 403.7,152.8 403.9,152.5 404.2,152.8 404.4,153.0 404.7,153.0 404.9,152.7 405.2,152.5 405.4,152.8 405.7,152.8 405.9,152.8 406.2,152.7 406.4,152.9 406.7,152.7 406.9,152.8 407.2,152.7 407.4,152.9 407.7,153.0 407.9,152.9 408.2,152.6 408.4,152.9 408.7,152.7 408.9,152.8 409.2,152.8 409.4,152.3 409.7,150.8 409.9,148.1 410.2,142.8 410.4,132.8 410.7,117.7 410.9,97.4 411.2,74.6 411.4,54.4 411.7,41.3 411.9,40.1 412.2,50.8 412.4,69.8 412.7,92.3 412.9,112.5 413.2,127.4 413.4,135.7 413.7,139.6 413.9,140.3 414.2,138.9 414.4,138.1 414.6,137.7 414.9,137.0 415.1,137.6 415.4,137.3 415.6,137.2 415.9,137.0 416.1,137.3 416.4,137.3 416.6,137.1 416.9,136.6 417.1,136.5 417.4,136.7 417.6,137.0 417.9,137.2 418.1,136.5 418.4,136.9 418.6,136.7 418.9,137.4 419.1,137.2 419.4,136.6 419.6,136.7 419.9,136.6 420.1,136.8 420.4,137.0 420.6,136.9 420.9,136.6 421.1,137.1 421.4,136.9 421.6,137.2 421.9,136.7 422.1,137.4 422.4,136.8 422.6,136.5 422.9,137.4 423.1,136.9 423.4,136.8 423.6,136.6 423.9,136.9 424.1,137.2 424.4,137.0 424.6,136.5 424.9,136.6 425.1,137.3 425.4,137.3 425.6,137.3 425.9,137.4 426.1,137.0 426.4,137.3 426.6,136.6 426.9,136.8 427.1,137.3 427.3,136.9 427.6,137.1 427.8,137.0 428.1,137.2 428.3,137.3 428.6,137.2 428.8,137.1 429.1,136.7 429.3,136.9 429.6,137.2 429.8,136.5 430.1,136.1 430.3,135.7 430.6,135.1 430.8,134.9 431.1,133.4 431.3,132.4 431.6,130.2 431.8,128.4 432.1,125.8 432.3,123.7 432.6,121.7 432.8,121.1 433.1,121.8 433.3,123.6 433.6,126.7 433.8,130.3 434.1,134.6 434.3,138.5 434.6,142.1 434.8,144.9 435.1,147.6 435.3,148.9 435.6,150.1 435.8,150.6 436.1,150.8 436.3,151.4 436.6,151.3 436.8,151.4 437.1,151.4 437.3,151.7 437.6,151.3 437.8,151.2 438.1,151.5 438.3,151.5 438.6,151.2 438.8,151.6 439.1,151.7 439.3,151.7 439.5,151.3 439.8,151.3 440.0,151.5 440.3,151.4 440.5,151.7 440.8,151.4 441.0,151.5 441.3,151.5 441.5,151.5 441.8,151.5 442.0,151.6 442.3,151.7 442.5,151.5 442.8,151.6 443.0,151.4 443.3,151.3 443.5,151.4 443.8,151.5 444.0,151.6 444.3,151.5 444.5,151.5 444.8,151.4 445.0,151.2 445.3,151.7 445.5,151.5 445.8,151.4 446.0,151.3 446.3,151.2 446.5,151.2 446.8,151.3 447.0,151.2 447.3,151.3 447.5,151.1 447.8,151.2 448.0,151.2 448.3,151.4 448.5,151.0 448.8,151.3 449.0,151.2 449.3,151.0 449.5,150.9 449.8,150.9 450.0,151.4 450.3,151.2 450.5,151.2 450.8,151.1 451.0,151.3 451.3,151.0 451.5,151.3 451.8,151.1 452.0,150.8 452.2,150.9 452.5,151.0 452.7,151.2 453.0,150.8 453.2,150.9 453.5,151.2 453.7,151.1 454.0,151.0 454.2,151.0 454.5,151.2 454.7,150.9 455.0,151.2 455.2,151.3 455.5,151.0 455.7,151.4 456.0,151.1 456.2,151.4 456.5,151.2 456.7,151.4 457.0,151.4 457.2,151.1 457.5,151.4 457.7,151.5 458.0,151.4 458.2,151.6 458.5,151.7 458.7,151.6 459.0,151.7 459.2,151.8 459.5,151.4 459.7,151.9 460.0,151.5 460.2,151.5 460.5,151.6 460.7,152.0 461.0,151.8 461.2,152.0 461.5,151.8 461.7,151.7 462.0,152.0 462.2,152.1 462.5,151.9 462.7,152.1 463.0,152.0 463.2,152.0 463.5,151.7 463.7,152.0 464.0,152.2 464.2,151.8 464.4,151.8 464.7,152.0 464.9,152.2 465.2,152.2 465.4,152.1 465.7,152.0 465.9,152.2 466.2,151.9 466.4,151.9 466.7,151.8 466.9,151.9 467.2,152.3 467.4,152.0 467.7,152.3 467.9,151.9 468.2,152.0 468.4,151.9 468.7,152.2 468.9,152.3 469.2,151.9 469.4,152.0 469.7,152.0 469.9,152.1 470.2,152.0 470.4,152.2 470.7,152.2 470.9,152.2 471.2,152.2 471.4,152.1 471.7,151.9 471.9,152.4 472.2,152.4 472.4,152.1 472.7,152.1 472.9,152.3 473.2,152.3 473.4,152.4 473.7,152.4 473.9,152.2 474.2,152.1 474.4,152.1 474.7,152.4 474.9,152.4 475.2,152.0 475.4,152.2 475.7,152.2 475.9,152.1 476.2,152.1 476.4,152.2 476.6,152.4 476.9,152.0 477.1,152.4 477.4,152.4 477.6,152.3 477.9,152.2 478.1,152.2 478.4,152.4 478.6,152.1 478.9,152.2 479.1,152.4 479.4,152.1 479.6,152.1 479.9,152.0 480.1,152.2 480.4,152.4 480.6,152.1 480.9,152.0 481.1,152.2 481.4,152.1 481.6,152.0 481.9,152.3 482.1,152.0 482.4,152.0 482.6,152.1 482.9,152.5 483.1,152.4 483.4,152.2 483.6,152.2 483.9,152.2 484.1,152.2 484.4,152.5 484.6,152.1 484.9,152.3 485.1,152.1 485.4,152.5 485.6,152.1 485.9,152.3 486.1,152.2 486.4,152.2 486.6,152.1 486.9,152.4 487.1,152.5 487.4,152.4 487.6,152.5 487.9,152.3 488.1,152.2 488.4,152.4 488.6,152.5 488.9,152.6 489.1,152.4 489.3,152.3 489.6,152.6 489.8,152.3 490.1,152.5 490.3,152.6 490.6,152.1 490.8,152.3 491.1,152.2 491.3,152.4 491.6,152.6 491.8,152.5 492.1,152.4 492.3,152.3 492.6,152.2 492.8,152.2 493.1,152.3 493.3,152.5 493.6,152.4 493.8,152.5 494.1,152.4 494.3,152.5 494.6,152.4 494.8,152.4 495.1,152.6 495.3,152.2 495.6,152.4 495.8,152.2 496.1,152.3 496.3,152.3 496.6,152.2 496.8,152.5 497.1,152.5 497.3,152.7 497.6,152.3 497.8,152.4 498.1,152.4 498.3,152.2 498.6,152.6 498.8,152.6 499.1,152.3 499.3,152.3 499.6,152.4 499.8,152.7 500.1,152.5 500.3,152.3 500.6,152.4 500.8,152.5 501.1,152.5 501.3,152.4 501.6,152.4 501.8,152.4 502.0,152.3 502.3,152.3 502.5,152.5 502.8,152.6 503.0,152.3 503.3,152.3 503.5,152.2 503.8,152.6 504.0,152.3 504.3,152.3 504.5,152.7 504.8,152.6 505.0,152.4 505.3,152.7 505.5,152.3 505.8,152.6 506.0,152.4 506.3,152.6 506.5,152.6 506.8,152.6 507.0,152.5 507.3,152.4 507.5,152.6 507.8,152.4 508.0,152.6 508.3,152.4 508.5,152.6 508.8,152.7 509.0,152.7 509.3,152.7 509.5,152.4 509.8,152.6 510.0,152.7 510.3,152.3 510.5,152.4 510.8,152.8 511.0,152.4 511.3,152.5 511.5,152.5 511.8,152.5 512.0,152.3 512.3,152.6 512.5,152.5 512.8,152.5 513.0,152.6 513.3,152.6 513.5,152.4 513.8,152.5 514.0,152.6" fill="none" stroke="#1a1a1a" stroke-width="0.75"/>
<line x1="389.5" y1="24.7" x2="389.5" y2="153.3" stroke="#555" stroke-width="0.9"/>
<line x1="389.5" y1="153.3" x2="514.0" y2="153.3" stroke="#555" stroke-width="0.9"/>
<path d="M384.5 153.3H389.5M386.9 146.9H389.5M386.9 140.4H389.5M386.9 134.0H389.5M384.5 127.5H389.5M386.9 121.1H389.5M386.9 114.7H389.5M386.9 108.2H389.5M384.5 101.8H389.5M386.9 95.3H389.5M386.9 88.9H389.5M386.9 82.5H389.5M384.5 76.0H389.5M386.9 69.6H389.5M386.9 63.1H389.5M386.9 56.7H389.5M384.5 50.3H389.5M386.9 43.8H389.5M386.9 37.4H389.5M386.9 30.9H389.5M384.5 24.5H389.5M389.5 153.3v5.3M394.5 153.3v2.6M399.5 153.3v2.6M404.4 153.3v2.6M409.4 153.3v2.6M414.4 153.3v5.3M419.4 153.3v2.6M424.4 153.3v2.6M429.3 153.3v2.6M434.3 153.3v2.6M439.3 153.3v5.3M444.3 153.3v2.6M449.3 153.3v2.6M454.2 153.3v2.6M459.2 153.3v2.6M464.2 153.3v5.3M469.2 153.3v2.6M474.2 153.3v2.6M479.1 153.3v2.6M484.1 153.3v2.6M489.1 153.3v5.3M494.1 153.3v2.6M499.1 153.3v2.6M504.0 153.3v2.6M509.0 153.3v2.6M514.0 153.3v5.3" stroke="#3a3a3a" stroke-width="0.85" fill="none"/>
<text transform="translate(382.4,154.1) rotate(-90)" font-size="10.2" text-anchor="middle" fill="#333" textLength="4.1" lengthAdjust="spacingAndGlyphs">0</text>
<text transform="translate(382.4,128.3) rotate(-90)" font-size="10.2" text-anchor="middle" fill="#333" textLength="12.299999999999999" lengthAdjust="spacingAndGlyphs">200</text>
<text transform="translate(382.4,102.6) rotate(-90)" font-size="10.2" text-anchor="middle" fill="#333" textLength="12.299999999999999" lengthAdjust="spacingAndGlyphs">400</text>
<text transform="translate(382.4,76.8) rotate(-90)" font-size="10.2" text-anchor="middle" fill="#333" textLength="12.299999999999999" lengthAdjust="spacingAndGlyphs">600</text>
<text transform="translate(382.4,51.1) rotate(-90)" font-size="10.2" text-anchor="middle" fill="#333" textLength="12.299999999999999" lengthAdjust="spacingAndGlyphs">800</text>
<text transform="translate(382.4,25.3) rotate(-90)" font-size="10.2" text-anchor="middle" fill="#333" textLength="16.4" lengthAdjust="spacingAndGlyphs">1000</text>
<text x="389.2" y="167.4" font-size="10.6" text-anchor="middle" fill="#333" textLength="4.4" lengthAdjust="spacingAndGlyphs">0</text>
<text x="414.1" y="167.4" font-size="10.6" text-anchor="middle" fill="#333" textLength="8.8" lengthAdjust="spacingAndGlyphs">50</text>
<text x="439.0" y="167.4" font-size="10.6" text-anchor="middle" fill="#333" textLength="13.200000000000001" lengthAdjust="spacingAndGlyphs">100</text>
<text x="463.9" y="167.4" font-size="10.6" text-anchor="middle" fill="#333" textLength="13.200000000000001" lengthAdjust="spacingAndGlyphs">150</text>
<text x="488.8" y="167.4" font-size="10.6" text-anchor="middle" fill="#333" textLength="13.200000000000001" lengthAdjust="spacingAndGlyphs">200</text>
<text x="513.7" y="167.4" font-size="10.6" text-anchor="middle" fill="#333" textLength="13.200000000000001" lengthAdjust="spacingAndGlyphs">250</text>
<path d="M409.5,158.1L411.8,154.3L414.1,158.1z" fill="#000"/>
<path d="M430.6,158.1L432.9,154.3L435.2,158.1z" fill="#000"/>
<g filter="url(#b3)"><rect x="463.1" y="28.5" width="10.5" height="48.5" fill="#b4b4bc"/><rect x="464.6" y="30.0" width="7.5" height="7.2" fill="#a8a8dc"/><rect x="464.6" y="39.3" width="7.5" height="7.4" fill="#a8f4a8"/><rect x="463.70000000000005" y="47.7" width="9.3" height="9.2" rx="4" fill="#ff0000"/><rect x="463.70000000000005" y="57.3" width="9.3" height="9.2" rx="4" fill="#ff0000"/><rect x="464.6" y="68.0" width="7.5" height="7.2" fill="#dcdcf4"/><text x="476.70000000000005" y="36.1" font-size="7.4" font-weight="bold" fill="#5050ff" textLength="18.5" lengthAdjust="spacingAndGlyphs">Debris</text><text x="476.70000000000005" y="45.7" font-size="7.4" font-weight="bold" fill="#5050ff" textLength="35.5" lengthAdjust="spacingAndGlyphs">Aggregates</text><text x="476.70000000000005" y="55.3" font-size="7.4" font-weight="bold" fill="#5050ff" textLength="9.5" lengthAdjust="spacingAndGlyphs">Dip</text><text x="488.20000000000005" y="55.3" font-size="7.4" fill="#8080ff" opacity="0.7">G1</text><text x="476.70000000000005" y="64.9" font-size="7.4" font-weight="bold" fill="#5050ff" textLength="9.5" lengthAdjust="spacingAndGlyphs">Dip</text><text x="488.20000000000005" y="64.9" font-size="7.4" fill="#8080ff" opacity="0.7">G2</text><text x="476.70000000000005" y="74.5" font-size="7.4" font-weight="bold" fill="#5050ff" textLength="9.5" lengthAdjust="spacingAndGlyphs">Dip</text><text x="488.20000000000005" y="74.5" font-size="7.4" fill="#8080ff" opacity="0.7">S</text></g>
<text x="419.6" y="105.3" font-size="9.7" text-anchor="start" fill="#222" textLength="96.4" lengthAdjust="spacingAndGlyphs">50 nM Scr-tRiMetF31/48 h</text>
<path d="M549.5,153.1 L549.5,152.3 549.6,152.4 549.8,152.5 549.9,152.6 550.0,152.7 550.1,152.7 550.3,152.8 550.4,152.8 550.5,152.9 550.6,152.9 550.8,152.9 550.9,153.0 551.0,153.0 551.1,153.0 551.3,153.0 551.4,153.0 551.5,153.0 551.6,153.0 551.8,153.1 551.9,153.1 552.0,153.1 552.1,153.1 552.3,153.1 552.4,153.1 552.5,153.1 552.6,153.1 552.8,153.1 552.9,153.1 553.0,153.1 553.1,153.1 553.3,153.1 553.4,153.1 553.5,153.1 553.6,153.1 553.8,153.1 553.9,153.1 554.0,153.1 554.1,153.1 554.3,153.1 554.4,153.1 L554.4,153.1 z" fill="url(#hatch)" stroke="#55a" stroke-width="0.4"/>
<path d="M592.9,153.1 L592.9,153.1 593.1,153.1 593.4,152.6 593.6,152.5 593.9,152.3 594.1,152.2 594.4,152.0 594.6,151.8 594.9,151.7 595.1,151.5 595.4,151.4 595.6,151.3 595.9,151.2 596.1,151.2 596.4,151.1 596.7,151.1 596.9,151.1 597.2,151.1 597.4,151.1 597.7,151.1 597.9,151.1 598.2,151.1 598.4,151.1 598.7,151.1 598.9,151.1 599.2,151.1 599.4,151.1 599.7,151.1 599.9,151.1 600.2,151.2 600.4,151.2 600.7,151.2 600.9,151.2 601.2,151.2 601.4,151.2 601.7,151.2 601.9,151.2 602.2,151.2 602.4,151.2 602.7,151.2 602.9,151.2 603.2,151.2 603.4,151.2 603.7,151.2 603.9,151.2 604.2,151.2 604.4,151.2 604.7,151.2 604.9,151.1 605.2,151.1 605.4,151.1 605.7,151.1 605.9,151.1 606.2,151.0 606.4,151.0 606.7,151.0 606.9,151.0 607.2,150.9 607.4,150.9 607.7,150.9 607.9,150.8 608.2,150.8 608.4,150.8 608.7,150.7 608.9,150.7 609.2,150.7 609.4,150.6 609.7,150.6 609.9,150.6 610.2,150.5 610.4,150.5 610.7,150.5 610.9,150.5 611.2,150.4 611.4,150.4 611.7,150.4 611.9,150.4 612.2,150.4 612.5,150.4 612.7,150.3 613.0,150.3 613.2,150.3 613.5,150.4 613.7,150.4 614.0,150.4 614.2,150.4 614.5,150.4 614.7,150.4 615.0,150.5 615.2,150.5 615.5,150.5 615.7,150.6 616.0,150.6 616.2,150.7 616.5,150.7 616.7,150.8 617.0,150.8 617.2,150.9 617.5,150.9 617.7,151.0 618.0,151.0 618.2,151.1 618.5,151.1 618.7,151.2 619.0,151.2 619.2,151.3 619.5,151.3 619.7,151.4 620.0,151.4 620.2,151.4 620.5,151.5 620.7,151.5 621.0,151.6 621.2,151.6 621.5,151.6 621.7,151.7 622.0,151.7 622.2,151.7 622.5,151.8 622.7,151.8 623.0,151.8 623.2,151.8 623.5,151.8 623.7,151.9 624.0,151.9 624.2,151.9 624.5,151.9 624.7,151.9 625.0,151.9 625.2,152.0 625.5,152.0 625.7,152.0 626.0,152.0 626.2,152.0 626.5,152.0 626.7,152.0 627.0,152.0 627.2,152.0 627.5,152.0 627.7,152.0 628.0,152.1 628.3,152.1 628.5,152.1 628.8,152.1 629.0,152.1 629.3,152.1 629.5,152.1 629.8,152.1 630.0,152.1 630.3,152.1 630.5,152.1 630.8,152.1 631.0,152.1 631.3,152.1 631.5,152.1 631.8,152.1 632.0,152.1 632.3,152.2 632.5,152.2 632.8,152.2 633.0,152.2 633.3,152.2 633.5,152.2 633.8,152.2 634.0,152.2 634.3,152.2 634.5,152.2 634.8,152.2 635.0,152.2 635.3,152.2 635.5,152.2 635.8,152.2 636.0,152.2 636.3,152.2 636.5,152.2 636.8,152.2 637.0,152.2 637.3,152.3 637.5,152.3 637.8,152.3 638.0,152.3 638.3,152.3 638.5,152.3 638.8,152.3 639.0,152.3 639.3,152.3 639.5,152.3 639.8,152.3 640.0,152.3 640.3,152.3 640.5,152.3 640.8,152.3 641.0,152.3 641.3,152.3 641.5,152.3 641.8,152.3 642.0,152.3 642.3,152.3 642.5,152.3 642.8,152.4 643.0,152.4 643.3,152.4 643.5,152.4 643.8,152.4 644.1,152.4 644.3,152.4 644.6,152.4 644.8,152.4 645.1,152.4 645.3,152.4 645.6,152.4 645.8,152.4 646.1,152.4 646.3,152.4 646.6,152.4 646.8,152.4 647.1,152.4 647.3,152.4 647.6,152.4 647.8,152.4 648.1,152.4 648.3,152.4 648.6,152.4 648.8,152.4 649.1,152.4 649.3,152.5 649.6,152.5 649.8,152.5 650.1,152.5 650.3,152.5 650.6,152.5 650.8,152.5 651.1,152.5 651.3,152.5 651.6,152.5 651.8,152.5 652.1,152.5 652.3,152.5 652.6,152.5 652.8,152.5 653.1,152.5 653.3,152.5 653.6,152.5 653.8,152.5 654.1,152.5 654.3,152.5 654.6,152.5 654.8,152.5 655.1,152.5 655.3,152.5 655.6,152.5 655.8,152.5 656.1,152.5 656.3,152.5 656.6,152.5 656.8,152.6 657.1,152.6 657.3,152.6 657.6,152.6 657.8,152.6 658.1,152.6 658.3,152.6 658.6,152.6 658.8,152.6 659.1,152.6 659.4,152.6 659.6,152.6 659.9,152.6 660.1,152.6 660.4,152.6 660.6,152.6 660.9,152.6 661.1,152.6 661.4,152.6 661.6,152.6 661.9,152.6 662.1,152.6 662.4,152.6 662.6,152.6 662.9,152.6 663.1,152.6 663.4,152.6 663.6,152.6 663.9,152.6 664.1,152.6 664.4,152.6 664.6,152.6 664.9,152.6 665.1,152.6 665.4,152.6 665.6,152.6 665.9,152.7 666.1,152.7 666.4,152.7 666.6,152.7 666.9,152.7 667.1,152.7 667.4,152.7 667.6,152.7 667.9,152.7 668.1,152.7 668.4,152.7 668.6,152.7 668.9,152.7 669.1,152.7 669.4,152.7 669.6,152.7 669.9,152.7 670.1,152.7 670.4,152.7 670.6,152.7 670.9,152.7 671.1,152.7 671.4,152.7 671.6,152.7 671.9,152.7 672.1,152.7 672.4,152.7 672.6,152.7 672.9,152.7 673.1,152.7 673.4,152.7 673.6,152.7 673.9,152.7 674.1,152.7 674.4,152.7 674.6,152.7 674.9,152.7 L674.9,153.1 z" fill="#b4ecb4" stroke="#5a5" stroke-width="0.5"/>
<path d="M571.6,153.1 L571.6,153.0 571.8,153.0 572.1,152.8 572.3,152.6 572.6,152.0 572.8,151.0 573.1,149.2 573.3,146.5 573.6,143.1 573.8,139.7 574.1,137.0 574.3,135.2 574.6,134.2 574.8,133.7 575.1,133.4 575.3,133.3 575.6,133.2 575.8,133.2 576.1,133.2 576.3,133.2 576.6,133.2 576.8,133.2 577.1,133.2 577.3,133.2 577.6,133.2 577.8,133.2 578.1,133.2 578.3,133.2 578.6,133.2 578.8,133.2 579.1,133.2 579.3,133.2 579.6,133.2 579.8,133.2 580.1,133.2 580.3,133.2 580.6,133.2 580.9,133.2 581.1,133.2 581.4,133.2 581.6,133.2 581.9,133.2 582.1,133.2 582.4,133.2 582.6,133.2 582.9,133.2 583.1,133.2 583.4,133.2 583.6,133.2 583.9,133.2 584.1,133.2 584.4,133.2 584.6,133.2 584.9,133.2 585.1,133.2 585.4,133.2 585.6,133.2 585.9,133.2 586.1,133.2 586.4,133.2 586.6,133.2 586.9,133.2 587.1,133.2 587.4,133.2 587.6,133.2 587.9,133.2 588.1,133.2 588.4,133.2 588.6,133.2 588.9,133.2 589.1,133.2 589.4,133.3 589.6,133.4 589.9,133.6 590.1,133.8 590.4,134.3 590.6,135.1 590.9,136.3 591.1,138.1 591.4,140.4 591.6,143.1 591.9,145.8 592.1,148.2 592.4,149.9 592.6,151.1 592.9,151.9 593.1,152.4 593.4,152.7 593.6,152.9 L593.6,153.1 z" fill="url(#hatch)" stroke="#55a" stroke-width="0.5"/>
<path d="M569.2,153.1 L569.2,151.8 569.3,151.1 569.5,150.0 569.6,148.6 569.7,146.7 569.8,144.2 570.0,140.9 570.1,136.8 570.2,131.7 570.3,125.7 570.5,118.7 570.6,110.9 570.7,102.4 570.8,93.4 571.0,84.4 571.1,75.7 571.2,67.8 571.3,61.1 571.5,56.0 571.6,52.8 571.7,51.7 571.8,52.8 572.0,56.0 572.1,61.1 572.2,67.8 572.3,75.7 572.5,84.4 572.6,93.4 572.7,102.4 572.8,110.9 573.0,118.7 573.1,125.7 573.2,131.7 573.4,136.8 573.5,140.9 573.6,144.2 573.7,146.7 573.9,148.6 574.0,150.0 574.1,151.1 574.2,151.8 L574.2,153.1 z" fill="#ee0f0f" stroke="#700" stroke-width="0.5"/>
<path d="M589.4,153.1 L589.4,152.8 589.5,152.7 589.6,152.6 589.8,152.3 589.9,152.1 590.0,151.7 590.1,151.2 590.3,150.6 590.4,149.9 590.5,149.0 590.6,148.0 590.8,146.8 590.9,145.4 591.0,143.9 591.1,142.2 591.3,140.5 591.4,138.7 591.5,136.9 591.6,135.2 591.8,133.6 591.9,132.2 592.0,131.0 592.1,130.1 592.3,129.6 592.4,129.4 592.5,129.6 592.6,130.1 592.8,131.0 592.9,132.2 593.0,133.6 593.1,135.2 593.3,136.9 593.4,138.7 593.5,140.5 593.6,142.2 593.8,143.9 593.9,145.4 594.0,146.8 594.1,148.0 594.3,149.0 594.4,149.9 594.5,150.6 594.6,151.2 594.8,151.7 594.9,152.1 595.0,152.3 595.1,152.6 595.3,152.7 595.4,152.8 L595.4,153.1 z" fill="#ee0f0f" stroke="#700" stroke-width="0.5"/>
<polyline points="549.5,148.9 549.8,150.5 550.0,151.2 550.3,151.1 550.5,152.0 550.8,152.2 551.0,152.0 551.3,152.3 551.5,152.0 551.8,152.5 552.0,152.1 552.3,152.5 552.5,152.3 552.8,152.1 553.0,152.3 553.3,152.2 553.5,152.3 553.8,152.7 554.0,152.2 554.3,152.4 554.5,152.6 554.8,152.6 555.0,152.2 555.3,152.4 555.5,152.2 555.8,152.3 556.0,152.1 556.3,152.4 556.5,152.3 556.8,152.4 557.0,152.6 557.3,152.1 557.5,152.6 557.8,152.3 558.0,152.1 558.3,152.3 558.5,152.7 558.8,152.2 559.0,152.3 559.3,152.7 559.5,152.7 559.8,152.4 560.0,152.8 560.3,152.2 560.5,152.4 560.8,152.4 561.0,152.5 561.3,152.3 561.5,152.2 561.8,152.6 562.0,152.5 562.3,152.4 562.5,152.6 562.8,152.4 563.0,152.4 563.3,152.5 563.5,152.3 563.8,152.4 564.0,152.7 564.3,152.1 564.5,152.5 564.8,152.5 565.0,152.5 565.3,152.2 565.6,152.2 565.8,152.4 566.1,152.5 566.3,152.7 566.6,152.2 566.8,152.7 567.1,152.4 567.3,152.5 567.6,152.6 567.8,152.5 568.1,152.6 568.3,152.7 568.6,152.4 568.8,152.2 569.1,152.1 569.3,151.9 569.6,150.2 569.8,147.6 570.1,141.2 570.3,129.9 570.6,112.8 570.8,90.4 571.1,64.6 571.3,41.7 571.6,27.3 571.8,25.8 572.1,37.4 572.3,59.1 572.6,84.3 572.8,106.7 573.1,123.2 573.3,132.9 573.6,136.2 573.8,136.1 574.1,135.3 574.3,133.8 574.6,134.1 574.8,133.0 575.1,132.6 575.3,132.8 575.6,133.0 575.8,132.3 576.1,132.6 576.3,132.8 576.6,133.0 576.8,132.0 577.1,132.7 577.3,132.9 577.6,132.8 577.8,132.8 578.1,132.1 578.3,132.9 578.6,132.8 578.8,133.0 579.1,132.5 579.3,132.8 579.6,132.7 579.8,132.2 580.1,132.0 580.3,132.1 580.6,133.0 580.9,132.6 581.1,132.1 581.4,133.0 581.6,132.8 581.9,132.5 582.1,132.6 582.4,132.2 582.6,132.2 582.9,132.5 583.1,132.8 583.4,132.8 583.6,132.8 583.9,133.0 584.1,132.3 584.4,132.9 584.6,132.0 584.9,132.3 585.1,133.0 585.4,132.5 585.6,132.4 585.9,133.0 586.1,132.5 586.4,133.1 586.6,132.2 586.9,133.1 587.1,132.3 587.4,131.9 587.6,132.1 587.9,132.8 588.1,132.4 588.4,132.9 588.6,132.6 588.9,131.9 589.1,131.7 589.4,132.3 589.6,131.2 589.9,129.9 590.1,129.0 590.4,126.2 590.6,123.4 590.9,120.9 591.1,118.0 591.4,114.6 591.6,112.8 591.9,111.7 592.1,111.2 592.4,112.1 592.6,113.8 592.9,117.6 593.1,122.0 593.4,126.6 593.6,131.7 593.9,137.0 594.1,141.0 594.4,143.9 594.6,146.4 594.9,148.2 595.1,149.1 595.4,150.0 595.6,150.4 595.9,150.6 596.1,150.5 596.4,150.6 596.7,150.4 596.9,150.1 597.2,150.7 597.4,150.4 597.7,150.2 597.9,150.4 598.2,150.4 598.4,150.3 598.7,150.8 598.9,150.2 599.2,150.3 599.4,150.3 599.7,150.3 599.9,150.8 600.2,150.8 600.4,150.7 600.7,150.5 600.9,150.2 601.2,150.3 601.4,150.6 601.7,150.5 601.9,150.4 602.2,150.7 602.4,150.2 602.7,150.3 602.9,150.4 603.2,150.3 603.4,150.3 603.7,150.4 603.9,150.6 604.2,150.7 604.4,150.7 604.7,150.8 604.9,150.2 605.2,150.6 605.4,150.8 605.7,150.6 605.9,150.7 606.2,150.4 606.4,150.5 606.7,150.6 606.9,150.3 607.2,150.3 607.4,150.4 607.7,150.0 607.9,150.3 608.2,150.1 608.4,149.9 608.7,149.8 608.9,150.1 609.2,150.3 609.4,149.7 609.7,149.9 609.9,150.1 610.2,150.1 610.4,150.0 610.7,150.0 610.9,150.0 611.2,150.1 611.4,149.4 611.7,149.5 611.9,150.0 612.2,149.7 612.5,149.5 612.7,149.7 613.0,150.0 613.2,149.8 613.5,149.8 613.7,149.4 614.0,149.7 614.2,149.8 614.5,149.7 614.7,150.1 615.0,149.7 615.2,149.7 615.5,149.8 615.7,150.0 616.0,150.1 616.2,150.3 616.5,150.3 616.7,150.3 617.0,150.2 617.2,150.0 617.5,150.4 617.7,150.3 618.0,150.3 618.2,150.3 618.5,150.8 618.7,150.2 619.0,150.5 619.2,150.7 619.5,150.8 619.7,150.6 620.0,150.5 620.2,150.9 620.5,150.9 620.7,150.8 621.0,151.1 621.2,151.0 621.5,150.7 621.7,151.0 622.0,150.8 622.2,151.2 622.5,150.9 622.7,150.9 623.0,151.3 623.2,151.1 623.5,151.1 623.7,151.2 624.0,151.2 624.2,151.4 624.5,151.2 624.7,151.4 625.0,151.1 625.2,151.4 625.5,151.0 625.7,151.3 626.0,151.5 626.2,151.4 626.5,151.6 626.7,151.2 627.0,151.7 627.2,151.3 627.5,151.5 627.7,151.2 628.0,151.6 628.3,151.3 628.5,151.3 628.8,151.6 629.0,151.7 629.3,151.5 629.5,151.3 629.8,151.6 630.0,151.8 630.3,151.5 630.5,151.3 630.8,151.7 631.0,151.2 631.3,151.5 631.5,151.7 631.8,151.8 632.0,151.6 632.3,151.5 632.5,151.7 632.8,151.8 633.0,151.5 633.3,151.7 633.5,151.6 633.8,151.6 634.0,151.4 634.3,151.5 634.5,151.7 634.8,151.8 635.0,151.3 635.3,151.9 635.5,151.8 635.8,151.9 636.0,151.4 636.3,151.6 636.5,151.3 636.8,151.5 637.0,151.7 637.3,151.6 637.5,151.5 637.8,151.8 638.0,151.4 638.3,151.7 638.5,151.9 638.8,151.7 639.0,151.6 639.3,151.9 639.5,151.4 639.8,151.4 640.0,151.6 640.3,151.4 640.5,151.5 640.8,151.6 641.0,151.9 641.3,151.4 641.5,151.4 641.8,151.7 642.0,151.8 642.3,152.0 642.5,151.6 642.8,151.5 643.0,151.8 643.3,151.8 643.5,151.6 643.8,151.5 644.1,151.9 644.3,151.9 644.6,151.6 644.8,152.0 645.1,151.5 645.3,151.9 645.6,151.5 645.8,151.8 646.1,152.0 646.3,152.1 646.6,152.0 646.8,151.9 647.1,151.6 647.3,151.6 647.6,151.7 647.8,151.9 648.1,151.7 648.3,151.6 648.6,151.9 648.8,152.1 649.1,151.8 649.3,152.0 649.6,152.0 649.8,151.9 650.1,152.1 650.3,151.6 650.6,152.0 650.8,151.6 651.1,151.7 651.3,152.1 651.6,151.6 651.8,151.6 652.1,151.8 652.3,151.6 652.6,151.9 652.8,152.2 653.1,152.1 653.3,152.0 653.6,151.6 653.8,151.6 654.1,152.1 654.3,152.0 654.6,152.1 654.8,152.0 655.1,152.0 655.3,151.9 655.6,152.1 655.8,151.8 656.1,152.1 656.3,151.6 656.6,151.9 656.8,151.9 657.1,151.7 657.3,152.0 657.6,152.1 657.8,152.2 658.1,152.0 658.3,152.1 658.6,151.8 658.8,152.0 659.1,151.8 659.4,152.1 659.6,152.2 659.9,152.1 660.1,152.0 660.4,151.7 660.6,152.1 660.9,152.1 661.1,152.2 661.4,152.1 661.6,151.7 661.9,151.7 662.1,152.1 662.4,152.3 662.6,152.0 662.9,151.9 663.1,152.2 663.4,152.0 663.6,151.8 663.9,152.3 664.1,151.8 664.4,151.9 664.6,151.8 664.9,152.0 665.1,152.0 665.4,152.0 665.6,152.2 665.9,152.0 666.1,152.2 666.4,152.1 666.6,152.3 666.9,152.2 667.1,152.3 667.4,152.0 667.6,152.2 667.9,152.0 668.1,152.0 668.4,152.2 668.6,152.3 668.9,152.0 669.1,151.9 669.4,151.9 669.6,152.0 669.9,152.0 670.1,152.3 670.4,152.2 670.6,151.8 670.9,152.1 671.1,152.3 671.4,152.1 671.6,151.8 671.9,152.3 672.1,152.3 672.4,152.1 672.6,151.8 672.9,152.1 673.1,152.2 673.4,151.9 673.6,152.3 673.9,152.2 674.1,152.0 674.4,151.8 674.6,151.8 674.9,152.2" fill="none" stroke="#1a1a1a" stroke-width="0.75"/>
<line x1="549.5" y1="21.8" x2="549.5" y2="153.1" stroke="#555" stroke-width="0.9"/>
<line x1="549.5" y1="153.1" x2="674.9" y2="153.1" stroke="#555" stroke-width="0.9"/>
<path d="M544.5 153.1H549.5M546.9 144.9H549.5M546.9 136.8H549.5M546.9 128.6H549.5M544.5 120.4H549.5M546.9 112.2H549.5M546.9 104.0H549.5M546.9 95.9H549.5M544.5 87.7H549.5M546.9 79.5H549.5M546.9 71.3H549.5M546.9 63.2H549.5M544.5 55.0H549.5M546.9 46.8H549.5M546.9 38.6H549.5M546.9 30.5H549.5M544.5 22.3H549.5M549.5 153.1v5.3M554.5 153.1v2.6M559.5 153.1v2.6M564.5 153.1v2.6M569.6 153.1v2.6M574.6 153.1v5.3M579.6 153.1v2.6M584.6 153.1v2.6M589.6 153.1v2.6M594.6 153.1v2.6M599.7 153.1v5.3M604.7 153.1v2.6M609.7 153.1v2.6M614.7 153.1v2.6M619.7 153.1v2.6M624.7 153.1v5.3M629.8 153.1v2.6M634.8 153.1v2.6M639.8 153.1v2.6M644.8 153.1v2.6M649.8 153.1v5.3M654.8 153.1v2.6M659.9 153.1v2.6M664.9 153.1v2.6M669.9 153.1v2.6M674.9 153.1v5.3" stroke="#3a3a3a" stroke-width="0.85" fill="none"/>
<text transform="translate(542.4,153.9) rotate(-90)" font-size="10.2" text-anchor="middle" fill="#333" textLength="4.1" lengthAdjust="spacingAndGlyphs">0</text>
<text transform="translate(542.4,121.2) rotate(-90)" font-size="10.2" text-anchor="middle" fill="#333" textLength="12.299999999999999" lengthAdjust="spacingAndGlyphs">200</text>
<text transform="translate(542.4,88.5) rotate(-90)" font-size="10.2" text-anchor="middle" fill="#333" textLength="12.299999999999999" lengthAdjust="spacingAndGlyphs">400</text>
<text transform="translate(542.4,55.8) rotate(-90)" font-size="10.2" text-anchor="middle" fill="#333" textLength="12.299999999999999" lengthAdjust="spacingAndGlyphs">600</text>
<text transform="translate(542.4,23.1) rotate(-90)" font-size="10.2" text-anchor="middle" fill="#333" textLength="12.299999999999999" lengthAdjust="spacingAndGlyphs">800</text>
<text x="549.2" y="167.2" font-size="10.6" text-anchor="middle" fill="#333" textLength="4.4" lengthAdjust="spacingAndGlyphs">0</text>
<text x="574.3" y="167.2" font-size="10.6" text-anchor="middle" fill="#333" textLength="8.8" lengthAdjust="spacingAndGlyphs">50</text>
<text x="599.4" y="167.2" font-size="10.6" text-anchor="middle" fill="#333" textLength="13.200000000000001" lengthAdjust="spacingAndGlyphs">100</text>
<text x="624.4" y="167.2" font-size="10.6" text-anchor="middle" fill="#333" textLength="13.200000000000001" lengthAdjust="spacingAndGlyphs">150</text>
<text x="649.5" y="167.2" font-size="10.6" text-anchor="middle" fill="#333" textLength="13.200000000000001" lengthAdjust="spacingAndGlyphs">200</text>
<text x="674.6" y="167.2" font-size="10.6" text-anchor="middle" fill="#333" textLength="13.200000000000001" lengthAdjust="spacingAndGlyphs">250</text>
<path d="M569.2,157.9L571.5,154.1L573.8,157.9z" fill="#000"/>
<path d="M590.2,157.9L592.5,154.1L594.8,157.9z" fill="#000"/>
<path d="M611.8,157.9L614.1,154.1L616.4,157.9z" fill="#000"/>
<g filter="url(#b3)"><rect x="622.4" y="26.4" width="10.5" height="48.5" fill="#b4b4bc"/><rect x="623.9" y="27.9" width="7.5" height="7.2" fill="#a8a8dc"/><rect x="623.9" y="37.2" width="7.5" height="7.4" fill="#a8f4a8"/><rect x="623.0" y="45.599999999999994" width="9.3" height="9.2" rx="4" fill="#ff0000"/><rect x="623.0" y="55.2" width="9.3" height="9.2" rx="4" fill="#ff0000"/><rect x="623.9" y="65.9" width="7.5" height="7.2" fill="#dcdcf4"/><text x="636.0" y="34.0" font-size="7.4" font-weight="bold" fill="#5050ff" textLength="18.5" lengthAdjust="spacingAndGlyphs">Debris</text><text x="636.0" y="43.599999999999994" font-size="7.4" font-weight="bold" fill="#5050ff" textLength="35.5" lengthAdjust="spacingAndGlyphs">Aggregates</text><text x="636.0" y="53.2" font-size="7.4" font-weight="bold" fill="#5050ff" textLength="9.5" lengthAdjust="spacingAndGlyphs">Dip</text><text x="647.5" y="53.2" font-size="7.4" fill="#8080ff" opacity="0.7">G1</text><text x="636.0" y="62.8" font-size="7.4" font-weight="bold" fill="#5050ff" textLength="9.5" lengthAdjust="spacingAndGlyphs">Dip</text><text x="647.5" y="62.8" font-size="7.4" fill="#8080ff" opacity="0.7">G2</text><text x="636.0" y="72.4" font-size="7.4" font-weight="bold" fill="#5050ff" textLength="9.5" lengthAdjust="spacingAndGlyphs">Dip</text><text x="647.5" y="72.4" font-size="7.4" fill="#8080ff" opacity="0.7">S</text></g>
<text x="588.2" y="105.3" font-size="9.7" text-anchor="start" fill="#222" textLength="96.3" lengthAdjust="spacingAndGlyphs">50 nM WT-tRiMetF31/48 h</text>
<path d="M388.9,325.5 L388.9,312.4 389.0,314.3 389.2,316.0 389.3,317.3 389.4,318.5 389.5,319.5 389.7,320.4 389.8,321.1 389.9,321.8 390.0,322.3 390.2,322.8 390.3,323.2 390.4,323.5 390.5,323.8 390.7,324.0 390.8,324.2 390.9,324.4 391.0,324.6 391.2,324.7 391.3,324.8 391.4,324.9 391.5,325.0 391.7,325.1 391.8,325.1 391.9,325.2 392.0,325.2 392.2,325.3 392.3,325.3 392.4,325.3 392.5,325.4 392.7,325.4 392.8,325.4 392.9,325.4 393.0,325.4 393.2,325.4 393.3,325.4 393.4,325.5 393.5,325.5 393.7,325.5 393.8,325.5 L393.8,325.5 z" fill="url(#hatch)" stroke="#55a" stroke-width="0.4"/>
<path d="M433.3,325.5 L433.3,325.5 433.5,325.5 433.8,325.2 434.0,325.1 434.3,325.0 434.5,324.9 434.8,324.8 435.0,324.6 435.3,324.5 435.5,324.4 435.8,324.3 436.0,324.3 436.3,324.2 436.5,324.2 436.8,324.2 437.0,324.1 437.3,324.1 437.5,324.1 437.8,324.1 438.0,324.1 438.3,324.1 438.5,324.1 438.8,324.1 439.0,324.1 439.3,324.1 439.5,324.2 439.8,324.2 440.0,324.2 440.3,324.2 440.5,324.2 440.8,324.2 441.0,324.2 441.3,324.2 441.5,324.2 441.8,324.2 442.0,324.2 442.3,324.2 442.5,324.2 442.8,324.2 443.0,324.2 443.3,324.2 443.5,324.3 443.8,324.3 444.0,324.3 444.3,324.3 444.5,324.3 444.8,324.3 445.0,324.3 445.3,324.3 445.5,324.3 445.8,324.3 446.0,324.3 446.3,324.3 446.5,324.3 446.8,324.3 447.0,324.3 447.3,324.3 447.5,324.2 447.8,324.2 448.0,324.2 448.3,324.2 448.5,324.2 448.8,324.2 449.0,324.2 449.3,324.2 449.5,324.1 449.8,324.1 450.0,324.1 450.3,324.1 450.5,324.1 450.8,324.0 451.0,324.0 451.3,324.0 451.5,324.0 451.8,324.0 452.1,323.9 452.3,323.9 452.6,323.9 452.8,323.9 453.1,323.8 453.3,323.8 453.6,323.8 453.8,323.8 454.1,323.7 454.3,323.7 454.6,323.7 454.8,323.7 455.1,323.7 455.3,323.7 455.6,323.7 455.8,323.7 456.1,323.7 456.3,323.7 456.6,323.7 456.8,323.7 457.1,323.7 457.3,323.7 457.6,323.7 457.8,323.7 458.1,323.7 458.3,323.8 458.6,323.8 458.8,323.8 459.1,323.8 459.3,323.9 459.6,323.9 459.8,323.9 460.1,324.0 460.3,324.0 460.6,324.0 460.8,324.1 461.1,324.1 461.3,324.1 461.6,324.2 461.8,324.2 462.1,324.2 462.3,324.3 462.6,324.3 462.8,324.3 463.1,324.4 463.3,324.4 463.6,324.4 463.8,324.5 464.1,324.5 464.3,324.5 464.6,324.5 464.8,324.6 465.1,324.6 465.3,324.6 465.6,324.6 465.8,324.6 466.1,324.7 466.3,324.7 466.6,324.7 466.8,324.7 467.1,324.7 467.3,324.7 467.6,324.7 467.8,324.7 468.1,324.7 468.3,324.8 468.6,324.8 468.8,324.8 469.1,324.8 469.3,324.8 469.6,324.8 469.8,324.8 470.1,324.8 470.3,324.8 470.6,324.8 470.8,324.8 471.1,324.8 471.3,324.8 471.6,324.8 471.8,324.8 472.1,324.8 472.3,324.8 472.6,324.9 472.9,324.9 473.1,324.9 473.4,324.9 473.6,324.9 473.9,324.9 474.1,324.9 474.4,324.9 474.6,324.9 474.9,324.9 475.1,324.9 475.4,324.9 475.6,324.9 475.9,324.9 476.1,324.9 476.4,324.9 476.6,324.9 476.9,324.9 477.1,324.9 477.4,324.9 477.6,324.9 477.9,324.9 478.1,324.9 478.4,324.9 478.6,324.9 478.9,324.9 479.1,324.9 479.4,324.9 479.6,324.9 479.9,324.9 480.1,325.0 480.4,325.0 480.6,325.0 480.9,325.0 481.1,325.0 481.4,325.0 481.6,325.0 481.9,325.0 482.1,325.0 482.4,325.0 482.6,325.0 482.9,325.0 483.1,325.0 483.4,325.0 483.6,325.0 483.9,325.0 484.1,325.0 484.4,325.0 484.6,325.0 484.9,325.0 485.1,325.0 485.4,325.0 485.6,325.0 485.9,325.0 486.1,325.0 486.4,325.0 486.6,325.0 486.9,325.0 487.1,325.0 487.4,325.0 487.6,325.0 487.9,325.0 488.1,325.0 488.4,325.0 488.6,325.0 488.9,325.0 489.1,325.1 489.4,325.1 489.6,325.1 489.9,325.1 490.1,325.1 490.4,325.1 490.6,325.1 490.9,325.1 491.1,325.1 491.4,325.1 491.6,325.1 491.9,325.1 492.1,325.1 492.4,325.1 492.6,325.1 492.9,325.1 493.1,325.1 493.4,325.1 493.7,325.1 493.9,325.1 494.2,325.1 494.4,325.1 494.7,325.1 494.9,325.1 495.2,325.1 495.4,325.1 495.7,325.1 495.9,325.1 496.2,325.1 496.4,325.1 496.7,325.1 496.9,325.1 497.2,325.1 497.4,325.1 497.7,325.1 497.9,325.1 498.2,325.1 498.4,325.1 498.7,325.1 498.9,325.1 499.2,325.1 499.4,325.1 499.7,325.1 499.9,325.1 500.2,325.1 500.4,325.2 500.7,325.2 500.9,325.2 501.2,325.2 501.4,325.2 501.7,325.2 501.9,325.2 502.2,325.2 502.4,325.2 502.7,325.2 502.9,325.2 503.2,325.2 503.4,325.2 503.7,325.2 503.9,325.2 504.2,325.2 504.4,325.2 504.7,325.2 504.9,325.2 505.2,325.2 505.4,325.2 505.7,325.2 505.9,325.2 506.2,325.2 506.4,325.2 506.7,325.2 506.9,325.2 507.2,325.2 507.4,325.2 507.7,325.2 507.9,325.2 508.2,325.2 508.4,325.2 508.7,325.2 508.9,325.2 509.2,325.2 509.4,325.2 509.7,325.2 509.9,325.2 510.2,325.2 510.4,325.2 510.7,325.2 510.9,325.2 511.2,325.2 511.4,325.2 511.7,325.2 511.9,325.2 512.2,325.2 512.4,325.2 512.7,325.2 512.9,325.2 513.2,325.2 513.4,325.2 513.7,325.2 513.9,325.2 514.2,325.2 L514.2,325.5 z" fill="#b4ecb4" stroke="#5a5" stroke-width="0.5"/>
<path d="M411.0,325.5 L411.0,325.5 411.2,325.4 411.5,325.4 411.7,325.3 412.0,325.0 412.2,324.6 412.5,323.8 412.7,322.6 413.0,321.1 413.2,319.6 413.5,318.4 413.7,317.7 414.0,317.2 414.2,317.0 414.5,316.9 414.7,316.8 415.0,316.8 415.2,316.8 415.5,316.8 415.7,316.8 416.0,316.8 416.2,316.8 416.5,316.8 416.7,316.8 417.0,316.8 417.2,316.8 417.5,316.8 417.7,316.8 418.0,316.8 418.2,316.8 418.5,316.8 418.7,316.8 419.0,316.8 419.2,316.8 419.5,316.8 419.7,316.8 420.0,316.8 420.2,316.8 420.5,316.8 420.7,316.8 421.0,316.8 421.2,316.8 421.5,316.8 421.7,316.8 422.0,316.8 422.2,316.8 422.5,316.8 422.7,316.8 423.0,316.8 423.2,316.8 423.5,316.8 423.7,316.8 424.0,316.8 424.2,316.8 424.5,316.8 424.7,316.8 425.0,316.8 425.2,316.8 425.5,316.8 425.7,316.8 426.0,316.8 426.2,316.8 426.5,316.8 426.7,316.8 427.0,316.8 427.2,316.8 427.5,316.8 427.7,316.8 428.0,316.8 428.2,316.8 428.5,316.8 428.7,316.8 429.0,316.9 429.2,316.9 429.5,317.1 429.7,317.3 430.0,317.6 430.2,318.1 430.5,318.9 430.8,319.9 431.0,321.1 431.3,322.3 431.5,323.3 431.8,324.1 432.0,324.6 432.3,325.0 432.5,325.2 432.8,325.3 433.0,325.4 L433.0,325.5 z" fill="url(#hatch)" stroke="#55a" stroke-width="0.5"/>
<path d="M408.5,325.5 L408.5,324.2 408.6,323.6 408.8,322.7 408.9,321.5 409.0,319.9 409.1,317.8 409.3,315.1 409.4,311.7 409.5,307.6 409.6,302.7 409.8,297.1 409.9,290.7 410.0,283.7 410.2,276.2 410.3,268.6 410.4,260.9 410.5,253.7 410.7,247.2 410.8,241.7 410.9,237.6 411.0,235.0 411.2,234.1 411.3,235.0 411.4,237.6 411.5,241.7 411.7,247.2 411.8,253.7 411.9,260.9 412.0,268.6 412.2,276.2 412.3,283.7 412.4,290.7 412.5,297.1 412.7,302.7 412.8,307.6 412.9,311.7 413.0,315.1 413.2,317.8 413.3,319.9 413.4,321.5 413.5,322.7 413.7,323.6 413.8,324.2 L413.8,325.5 z" fill="#ee0f0f" stroke="#700" stroke-width="0.5"/>
<path d="M429.2,325.5 L429.2,325.4 429.4,325.4 429.5,325.4 429.6,325.3 429.7,325.3 429.9,325.2 430.0,325.1 430.1,325.0 430.2,324.9 430.4,324.7 430.5,324.6 430.6,324.4 430.8,324.1 430.9,323.9 431.0,323.6 431.1,323.3 431.3,323.0 431.4,322.7 431.5,322.3 431.6,322.0 431.8,321.6 431.9,321.3 432.0,321.0 432.1,320.7 432.3,320.5 432.4,320.3 432.5,320.1 432.6,320.0 432.8,320.0 432.9,320.0 433.0,320.1 433.1,320.3 433.3,320.5 433.4,320.7 433.5,321.0 433.6,321.3 433.8,321.6 433.9,322.0 434.0,322.3 434.1,322.7 434.3,323.0 434.4,323.3 434.5,323.6 434.6,323.9 434.8,324.1 434.9,324.4 435.0,324.6 435.1,324.7 435.3,324.9 435.4,325.0 435.5,325.1 435.6,325.2 435.8,325.3 435.9,325.3 436.0,325.4 436.1,325.4 436.3,325.4 L436.3,325.5 z" fill="#ee0f0f" stroke="#700" stroke-width="0.5"/>
<polyline points="388.9,272.6 389.2,289.2 389.4,300.6 389.7,308.7 389.9,313.7 390.2,317.4 390.4,319.8 390.7,321.6 390.9,322.7 391.2,323.4 391.4,324.0 391.7,324.2 391.9,324.7 392.2,324.8 392.4,324.6 392.7,324.9 392.9,324.9 393.2,324.8 393.4,325.0 393.7,325.2 393.9,324.8 394.2,324.9 394.4,324.9 394.7,324.9 394.9,324.7 395.2,325.0 395.4,324.8 395.7,325.0 395.9,324.9 396.2,324.9 396.4,325.1 396.7,325.2 396.9,325.0 397.2,324.9 397.4,324.9 397.7,325.0 397.9,324.9 398.2,325.1 398.4,325.1 398.7,325.1 398.9,324.8 399.2,325.1 399.4,325.2 399.7,325.2 399.9,325.2 400.2,325.1 400.4,324.9 400.7,324.8 400.9,325.1 401.2,325.0 401.4,325.1 401.7,325.1 401.9,324.8 402.2,325.0 402.4,325.1 402.7,325.2 402.9,324.8 403.2,324.9 403.4,324.8 403.7,325.1 403.9,325.0 404.2,324.8 404.4,324.9 404.7,324.7 404.9,325.2 405.2,324.7 405.4,325.2 405.7,325.0 405.9,325.2 406.2,324.8 406.4,324.9 406.7,324.7 406.9,324.8 407.2,324.7 407.4,325.0 407.7,324.7 407.9,324.8 408.2,325.0 408.4,324.5 408.7,324.5 408.9,323.5 409.2,321.1 409.4,315.8 409.7,306.7 410.0,291.5 410.2,271.2 410.5,247.8 410.7,225.4 411.0,209.6 411.2,205.9 411.5,214.5 411.7,233.3 412.0,257.0 412.2,279.3 412.5,296.5 412.7,308.0 413.0,314.0 413.2,315.9 413.5,316.5 413.7,316.4 414.0,316.4 414.2,316.5 414.5,316.2 414.7,316.0 415.0,316.1 415.2,316.5 415.5,316.4 415.7,316.3 416.0,316.0 416.2,316.2 416.5,316.2 416.7,315.9 417.0,316.6 417.2,316.1 417.5,316.4 417.7,316.2 418.0,315.9 418.2,316.5 418.5,315.8 418.7,316.6 419.0,316.2 419.2,316.2 419.5,316.5 419.7,316.2 420.0,316.3 420.2,316.3 420.5,316.0 420.7,316.7 421.0,316.3 421.2,316.0 421.5,316.6 421.7,315.9 422.0,316.5 422.2,316.1 422.5,316.5 422.7,316.3 423.0,316.3 423.2,316.6 423.5,316.0 423.7,316.3 424.0,316.1 424.2,316.2 424.5,316.2 424.7,316.2 425.0,316.4 425.2,315.9 425.5,316.6 425.7,315.9 426.0,315.9 426.2,316.2 426.5,316.0 426.7,316.1 427.0,316.1 427.2,316.4 427.5,316.3 427.7,316.2 428.0,316.2 428.2,315.5 428.5,315.9 428.7,315.6 429.0,315.2 429.2,314.4 429.5,314.2 429.7,313.4 430.0,313.0 430.2,312.3 430.5,311.8 430.8,311.0 431.0,310.3 431.3,309.4 431.5,308.9 431.8,308.3 432.0,307.2 432.3,306.7 432.5,306.0 432.8,306.0 433.0,306.0 433.3,307.1 433.5,307.8 433.8,309.2 434.0,310.4 434.3,312.2 434.5,314.2 434.8,315.4 435.0,317.2 435.3,318.5 435.5,319.8 435.8,320.4 436.0,321.6 436.3,321.9 436.5,322.5 436.8,322.7 437.0,323.2 437.3,323.5 437.5,323.2 437.8,323.4 438.0,323.7 438.3,323.3 438.5,323.4 438.8,323.8 439.0,323.9 439.3,323.6 439.5,323.8 439.8,323.5 440.0,323.7 440.3,323.5 440.5,323.6 440.8,323.5 441.0,323.5 441.3,323.6 441.5,323.6 441.8,323.8 442.0,323.9 442.3,323.9 442.5,323.5 442.8,323.9 443.0,323.8 443.3,323.8 443.5,323.7 443.8,323.7 444.0,323.6 444.3,323.8 444.5,323.8 444.8,323.7 445.0,323.6 445.3,323.5 445.5,323.9 445.8,323.6 446.0,323.5 446.3,323.5 446.5,323.9 446.8,323.8 447.0,323.6 447.3,323.6 447.5,324.0 447.8,323.8 448.0,323.6 448.3,323.6 448.5,323.7 448.8,323.8 449.0,323.7 449.3,323.9 449.5,323.7 449.8,323.6 450.0,323.4 450.3,323.5 450.5,323.6 450.8,323.7 451.0,323.6 451.3,323.4 451.5,323.5 451.8,323.6 452.1,323.2 452.3,323.3 452.6,323.1 452.8,323.3 453.1,323.2 453.3,323.3 453.6,323.2 453.8,323.0 454.1,323.0 454.3,323.1 454.6,323.2 454.8,323.4 455.1,323.0 455.3,323.2 455.6,323.2 455.8,323.4 456.1,323.4 456.3,323.2 456.6,322.9 456.8,323.0 457.1,323.0 457.3,323.1 457.6,323.3 457.8,323.4 458.1,323.2 458.3,323.5 458.6,323.2 458.8,323.3 459.1,323.3 459.3,323.5 459.6,323.6 459.8,323.4 460.1,323.6 460.3,323.4 460.6,323.6 460.8,323.5 461.1,323.5 461.3,323.6 461.6,323.6 461.8,323.9 462.1,323.8 462.3,323.5 462.6,323.9 462.8,323.9 463.1,323.9 463.3,323.9 463.6,323.8 463.8,324.0 464.1,323.7 464.3,324.2 464.6,323.9 464.8,324.0 465.1,323.9 465.3,324.3 465.6,324.0 465.8,323.9 466.1,324.0 466.3,324.3 466.6,323.9 466.8,323.9 467.1,324.4 467.3,324.0 467.6,324.4 467.8,324.4 468.1,324.1 468.3,324.1 468.6,324.0 468.8,324.2 469.1,324.3 469.3,324.4 469.6,324.2 469.8,324.0 470.1,324.2 470.3,324.1 470.6,324.5 470.8,324.2 471.1,324.2 471.3,324.5 471.6,324.1 471.8,324.5 472.1,324.5 472.3,324.6 472.6,324.2 472.9,324.5 473.1,324.1 473.4,324.6 473.6,324.2 473.9,324.2 474.1,324.3 474.4,324.3 474.6,324.2 474.9,324.3 475.1,324.6 475.4,324.2 475.6,324.4 475.9,324.3 476.1,324.4 476.4,324.2 476.6,324.4 476.9,324.2 477.1,324.6 477.4,324.5 477.6,324.3 477.9,324.3 478.1,324.2 478.4,324.6 478.6,324.3 478.9,324.3 479.1,324.6 479.4,324.6 479.6,324.4 479.9,324.2 480.1,324.4 480.4,324.5 480.6,324.4 480.9,324.3 481.1,324.4 481.4,324.4 481.6,324.4 481.9,324.2 482.1,324.3 482.4,324.3 482.6,324.6 482.9,324.4 483.1,324.3 483.4,324.4 483.6,324.2 483.9,324.3 484.1,324.7 484.4,324.5 484.6,324.6 484.9,324.6 485.1,324.5 485.4,324.2 485.6,324.4 485.9,324.7 486.1,324.6 486.4,324.6 486.6,324.3 486.9,324.5 487.1,324.7 487.4,324.5 487.6,324.6 487.9,324.8 488.1,324.5 488.4,324.3 488.6,324.4 488.9,324.4 489.1,324.7 489.4,324.5 489.6,324.5 489.9,324.4 490.1,324.6 490.4,324.8 490.6,324.3 490.9,324.7 491.1,324.4 491.4,324.6 491.6,324.4 491.9,324.6 492.1,324.8 492.4,324.6 492.6,324.6 492.9,324.4 493.1,324.6 493.4,324.5 493.7,324.6 493.9,324.5 494.2,324.7 494.4,324.4 494.7,324.3 494.9,324.8 495.2,324.4 495.4,324.4 495.7,324.5 495.9,324.8 496.2,324.5 496.4,324.5 496.7,324.5 496.9,324.4 497.2,324.4 497.4,324.5 497.7,324.4 497.9,324.8 498.2,324.7 498.4,324.6 498.7,324.6 498.9,324.4 499.2,324.5 499.4,324.6 499.7,324.6 499.9,324.4 500.2,324.7 500.4,324.5 500.7,324.6 500.9,324.7 501.2,324.7 501.4,324.8 501.7,324.9 501.9,324.7 502.2,324.7 502.4,324.9 502.7,324.7 502.9,324.7 503.2,324.4 503.4,324.5 503.7,324.6 503.9,324.5 504.2,324.8 504.4,324.9 504.7,324.6 504.9,324.8 505.2,324.4 505.4,324.7 505.7,324.5 505.9,324.8 506.2,324.9 506.4,324.6 506.7,324.6 506.9,324.8 507.2,324.5 507.4,324.4 507.7,324.6 507.9,324.4 508.2,324.4 508.4,324.9 508.7,324.6 508.9,324.6 509.2,324.6 509.4,324.8 509.7,324.7 509.9,324.6 510.2,324.5 510.4,324.9 510.7,324.8 510.9,324.8 511.2,324.6 511.4,324.9 511.7,324.9 511.9,324.9 512.2,324.9 512.4,324.7 512.7,324.5 512.9,324.8 513.2,324.9 513.4,324.6 513.7,324.8 513.9,324.7 514.2,324.6" fill="none" stroke="#1a1a1a" stroke-width="0.75"/>
<line x1="388.9" y1="195" x2="388.9" y2="325.5" stroke="#555" stroke-width="0.9"/>
<line x1="388.9" y1="325.5" x2="514.2" y2="325.5" stroke="#555" stroke-width="0.9"/>
<path d="M383.9 325.5H388.9M386.3 319.0H388.9M386.3 312.4H388.9M386.3 305.9H388.9M383.9 299.4H388.9M386.3 292.9H388.9M386.3 286.4H388.9M386.3 279.8H388.9M383.9 273.3H388.9M386.3 266.8H388.9M386.3 260.2H388.9M386.3 253.7H388.9M383.9 247.2H388.9M386.3 240.7H388.9M386.3 234.1H388.9M386.3 227.6H388.9M383.9 221.1H388.9M386.3 214.6H388.9M386.3 208.1H388.9M386.3 201.5H388.9M383.9 195.0H388.9M388.9 325.5v5.3M393.9 325.5v2.6M398.9 325.5v2.6M403.9 325.5v2.6M408.9 325.5v2.6M414.0 325.5v5.3M419.0 325.5v2.6M424.0 325.5v2.6M429.0 325.5v2.6M434.0 325.5v2.6M439.0 325.5v5.3M444.0 325.5v2.6M449.0 325.5v2.6M454.1 325.5v2.6M459.1 325.5v2.6M464.1 325.5v5.3M469.1 325.5v2.6M474.1 325.5v2.6M479.1 325.5v2.6M484.1 325.5v2.6M489.1 325.5v5.3M494.2 325.5v2.6M499.2 325.5v2.6M504.2 325.5v2.6M509.2 325.5v2.6M514.2 325.5v5.3" stroke="#3a3a3a" stroke-width="0.85" fill="none"/>
<text transform="translate(381.8,326.3) rotate(-90)" font-size="10.2" text-anchor="middle" fill="#333" textLength="4.1" lengthAdjust="spacingAndGlyphs">0</text>
<text transform="translate(381.8,300.2) rotate(-90)" font-size="10.2" text-anchor="middle" fill="#333" textLength="12.299999999999999" lengthAdjust="spacingAndGlyphs">200</text>
<text transform="translate(381.8,274.1) rotate(-90)" font-size="10.2" text-anchor="middle" fill="#333" textLength="12.299999999999999" lengthAdjust="spacingAndGlyphs">400</text>
<text transform="translate(381.8,248.0) rotate(-90)" font-size="10.2" text-anchor="middle" fill="#333" textLength="12.299999999999999" lengthAdjust="spacingAndGlyphs">600</text>
<text transform="translate(381.8,221.9) rotate(-90)" font-size="10.2" text-anchor="middle" fill="#333" textLength="12.299999999999999" lengthAdjust="spacingAndGlyphs">800</text>
<text transform="translate(381.8,195.8) rotate(-90)" font-size="10.2" text-anchor="middle" fill="#333" textLength="16.4" lengthAdjust="spacingAndGlyphs">1000</text>
<text x="388.6" y="339.6" font-size="10.6" text-anchor="middle" fill="#333" textLength="4.4" lengthAdjust="spacingAndGlyphs">0</text>
<text x="413.7" y="339.6" font-size="10.6" text-anchor="middle" fill="#333" textLength="8.8" lengthAdjust="spacingAndGlyphs">50</text>
<text x="438.7" y="339.6" font-size="10.6" text-anchor="middle" fill="#333" textLength="13.200000000000001" lengthAdjust="spacingAndGlyphs">100</text>
<text x="463.8" y="339.6" font-size="10.6" text-anchor="middle" fill="#333" textLength="13.200000000000001" lengthAdjust="spacingAndGlyphs">150</text>
<text x="488.8" y="339.6" font-size="10.6" text-anchor="middle" fill="#333" textLength="13.200000000000001" lengthAdjust="spacingAndGlyphs">200</text>
<text x="513.9" y="339.6" font-size="10.6" text-anchor="middle" fill="#333" textLength="13.200000000000001" lengthAdjust="spacingAndGlyphs">250</text>
<path d="M408.5,330.3L410.8,326.5L413.1,330.3z" fill="#000"/>
<path d="M429.9,330.3L432.2,326.5L434.5,330.3z" fill="#000"/>
<g filter="url(#b3)"><rect x="463.5" y="199.3" width="10.5" height="48.5" fill="#b4b4bc"/><rect x="465.0" y="200.8" width="7.5" height="7.2" fill="#a8a8dc"/><rect x="465.0" y="210.10000000000002" width="7.5" height="7.4" fill="#a8f4a8"/><rect x="464.1" y="218.5" width="9.3" height="9.2" rx="4" fill="#ff0000"/><rect x="464.1" y="228.10000000000002" width="9.3" height="9.2" rx="4" fill="#ff0000"/><rect x="465.0" y="238.8" width="7.5" height="7.2" fill="#dcdcf4"/><text x="477.1" y="206.9" font-size="7.4" font-weight="bold" fill="#5050ff" textLength="18.5" lengthAdjust="spacingAndGlyphs">Debris</text><text x="477.1" y="216.5" font-size="7.4" font-weight="bold" fill="#5050ff" textLength="35.5" lengthAdjust="spacingAndGlyphs">Aggregates</text><text x="477.1" y="226.10000000000002" font-size="7.4" font-weight="bold" fill="#5050ff" textLength="9.5" lengthAdjust="spacingAndGlyphs">Dip</text><text x="488.6" y="226.10000000000002" font-size="7.4" fill="#8080ff" opacity="0.7">G1</text><text x="477.1" y="235.70000000000002" font-size="7.4" font-weight="bold" fill="#5050ff" textLength="9.5" lengthAdjust="spacingAndGlyphs">Dip</text><text x="488.6" y="235.70000000000002" font-size="7.4" fill="#8080ff" opacity="0.7">G2</text><text x="477.1" y="245.3" font-size="7.4" font-weight="bold" fill="#5050ff" textLength="9.5" lengthAdjust="spacingAndGlyphs">Dip</text><text x="488.6" y="245.3" font-size="7.4" fill="#8080ff" opacity="0.7">S</text></g>
<text x="419.6" y="278.6" font-size="9.7" text-anchor="start" fill="#222" textLength="96.4" lengthAdjust="spacingAndGlyphs">50 nM Scr-tRiMetF31/24 h</text>
<path d="M549.8,324.6 L549.8,312.1 549.9,313.9 550.1,315.5 550.2,316.8 550.3,317.9 550.4,318.9 550.6,319.7 550.7,320.4 550.8,321.0 550.9,321.5 551.1,322.0 551.2,322.4 551.3,322.7 551.4,323.0 551.6,323.2 551.7,323.4 551.8,323.6 551.9,323.7 552.1,323.8 552.2,324.0 552.3,324.1 552.4,324.1 552.6,324.2 552.7,324.3 552.8,324.3 552.9,324.3 553.1,324.4 553.2,324.4 553.3,324.4 553.4,324.5 553.6,324.5 553.7,324.5 553.8,324.5 553.9,324.5 554.1,324.5 554.2,324.5 554.3,324.6 554.4,324.6 554.6,324.6 554.7,324.6 L554.7,324.6 z" fill="url(#hatch)" stroke="#55a" stroke-width="0.4"/>
<path d="M594.2,324.6 L594.2,324.6 594.4,324.6 594.7,324.1 594.9,324.0 595.2,323.9 595.4,323.7 595.7,323.5 595.9,323.4 596.2,323.2 596.4,323.1 596.7,323.0 597.0,322.9 597.2,322.8 597.5,322.7 597.7,322.7 598.0,322.7 598.2,322.7 598.5,322.6 598.7,322.6 599.0,322.6 599.2,322.6 599.5,322.6 599.7,322.6 600.0,322.7 600.2,322.7 600.5,322.7 600.7,322.7 601.0,322.7 601.2,322.7 601.5,322.7 601.7,322.7 602.0,322.7 602.2,322.7 602.5,322.7 602.7,322.7 603.0,322.7 603.2,322.7 603.5,322.7 603.7,322.7 604.0,322.6 604.2,322.6 604.5,322.6 604.7,322.6 605.0,322.6 605.2,322.6 605.5,322.6 605.7,322.5 606.0,322.5 606.2,322.5 606.5,322.5 606.7,322.4 607.0,322.4 607.2,322.4 607.5,322.4 607.7,322.3 608.0,322.3 608.2,322.3 608.5,322.3 608.7,322.2 609.0,322.2 609.2,322.2 609.5,322.1 609.7,322.1 610.0,322.1 610.2,322.1 610.5,322.1 610.7,322.0 611.0,322.0 611.2,322.0 611.5,322.0 611.7,322.0 612.0,322.0 612.2,322.0 612.5,322.0 612.8,322.0 613.0,322.0 613.3,322.1 613.5,322.1 613.8,322.1 614.0,322.1 614.3,322.2 614.5,322.2 614.8,322.2 615.0,322.3 615.3,322.3 615.5,322.3 615.8,322.4 616.0,322.4 616.3,322.5 616.5,322.5 616.8,322.6 617.0,322.6 617.3,322.6 617.5,322.7 617.8,322.7 618.0,322.8 618.3,322.8 618.5,322.9 618.8,322.9 619.0,322.9 619.3,323.0 619.5,323.0 619.8,323.1 620.0,323.1 620.3,323.1 620.5,323.1 620.8,323.2 621.0,323.2 621.3,323.2 621.5,323.3 621.8,323.3 622.0,323.3 622.3,323.3 622.5,323.3 622.8,323.4 623.0,323.4 623.3,323.4 623.5,323.4 623.8,323.4 624.0,323.4 624.3,323.4 624.5,323.4 624.8,323.5 625.0,323.5 625.3,323.5 625.5,323.5 625.8,323.5 626.0,323.5 626.3,323.5 626.5,323.5 626.8,323.5 627.0,323.5 627.3,323.5 627.5,323.5 627.8,323.6 628.0,323.6 628.3,323.6 628.6,323.6 628.8,323.6 629.1,323.6 629.3,323.6 629.6,323.6 629.8,323.6 630.1,323.6 630.3,323.6 630.6,323.6 630.8,323.6 631.1,323.6 631.3,323.6 631.6,323.6 631.8,323.6 632.1,323.7 632.3,323.7 632.6,323.7 632.8,323.7 633.1,323.7 633.3,323.7 633.6,323.7 633.8,323.7 634.1,323.7 634.3,323.7 634.6,323.7 634.8,323.7 635.1,323.7 635.3,323.7 635.6,323.7 635.8,323.7 636.1,323.7 636.3,323.7 636.6,323.7 636.8,323.7 637.1,323.8 637.3,323.8 637.6,323.8 637.8,323.8 638.1,323.8 638.3,323.8 638.6,323.8 638.8,323.8 639.1,323.8 639.3,323.8 639.6,323.8 639.8,323.8 640.1,323.8 640.3,323.8 640.6,323.8 640.8,323.8 641.1,323.8 641.3,323.8 641.6,323.8 641.8,323.8 642.1,323.8 642.3,323.8 642.6,323.8 642.8,323.9 643.1,323.9 643.3,323.9 643.6,323.9 643.8,323.9 644.1,323.9 644.4,323.9 644.6,323.9 644.9,323.9 645.1,323.9 645.4,323.9 645.6,323.9 645.9,323.9 646.1,323.9 646.4,323.9 646.6,323.9 646.9,323.9 647.1,323.9 647.4,323.9 647.6,323.9 647.9,323.9 648.1,323.9 648.4,323.9 648.6,323.9 648.9,323.9 649.1,323.9 649.4,324.0 649.6,324.0 649.9,324.0 650.1,324.0 650.4,324.0 650.6,324.0 650.9,324.0 651.1,324.0 651.4,324.0 651.6,324.0 651.9,324.0 652.1,324.0 652.4,324.0 652.6,324.0 652.9,324.0 653.1,324.0 653.4,324.0 653.6,324.0 653.9,324.0 654.1,324.0 654.4,324.0 654.6,324.0 654.9,324.0 655.1,324.0 655.4,324.0 655.6,324.0 655.9,324.0 656.1,324.0 656.4,324.0 656.6,324.0 656.9,324.1 657.1,324.1 657.4,324.1 657.6,324.1 657.9,324.1 658.1,324.1 658.4,324.1 658.6,324.1 658.9,324.1 659.1,324.1 659.4,324.1 659.7,324.1 659.9,324.1 660.2,324.1 660.4,324.1 660.7,324.1 660.9,324.1 661.2,324.1 661.4,324.1 661.7,324.1 661.9,324.1 662.2,324.1 662.4,324.1 662.7,324.1 662.9,324.1 663.2,324.1 663.4,324.1 663.7,324.1 663.9,324.1 664.2,324.1 664.4,324.1 664.7,324.1 664.9,324.1 665.2,324.1 665.4,324.1 665.7,324.1 665.9,324.2 666.2,324.2 666.4,324.2 666.7,324.2 666.9,324.2 667.2,324.2 667.4,324.2 667.7,324.2 667.9,324.2 668.2,324.2 668.4,324.2 668.7,324.2 668.9,324.2 669.2,324.2 669.4,324.2 669.7,324.2 669.9,324.2 670.2,324.2 670.4,324.2 670.7,324.2 670.9,324.2 671.2,324.2 671.4,324.2 671.7,324.2 671.9,324.2 672.2,324.2 672.4,324.2 672.7,324.2 672.9,324.2 673.2,324.2 673.4,324.2 673.7,324.2 673.9,324.2 674.2,324.2 674.4,324.2 674.7,324.2 674.9,324.2 675.2,324.2 L675.2,324.6 z" fill="#b4ecb4" stroke="#5a5" stroke-width="0.5"/>
<path d="M571.6,324.6 L571.6,324.6 571.9,324.5 572.1,324.4 572.4,324.2 572.6,323.9 572.9,323.2 573.1,322.1 573.4,320.3 573.6,318.1 573.9,315.9 574.1,314.1 574.4,313.0 574.6,312.3 574.9,312.0 575.1,311.8 575.4,311.7 575.6,311.7 575.9,311.7 576.1,311.7 576.4,311.6 576.6,311.6 576.9,311.6 577.1,311.6 577.4,311.6 577.6,311.6 577.9,311.6 578.1,311.6 578.4,311.6 578.6,311.6 578.9,311.6 579.1,311.6 579.4,311.6 579.6,311.6 579.9,311.6 580.1,311.6 580.4,311.6 580.6,311.6 580.9,311.6 581.1,311.6 581.4,311.6 581.7,311.6 581.9,311.6 582.2,311.6 582.4,311.6 582.7,311.6 582.9,311.6 583.2,311.6 583.4,311.6 583.7,311.6 583.9,311.6 584.2,311.6 584.4,311.6 584.7,311.6 584.9,311.6 585.2,311.6 585.4,311.6 585.7,311.6 585.9,311.7 586.2,311.7 586.4,311.7 586.7,311.7 586.9,311.7 587.2,311.7 587.4,311.7 587.7,311.7 587.9,311.7 588.2,311.8 588.4,311.8 588.7,311.9 588.9,311.9 589.2,312.0 589.4,312.2 589.7,312.4 589.9,312.6 590.2,313.0 590.4,313.4 590.7,313.9 590.9,314.5 591.2,315.3 591.4,316.2 591.7,317.1 591.9,318.1 592.2,319.1 592.4,320.1 592.7,321.0 592.9,321.7 593.2,322.4 593.4,322.9 593.7,323.3 593.9,323.6 L593.9,324.6 z" fill="url(#hatch)" stroke="#55a" stroke-width="0.5"/>
<path d="M567.6,324.6 L567.6,323.4 567.7,323.0 567.8,322.5 568.0,321.9 568.1,321.1 568.2,320.1 568.3,318.9 568.5,317.4 568.6,315.7 568.7,313.6 568.8,311.2 569.0,308.4 569.1,305.2 569.2,301.6 569.3,297.6 569.5,293.1 569.6,288.3 569.7,283.1 569.8,277.6 570.0,271.8 570.1,265.9 570.2,259.9 570.3,254.0 570.5,248.2 570.6,242.7 570.7,237.6 570.8,233.1 571.0,229.2 571.1,226.1 571.2,223.8 571.3,222.3 571.5,221.9 571.6,222.3 571.7,223.8 571.8,226.1 572.0,229.2 572.1,233.1 572.2,237.6 572.3,242.7 572.5,248.2 572.6,254.0 572.7,259.9 572.8,265.9 573.0,271.8 573.1,277.6 573.2,283.1 573.4,288.3 573.5,293.1 573.6,297.6 573.7,301.6 573.9,305.2 574.0,308.4 574.1,311.2 574.2,313.6 574.4,315.7 574.5,317.4 574.6,318.9 574.7,320.1 574.9,321.1 575.0,321.9 575.1,322.5 575.2,323.0 575.4,323.4 L575.4,324.6 z" fill="#ee0f0f" stroke="#700" stroke-width="0.5"/>
<path d="M587.8,324.6 L587.8,324.5 587.9,324.5 588.0,324.5 588.1,324.4 588.3,324.4 588.4,324.4 588.5,324.3 588.6,324.2 588.8,324.2 588.9,324.1 589.0,324.0 589.2,323.9 589.3,323.7 589.4,323.6 589.5,323.4 589.7,323.2 589.8,323.0 589.9,322.8 590.0,322.6 590.2,322.3 590.3,322.1 590.4,321.8 590.5,321.5 590.7,321.2 590.8,320.8 590.9,320.5 591.0,320.2 591.2,319.9 591.3,319.6 591.4,319.3 591.5,319.0 591.7,318.7 591.8,318.5 591.9,318.3 592.0,318.1 592.2,317.9 592.3,317.8 592.4,317.8 592.5,317.8 592.7,317.8 592.8,317.8 592.9,317.9 593.0,318.1 593.2,318.3 593.3,318.5 593.4,318.7 593.5,319.0 593.7,319.3 593.8,319.6 593.9,319.9 594.0,320.2 594.2,320.5 594.3,320.8 594.4,321.2 594.5,321.5 594.7,321.8 594.8,322.1 594.9,322.3 595.0,322.6 595.2,322.8 595.3,323.0 595.4,323.2 595.5,323.4 595.7,323.6 595.8,323.7 595.9,323.9 596.0,324.0 596.2,324.1 596.3,324.2 596.4,324.2 596.5,324.3 596.7,324.4 596.8,324.4 596.9,324.4 597.1,324.5 597.2,324.5 597.3,324.5 L597.3,324.6 z" fill="#ee0f0f" stroke="#700" stroke-width="0.5"/>
<polyline points="549.8,273.7 550.1,289.6 550.3,300.9 550.6,307.7 550.8,313.4 551.1,316.4 551.3,319.2 551.6,320.3 551.8,321.8 552.1,322.1 552.3,322.6 552.6,322.9 552.8,323.4 553.1,323.3 553.3,323.3 553.6,324.0 553.8,323.7 554.1,323.4 554.3,323.6 554.6,323.9 554.8,324.0 555.1,323.5 555.3,324.2 555.6,323.7 555.8,323.6 556.1,324.1 556.3,324.0 556.6,324.0 556.8,323.8 557.1,324.0 557.3,323.6 557.6,323.5 557.8,324.0 558.1,323.6 558.3,324.2 558.6,324.2 558.8,323.7 559.1,323.6 559.3,323.6 559.6,323.5 559.8,323.6 560.1,324.0 560.3,323.7 560.6,323.5 560.8,324.2 561.1,323.9 561.3,324.1 561.6,324.1 561.8,323.9 562.1,323.7 562.3,323.5 562.6,324.1 562.8,323.9 563.1,323.5 563.3,323.7 563.6,323.8 563.8,324.1 564.1,323.8 564.3,324.0 564.6,323.8 564.8,323.7 565.1,323.9 565.3,323.6 565.6,323.9 565.9,323.9 566.1,323.6 566.4,324.0 566.6,324.1 566.9,323.8 567.1,323.9 567.4,323.6 567.6,324.0 567.9,323.9 568.1,324.2 568.4,323.8 568.6,323.8 568.9,323.4 569.1,322.5 569.4,321.8 569.6,318.9 569.9,315.2 570.1,309.0 570.4,300.1 570.6,287.7 570.9,272.4 571.1,254.8 571.4,237.0 571.6,220.9 571.9,209.3 572.1,204.0 572.4,205.7 572.6,214.6 572.9,228.5 573.1,245.3 573.4,261.4 573.6,275.4 573.9,286.6 574.1,295.6 574.4,301.4 574.6,305.1 574.9,308.4 575.1,309.7 575.4,309.9 575.6,310.9 575.9,310.5 576.1,311.0 576.4,311.5 576.6,310.9 576.9,311.5 577.1,310.5 577.4,310.4 577.6,310.9 577.9,310.4 578.1,311.3 578.4,311.0 578.6,311.3 578.9,311.5 579.1,310.5 579.4,311.5 579.6,310.3 579.9,310.8 580.1,310.6 580.4,311.5 580.6,310.4 580.9,310.5 581.1,311.4 581.4,311.3 581.7,311.4 581.9,310.9 582.2,311.5 582.4,310.5 582.7,310.9 582.9,310.6 583.2,311.2 583.4,310.7 583.7,311.0 583.9,310.7 584.2,311.0 584.4,310.3 584.7,310.4 584.9,310.5 585.2,311.1 585.4,311.3 585.7,311.4 585.9,311.4 586.2,310.3 586.4,311.2 586.7,310.4 586.9,311.3 587.2,310.8 587.4,311.3 587.7,311.2 587.9,310.7 588.2,310.9 588.4,310.5 588.7,311.4 588.9,311.4 589.2,311.6 589.4,311.3 589.7,309.9 589.9,310.2 590.2,310.2 590.4,310.6 590.7,310.4 590.9,310.5 591.2,310.6 591.4,309.6 591.7,308.4 591.9,307.2 592.2,306.8 592.4,306.5 592.7,305.0 592.9,301.6 593.2,297.0 593.4,298.2 593.7,301.8 593.9,303.2 594.2,304.6 594.4,305.9 594.7,308.0 594.9,310.0 595.2,312.7 595.4,314.6 595.7,316.5 595.9,317.7 596.2,319.3 596.4,320.3 596.7,320.5 597.0,320.9 597.2,321.5 597.5,321.8 597.7,322.1 598.0,321.9 598.2,321.5 598.5,322.0 598.7,321.9 599.0,321.8 599.2,322.1 599.5,322.2 599.7,321.9 600.0,321.6 600.2,321.6 600.5,322.1 600.7,321.7 601.0,321.7 601.2,321.9 601.5,322.0 601.7,322.2 602.0,321.8 602.2,321.8 602.5,322.1 602.7,322.2 603.0,322.2 603.2,321.7 603.5,321.6 603.7,321.9 604.0,321.8 604.2,321.7 604.5,322.1 604.7,321.9 605.0,321.9 605.2,321.6 605.5,322.1 605.7,321.5 606.0,322.0 606.2,321.7 606.5,321.4 606.7,322.0 607.0,321.7 607.2,322.0 607.5,321.6 607.7,321.6 608.0,321.2 608.2,321.5 608.5,321.2 608.7,321.3 609.0,321.2 609.2,321.5 609.5,321.7 609.7,321.3 610.0,321.6 610.2,321.2 610.5,321.6 610.7,321.2 611.0,321.1 611.2,320.9 611.5,321.5 611.7,321.5 612.0,321.3 612.2,320.9 612.5,321.5 612.8,321.3 613.0,321.4 613.3,321.6 613.5,321.3 613.8,321.5 614.0,321.4 614.3,321.2 614.5,321.3 614.8,321.7 615.0,321.4 615.3,321.5 615.5,321.4 615.8,322.0 616.0,321.8 616.3,321.6 616.5,321.7 616.8,321.8 617.0,321.8 617.3,321.8 617.5,321.8 617.8,321.7 618.0,321.8 618.3,321.8 618.5,322.1 618.8,322.4 619.0,322.3 619.3,322.0 619.5,322.1 619.8,322.2 620.0,322.6 620.3,322.6 620.5,322.3 620.8,322.5 621.0,322.7 621.3,322.1 621.5,322.7 621.8,322.2 622.0,322.5 622.3,322.2 622.5,322.4 622.8,322.8 623.0,322.8 623.3,322.4 623.5,322.7 623.8,322.7 624.0,322.5 624.3,322.6 624.5,322.5 624.8,322.7 625.0,322.9 625.3,322.6 625.5,323.0 625.8,322.6 626.0,322.5 626.3,323.0 626.5,323.1 626.8,322.5 627.0,323.0 627.3,322.8 627.5,323.0 627.8,323.1 628.0,323.0 628.3,323.1 628.6,322.6 628.8,322.6 629.1,322.6 629.3,323.1 629.6,323.0 629.8,323.2 630.1,322.6 630.3,322.5 630.6,322.5 630.8,322.6 631.1,322.8 631.3,322.9 631.6,323.2 631.8,323.3 632.1,322.8 632.3,322.6 632.6,322.6 632.8,323.0 633.1,322.9 633.3,322.7 633.6,323.1 633.8,322.8 634.1,322.9 634.3,323.0 634.6,323.0 634.8,323.2 635.1,323.2 635.3,323.1 635.6,322.6 635.8,322.8 636.1,323.4 636.3,322.8 636.6,323.3 636.8,322.9 637.1,322.7 637.3,322.7 637.6,322.7 637.8,322.7 638.1,322.9 638.3,323.4 638.6,323.2 638.8,322.9 639.1,323.0 639.3,322.7 639.6,323.3 639.8,322.8 640.1,323.0 640.3,323.0 640.6,323.4 640.8,323.2 641.1,323.1 641.3,322.9 641.6,323.0 641.8,323.0 642.1,322.9 642.3,323.2 642.6,323.2 642.8,322.8 643.1,323.0 643.3,323.1 643.6,322.8 643.8,322.9 644.1,323.0 644.4,322.8 644.6,323.2 644.9,322.8 645.1,323.1 645.4,323.2 645.6,323.2 645.9,323.5 646.1,322.9 646.4,322.8 646.6,323.3 646.9,322.8 647.1,323.5 647.4,323.2 647.6,322.8 647.9,323.1 648.1,323.4 648.4,323.1 648.6,323.6 648.9,323.0 649.1,323.1 649.4,323.1 649.6,323.1 649.9,323.5 650.1,322.9 650.4,323.0 650.6,322.9 650.9,323.4 651.1,323.4 651.4,323.1 651.6,322.9 651.9,323.2 652.1,323.4 652.4,323.3 652.6,323.4 652.9,323.3 653.1,322.9 653.4,323.1 653.6,323.5 653.9,323.0 654.1,323.0 654.4,323.4 654.6,323.7 654.9,323.2 655.1,323.4 655.4,323.6 655.6,323.0 655.9,323.4 656.1,323.6 656.4,323.5 656.6,322.9 656.9,323.4 657.1,323.3 657.4,323.5 657.6,323.6 657.9,323.6 658.1,323.7 658.4,323.4 658.6,323.4 658.9,323.2 659.1,323.1 659.4,323.1 659.7,323.6 659.9,323.3 660.2,323.6 660.4,323.5 660.7,323.4 660.9,323.4 661.2,323.1 661.4,323.4 661.7,323.6 661.9,323.3 662.2,323.5 662.4,323.1 662.7,323.7 662.9,323.6 663.2,323.7 663.4,323.5 663.7,323.2 663.9,323.7 664.2,323.3 664.4,323.1 664.7,323.6 664.9,323.2 665.2,323.2 665.4,323.1 665.7,323.1 665.9,323.3 666.2,323.5 666.4,323.5 666.7,323.7 666.9,323.8 667.2,323.3 667.4,323.6 667.7,323.7 667.9,323.4 668.2,323.7 668.4,323.3 668.7,323.1 668.9,323.5 669.2,323.8 669.4,323.7 669.7,323.6 669.9,323.2 670.2,323.1 670.4,323.4 670.7,323.5 670.9,323.8 671.2,323.2 671.4,323.8 671.7,323.6 671.9,323.3 672.2,323.3 672.4,323.7 672.7,323.1 672.9,323.4 673.2,323.3 673.4,323.7 673.7,323.3 673.9,323.8 674.2,323.4 674.4,323.8 674.7,323.3 674.9,323.4 675.2,323.4" fill="none" stroke="#1a1a1a" stroke-width="0.75"/>
<line x1="549.8" y1="195.5" x2="549.8" y2="324.6" stroke="#555" stroke-width="0.9"/>
<line x1="549.8" y1="324.6" x2="675.2" y2="324.6" stroke="#555" stroke-width="0.9"/>
<path d="M544.8 324.6H549.8M547.2 320.9H549.8M547.2 317.2H549.8M547.2 313.5H549.8M547.2 309.8H549.8M547.2 306.1H549.8M547.2 302.4H549.8M547.2 298.7H549.8M547.2 295.0H549.8M547.2 291.3H549.8M544.8 287.6H549.8M547.2 283.9H549.8M547.2 280.2H549.8M547.2 276.5H549.8M547.2 272.8H549.8M547.2 269.1H549.8M547.2 265.4H549.8M547.2 261.7H549.8M547.2 258.0H549.8M547.2 254.3H549.8M544.8 250.6H549.8M547.2 246.9H549.8M547.2 243.2H549.8M547.2 239.5H549.8M547.2 235.8H549.8M547.2 232.1H549.8M547.2 228.3H549.8M547.2 224.6H549.8M547.2 220.9H549.8M547.2 217.2H549.8M544.8 213.5H549.8M547.2 209.8H549.8M547.2 206.1H549.8M547.2 202.4H549.8M547.2 198.7H549.8M547.2 195.0H549.8M549.8 324.6v5.3M554.8 324.6v2.6M559.8 324.6v2.6M564.8 324.6v2.6M569.9 324.6v2.6M574.9 324.6v5.3M579.9 324.6v2.6M584.9 324.6v2.6M589.9 324.6v2.6M594.9 324.6v2.6M600.0 324.6v5.3M605.0 324.6v2.6M610.0 324.6v2.6M615.0 324.6v2.6M620.0 324.6v2.6M625.0 324.6v5.3M630.1 324.6v2.6M635.1 324.6v2.6M640.1 324.6v2.6M645.1 324.6v2.6M650.1 324.6v5.3M655.1 324.6v2.6M660.2 324.6v2.6M665.2 324.6v2.6M670.2 324.6v2.6M675.2 324.6v5.3" stroke="#3a3a3a" stroke-width="0.85" fill="none"/>
<text transform="translate(542.7,325.4) rotate(-90)" font-size="10.2" text-anchor="middle" fill="#333" textLength="4.1" lengthAdjust="spacingAndGlyphs">0</text>
<text transform="translate(542.7,288.4) rotate(-90)" font-size="10.2" text-anchor="middle" fill="#333" textLength="12.299999999999999" lengthAdjust="spacingAndGlyphs">200</text>
<text transform="translate(542.7,251.4) rotate(-90)" font-size="10.2" text-anchor="middle" fill="#333" textLength="12.299999999999999" lengthAdjust="spacingAndGlyphs">400</text>
<text transform="translate(542.7,214.3) rotate(-90)" font-size="10.2" text-anchor="middle" fill="#333" textLength="12.299999999999999" lengthAdjust="spacingAndGlyphs">600</text>
<text x="549.5" y="338.7" font-size="10.6" text-anchor="middle" fill="#333" textLength="4.4" lengthAdjust="spacingAndGlyphs">0</text>
<text x="574.6" y="338.7" font-size="10.6" text-anchor="middle" fill="#333" textLength="8.8" lengthAdjust="spacingAndGlyphs">50</text>
<text x="599.7" y="338.7" font-size="10.6" text-anchor="middle" fill="#333" textLength="13.200000000000001" lengthAdjust="spacingAndGlyphs">100</text>
<text x="624.7" y="338.7" font-size="10.6" text-anchor="middle" fill="#333" textLength="13.200000000000001" lengthAdjust="spacingAndGlyphs">150</text>
<text x="649.8" y="338.7" font-size="10.6" text-anchor="middle" fill="#333" textLength="13.200000000000001" lengthAdjust="spacingAndGlyphs">200</text>
<text x="674.9" y="338.7" font-size="10.6" text-anchor="middle" fill="#333" textLength="13.200000000000001" lengthAdjust="spacingAndGlyphs">250</text>
<path d="M569.8,329.4L572.1,325.6L574.4,329.4z" fill="#000"/>
<g filter="url(#b3)"><rect x="622.2" y="198.8" width="10.5" height="48.5" fill="#b4b4bc"/><rect x="623.7" y="200.3" width="7.5" height="7.2" fill="#a8a8dc"/><rect x="623.7" y="209.60000000000002" width="7.5" height="7.4" fill="#a8f4a8"/><rect x="622.8000000000001" y="218.0" width="9.3" height="9.2" rx="4" fill="#ff0000"/><rect x="622.8000000000001" y="227.60000000000002" width="9.3" height="9.2" rx="4" fill="#ff0000"/><rect x="623.7" y="238.3" width="7.5" height="7.2" fill="#dcdcf4"/><text x="635.8000000000001" y="206.4" font-size="7.4" font-weight="bold" fill="#5050ff" textLength="18.5" lengthAdjust="spacingAndGlyphs">Debris</text><text x="635.8000000000001" y="216.0" font-size="7.4" font-weight="bold" fill="#5050ff" textLength="35.5" lengthAdjust="spacingAndGlyphs">Aggregates</text><text x="635.8000000000001" y="225.60000000000002" font-size="7.4" font-weight="bold" fill="#5050ff" textLength="9.5" lengthAdjust="spacingAndGlyphs">Dip</text><text x="647.3000000000001" y="225.60000000000002" font-size="7.4" fill="#8080ff" opacity="0.7">G1</text><text x="635.8000000000001" y="235.20000000000002" font-size="7.4" font-weight="bold" fill="#5050ff" textLength="9.5" lengthAdjust="spacingAndGlyphs">Dip</text><text x="647.3000000000001" y="235.20000000000002" font-size="7.4" fill="#8080ff" opacity="0.7">G2</text><text x="635.8000000000001" y="244.8" font-size="7.4" font-weight="bold" fill="#5050ff" textLength="9.5" lengthAdjust="spacingAndGlyphs">Dip</text><text x="647.3000000000001" y="244.8" font-size="7.4" fill="#8080ff" opacity="0.7">S</text></g>
<text x="589.5" y="279.2" font-size="9.7" text-anchor="start" fill="#222" textLength="96.3" lengthAdjust="spacingAndGlyphs">50 nM WT-tRiMetF31/24 h</text>
<path d="M368.9,345.5V279 M368.9,345.5H436" stroke="#111" stroke-width="1.3" fill="none"/>
<path d="M366.1,280.5 L368.9,274.5 L371.7,280.5z M435,342.7 L441,345.5 L435,348.3z" fill="#111"/>
<text transform="translate(363.6,312) rotate(-90)" font-size="11" text-anchor="middle" fill="#111" font-weight="bold" textLength="35.8" lengthAdjust="spacingAndGlyphs">Number</text>
<text x="389.4" y="358.4" font-size="11" text-anchor="start" fill="#111" font-weight="bold" textLength="23.4" lengthAdjust="spacingAndGlyphs">PE-A</text>
<text x="533.5" y="389.3" font-size="10.2" text-anchor="middle" fill="#333" textLength="42.5" lengthAdjust="spacingAndGlyphs">HCC1806</text>
<line x1="484.1" y1="401" x2="484.1" y2="491.4" stroke="#000" stroke-width="1"/>
<line x1="484.1" y1="491.4" x2="612.1" y2="491.4" stroke="#000" stroke-width="1"/>
<line x1="548.5" y1="491.4" x2="548.5" y2="494.4" stroke="#000" stroke-width="1"/>
<line x1="612" y1="491.4" x2="612" y2="494.4" stroke="#000" stroke-width="1"/>
<line x1="481.1" y1="491.4" x2="484.1" y2="491.4" stroke="#000" stroke-width="1"/>
<text x="477.8" y="494.0" font-size="7.5" text-anchor="end" fill="#1a1a1a">0</text>
<line x1="481.1" y1="478.6" x2="484.1" y2="478.6" stroke="#000" stroke-width="1"/>
<text x="477.8" y="481.2" font-size="7.5" text-anchor="end" fill="#1a1a1a">2</text>
<line x1="481.1" y1="465.7" x2="484.1" y2="465.7" stroke="#000" stroke-width="1"/>
<text x="477.8" y="468.3" font-size="7.5" text-anchor="end" fill="#1a1a1a">4</text>
<line x1="481.1" y1="452.9" x2="484.1" y2="452.9" stroke="#000" stroke-width="1"/>
<text x="477.8" y="455.5" font-size="7.5" text-anchor="end" fill="#1a1a1a">6</text>
<line x1="481.1" y1="440.0" x2="484.1" y2="440.0" stroke="#000" stroke-width="1"/>
<text x="477.8" y="442.6" font-size="7.5" text-anchor="end" fill="#1a1a1a">8</text>
<line x1="481.1" y1="427.2" x2="484.1" y2="427.2" stroke="#000" stroke-width="1"/>
<text x="477.8" y="429.8" font-size="7.5" text-anchor="end" fill="#1a1a1a">10</text>
<line x1="481.1" y1="414.4" x2="484.1" y2="414.4" stroke="#000" stroke-width="1"/>
<text x="477.8" y="417.0" font-size="7.5" text-anchor="end" fill="#1a1a1a">12</text>
<line x1="481.1" y1="401.5" x2="484.1" y2="401.5" stroke="#000" stroke-width="1"/>
<text x="477.8" y="404.1" font-size="7.5" text-anchor="end" fill="#1a1a1a">14</text>
<rect x="500.4" y="449.3" width="14.5" height="42.1" fill="#4472c4"/>
<path d="M507.6,445.5V453.2M505.6,445.5h4M505.6,453.2h4" stroke="#222" stroke-width="0.8" fill="none"/>
<rect x="518.3" y="440.4" width="14.2" height="51.0" fill="#ed7d31"/>
<rect x="564" y="437.0" width="14.0" height="54.4" fill="#4472c4"/>
<path d="M571.0,436.3V437.8M569.0,436.3h4M569.0,437.8h4" stroke="#222" stroke-width="0.8" fill="none"/>
<rect x="581.9" y="419.1" width="14.4" height="72.3" fill="#ed7d31"/>
<path d="M589.1,414.9V423.3M587.1,414.9h4M587.1,423.3h4" stroke="#222" stroke-width="0.8" fill="none"/>
<line x1="507" y1="432.8" x2="525.4" y2="432.8" stroke="#000" stroke-width="1"/>
<line x1="570.8" y1="408.6" x2="589.2" y2="408.6" stroke="#000" stroke-width="1"/>
<text x="516.2" y="432.3" font-size="10" text-anchor="middle" fill="#000">*</text>
<text x="580" y="408.1" font-size="10" text-anchor="middle" fill="#000">*</text>
<text x="516.5" y="503.6" font-size="8.6" text-anchor="middle" fill="#222" textLength="15" lengthAdjust="spacingAndGlyphs">24 h</text>
<text x="580.2" y="503.6" font-size="8.6" text-anchor="middle" fill="#222" textLength="15" lengthAdjust="spacingAndGlyphs">48 h</text>
<text x="548.6" y="516" font-size="8.8" text-anchor="middle" fill="#222" font-weight="bold" textLength="85.6" lengthAdjust="spacingAndGlyphs">Time post-transfection</text>
<text transform="translate(464.4,446.7) rotate(-90)" font-size="8.8" text-anchor="middle" fill="#222" font-weight="bold" textLength="73.5" lengthAdjust="spacingAndGlyphs">% of G2 population</text>
<rect x="462.9" y="532.6" width="3.5" height="4" fill="#4472c4"/>
<rect x="538.8" y="532.6" width="3.5" height="4" fill="#ed7d31"/>
<text x="467.9" y="537.6" font-size="7.6" text-anchor="start" fill="#222" textLength="62.7" lengthAdjust="spacingAndGlyphs">50 nM Scr-tRiMetF31</text>
<text x="544.3" y="537.6" font-size="7.6" text-anchor="start" fill="#222" textLength="62.5" lengthAdjust="spacingAndGlyphs">50 nM WT-tRiMetF31</text>
</svg>
</body></html>
